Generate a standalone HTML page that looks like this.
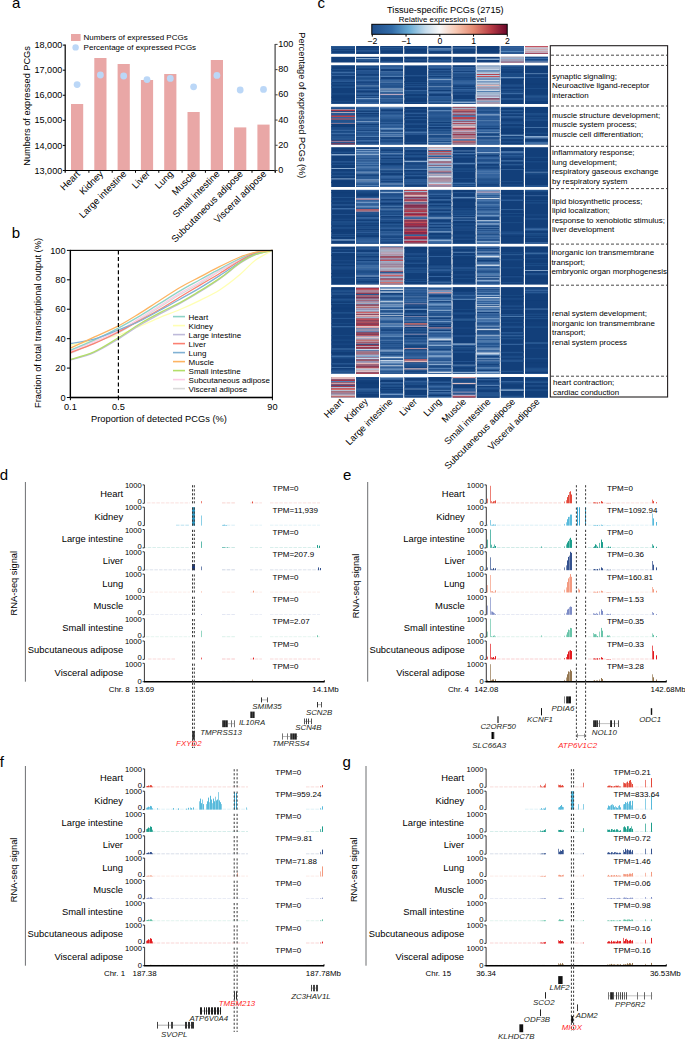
<!DOCTYPE html>
<html><head><meta charset="utf-8"><style>
html,body{margin:0;padding:0;background:#fff}
body{width:685px;height:1041px;overflow:hidden}
svg{display:block}
text{font-family:"Liberation Sans", sans-serif}
</style></head><body>
<svg width="685" height="1041" viewBox="0 0 685 1041">
<text x="12.0" y="7.7" font-size="15">a</text>
<rect x="71.00" y="104.00" width="12.20" height="66.50" fill="#E9A7A6"/>
<rect x="94.30" y="58.00" width="12.20" height="112.50" fill="#E9A7A6"/>
<rect x="117.60" y="64.00" width="12.20" height="106.50" fill="#E9A7A6"/>
<rect x="140.90" y="80.00" width="12.20" height="90.50" fill="#E9A7A6"/>
<rect x="164.20" y="74.00" width="12.20" height="96.50" fill="#E9A7A6"/>
<rect x="187.50" y="112.00" width="12.20" height="58.50" fill="#E9A7A6"/>
<rect x="210.80" y="60.00" width="12.20" height="110.50" fill="#E9A7A6"/>
<rect x="234.10" y="127.40" width="12.20" height="43.10" fill="#E9A7A6"/>
<rect x="257.40" y="124.60" width="12.20" height="45.90" fill="#E9A7A6"/>
<circle cx="77.10" cy="84.6" r="3.4" fill="#BBD7F7"/>
<circle cx="100.40" cy="75" r="3.4" fill="#BBD7F7"/>
<circle cx="123.70" cy="76" r="3.4" fill="#BBD7F7"/>
<circle cx="147.00" cy="79.6" r="3.4" fill="#BBD7F7"/>
<circle cx="170.30" cy="78.4" r="3.4" fill="#BBD7F7"/>
<circle cx="193.60" cy="86.8" r="3.4" fill="#BBD7F7"/>
<circle cx="216.90" cy="75.4" r="3.4" fill="#BBD7F7"/>
<circle cx="240.20" cy="90" r="3.4" fill="#BBD7F7"/>
<circle cx="263.50" cy="89.4" r="3.4" fill="#BBD7F7"/>
<line x1="65.20" y1="44.60" x2="65.20" y2="172.70" stroke="#000" stroke-width="1.2"/>
<line x1="64.60" y1="170.50" x2="275.90" y2="170.50" stroke="#000" stroke-width="1.2"/>
<line x1="275.10" y1="44.00" x2="275.10" y2="172.50" stroke="#444" stroke-width="1.2"/>
<line x1="62.80" y1="45.10" x2="65.20" y2="45.10" stroke="#000" stroke-width="1"/>
<text x="62.3" y="48.2" font-size="9.1" text-anchor="end">18,000</text>
<line x1="62.80" y1="70.18" x2="65.20" y2="70.18" stroke="#000" stroke-width="1"/>
<text x="62.3" y="73.3" font-size="9.1" text-anchor="end">17,000</text>
<line x1="62.80" y1="95.26" x2="65.20" y2="95.26" stroke="#000" stroke-width="1"/>
<text x="62.3" y="98.4" font-size="9.1" text-anchor="end">16,000</text>
<line x1="62.80" y1="120.34" x2="65.20" y2="120.34" stroke="#000" stroke-width="1"/>
<text x="62.3" y="123.4" font-size="9.1" text-anchor="end">15,000</text>
<line x1="62.80" y1="145.42" x2="65.20" y2="145.42" stroke="#000" stroke-width="1"/>
<text x="62.3" y="148.5" font-size="9.1" text-anchor="end">14,000</text>
<line x1="62.80" y1="170.50" x2="65.20" y2="170.50" stroke="#000" stroke-width="1"/>
<text x="62.3" y="173.6" font-size="9.1" text-anchor="end">13,000</text>
<line x1="275.10" y1="44.40" x2="277.60" y2="44.40" stroke="#444" stroke-width="1"/>
<text x="278.2" y="47.0" font-size="9.1">100</text>
<line x1="275.10" y1="69.62" x2="277.60" y2="69.62" stroke="#444" stroke-width="1"/>
<text x="278.2" y="72.2" font-size="9.1">80</text>
<line x1="275.10" y1="94.84" x2="277.60" y2="94.84" stroke="#444" stroke-width="1"/>
<text x="278.2" y="97.4" font-size="9.1">60</text>
<line x1="275.10" y1="120.06" x2="277.60" y2="120.06" stroke="#444" stroke-width="1"/>
<text x="278.2" y="122.7" font-size="9.1">40</text>
<line x1="275.10" y1="145.28" x2="277.60" y2="145.28" stroke="#444" stroke-width="1"/>
<text x="278.2" y="147.9" font-size="9.1">20</text>
<line x1="275.10" y1="170.50" x2="277.60" y2="170.50" stroke="#444" stroke-width="1"/>
<text x="278.2" y="173.1" font-size="9.1">0</text>
<line x1="88.90" y1="170.50" x2="88.90" y2="172.80" stroke="#000" stroke-width="1"/>
<line x1="112.20" y1="170.50" x2="112.20" y2="172.80" stroke="#000" stroke-width="1"/>
<line x1="135.50" y1="170.50" x2="135.50" y2="172.80" stroke="#000" stroke-width="1"/>
<line x1="158.80" y1="170.50" x2="158.80" y2="172.80" stroke="#000" stroke-width="1"/>
<line x1="182.10" y1="170.50" x2="182.10" y2="172.80" stroke="#000" stroke-width="1"/>
<line x1="205.40" y1="170.50" x2="205.40" y2="172.80" stroke="#000" stroke-width="1"/>
<line x1="228.70" y1="170.50" x2="228.70" y2="172.80" stroke="#000" stroke-width="1"/>
<line x1="252.00" y1="170.50" x2="252.00" y2="172.80" stroke="#000" stroke-width="1"/>
<line x1="275.30" y1="170.50" x2="275.30" y2="172.80" stroke="#000" stroke-width="1"/>
<text x="0" y="0" font-size="9.5" text-anchor="end" transform="translate(80.5,174.6) rotate(-45)">Heart</text>
<text x="0" y="0" font-size="9.5" text-anchor="end" transform="translate(103.8,174.6) rotate(-45)">Kidney</text>
<text x="0" y="0" font-size="9.5" text-anchor="end" transform="translate(127.1,174.6) rotate(-45)">Large intestine</text>
<text x="0" y="0" font-size="9.5" text-anchor="end" transform="translate(150.4,174.6) rotate(-45)">Liver</text>
<text x="0" y="0" font-size="9.5" text-anchor="end" transform="translate(173.7,174.6) rotate(-45)">Lung</text>
<text x="0" y="0" font-size="9.5" text-anchor="end" transform="translate(197.0,174.6) rotate(-45)">Muscle</text>
<text x="0" y="0" font-size="9.5" text-anchor="end" transform="translate(220.3,174.6) rotate(-45)">Small intestine</text>
<text x="0" y="0" font-size="9.5" text-anchor="end" transform="translate(243.6,174.6) rotate(-45)">Subcutaneous adipose</text>
<text x="0" y="0" font-size="9.5" text-anchor="end" transform="translate(266.9,174.6) rotate(-45)">Visceral adipose</text>
<rect x="71.00" y="34.00" width="9.60" height="7.00" fill="#E9A7A6"/>
<text x="83.6" y="40.3" font-size="8">Numbers of expressed PCGs</text>
<circle cx="75.6" cy="47.4" r="3.2" fill="#BBD7F7"/>
<text x="83.6" y="50.3" font-size="8">Percentage of expressed PCGs</text>
<text x="0" y="0" font-size="9.2" text-anchor="middle" transform="translate(29.8,105.9) rotate(-90)">Numbers of expressed PCGs</text>
<text x="0" y="0" font-size="9.2" text-anchor="middle" transform="translate(299.4,105.3) rotate(90)">Percentage of expressed PCGs (%)</text>
<text x="11.8" y="237.6" font-size="15">b</text>
<path d="M70.4,345.3 C74.3,344.5 86.0,342.4 94.0,340.7 C102.0,339.0 110.7,337.4 118.4,335.0 C126.1,332.6 133.1,329.1 140.0,326.2 C146.9,323.2 153.3,320.1 160.0,317.3 C166.7,314.6 173.3,312.4 180.0,309.5 C186.7,306.7 193.3,303.6 200.0,300.3 C206.7,297.0 213.3,294.0 220.0,289.7 C226.7,285.4 234.2,279.4 240.0,274.5 C245.8,269.7 249.6,264.6 255.0,260.5 C260.4,256.5 269.5,252.1 272.4,250.4" fill="none" stroke="#FFFFB3" stroke-width="1.3"/>
<path d="M70.4,353.4 C74.3,351.7 86.0,346.5 94.0,343.1 C102.0,339.6 110.7,336.7 118.4,332.8 C126.1,328.9 133.1,323.8 140.0,319.5 C146.9,315.2 153.3,311.2 160.0,307.0 C166.7,302.9 173.3,298.5 180.0,294.5 C186.7,290.6 193.3,287.4 200.0,283.5 C206.7,279.6 213.3,274.9 220.0,271.0 C226.7,267.1 234.2,263.0 240.0,260.0 C245.8,257.0 249.6,254.6 255.0,253.0 C260.4,251.5 269.5,250.8 272.4,250.4" fill="none" stroke="#D9D9D9" stroke-width="1.3"/>
<path d="M70.4,351.2 C74.3,349.6 86.0,345.0 94.0,341.6 C102.0,338.2 110.7,334.9 118.4,331.0 C126.1,327.1 133.1,322.3 140.0,318.1 C146.9,313.8 153.3,309.7 160.0,305.6 C166.7,301.4 173.3,297.0 180.0,293.1 C186.7,289.1 193.3,285.8 200.0,282.0 C206.7,278.2 213.3,274.1 220.0,270.3 C226.7,266.5 234.2,262.1 240.0,259.2 C245.8,256.3 249.6,254.4 255.0,252.9 C260.4,251.4 269.5,250.8 272.4,250.4" fill="none" stroke="#FCCDE5" stroke-width="1.3"/>
<path d="M70.4,360.0 C74.3,358.8 86.0,356.1 94.0,352.6 C102.0,349.1 110.7,343.6 118.4,339.0 C126.1,334.3 133.1,329.1 140.0,325.0 C146.9,320.8 153.3,317.6 160.0,313.9 C166.7,310.3 173.3,307.1 180.0,303.4 C186.7,299.6 193.3,295.7 200.0,291.6 C206.7,287.5 213.3,283.4 220.0,278.6 C226.7,273.9 234.2,267.3 240.0,263.3 C245.8,259.4 249.6,257.0 255.0,254.8 C260.4,252.7 269.5,251.1 272.4,250.4" fill="none" stroke="#BEBADA" stroke-width="1.3"/>
<path d="M70.4,350.1 C74.3,348.5 86.0,343.8 94.0,340.1 C102.0,336.5 110.7,332.1 118.4,328.1 C126.1,324.0 133.1,320.0 140.0,315.9 C146.9,311.7 153.3,307.5 160.0,303.4 C166.7,299.2 173.3,294.8 180.0,290.9 C186.7,286.9 193.3,283.5 200.0,279.8 C206.7,276.1 213.3,272.3 220.0,268.8 C226.7,265.2 234.2,261.2 240.0,258.5 C245.8,255.8 249.6,254.0 255.0,252.6 C260.4,251.3 269.5,250.8 272.4,250.4" fill="none" stroke="#8DD3C7" stroke-width="1.3"/>
<path d="M70.4,352.6 C74.3,351.1 86.0,347.1 94.0,343.7 C102.0,340.2 110.7,335.9 118.4,332.0 C126.1,328.1 133.1,324.1 140.0,320.3 C146.9,316.5 153.3,313.1 160.0,309.2 C166.7,305.4 173.3,301.1 180.0,297.0 C186.7,293.0 193.3,289.1 200.0,285.1 C206.7,281.1 213.3,277.3 220.0,273.2 C226.7,269.1 234.2,264.0 240.0,260.7 C245.8,257.4 249.6,255.1 255.0,253.3 C260.4,251.6 269.5,250.9 272.4,250.4" fill="none" stroke="#FB8072" stroke-width="1.3"/>
<path d="M70.4,343.5 C74.3,342.8 86.0,341.5 94.0,339.2 C102.0,337.0 110.7,333.0 118.4,330.0 C126.1,326.9 133.1,324.3 140.0,321.0 C146.9,317.7 153.3,313.9 160.0,310.3 C166.7,306.6 173.3,303.0 180.0,299.2 C186.7,295.5 193.3,291.9 200.0,287.9 C206.7,283.9 213.3,279.7 220.0,275.4 C226.7,271.1 234.2,265.7 240.0,262.2 C245.8,258.6 249.6,256.0 255.0,254.1 C260.4,252.1 269.5,251.0 272.4,250.4" fill="none" stroke="#80B1D3" stroke-width="1.3"/>
<path d="M70.4,359.4 C74.3,358.2 86.0,355.5 94.0,351.9 C102.0,348.3 110.7,342.5 118.4,337.8 C126.1,333.1 133.1,327.8 140.0,323.7 C146.9,319.5 153.3,316.1 160.0,312.6 C166.7,309.1 173.3,306.2 180.0,302.6 C186.7,299.0 193.3,294.9 200.0,290.9 C206.7,286.8 213.3,282.7 220.0,278.1 C226.7,273.4 234.2,266.7 240.0,262.8 C245.8,258.9 249.6,256.7 255.0,254.7 C260.4,252.6 269.5,251.1 272.4,250.4" fill="none" stroke="#B3DE69" stroke-width="1.3"/>
<path d="M70.4,348.2 C74.3,346.4 86.0,340.9 94.0,337.2 C102.0,333.5 110.7,329.9 118.4,325.9 C126.1,321.8 133.1,317.3 140.0,313.1 C146.9,308.8 153.3,304.5 160.0,300.3 C166.7,296.0 173.3,291.4 180.0,287.5 C186.7,283.6 193.3,280.4 200.0,276.9 C206.7,273.4 213.3,269.7 220.0,266.4 C226.7,263.1 234.2,259.4 240.0,257.0 C245.8,254.7 249.6,253.4 255.0,252.3 C260.4,251.2 269.5,250.7 272.4,250.4" fill="none" stroke="#FDB462" stroke-width="1.3"/>
<line x1="118.40" y1="250.40" x2="118.40" y2="397.50" stroke="#000" stroke-width="1.2" stroke-dasharray="4 2.6"/>
<rect x="70.4" y="250.4" width="201.99999999999997" height="147.1" fill="none" stroke="#000" stroke-width="1.1"/>
<line x1="70.40" y1="249.90" x2="70.40" y2="398.10" stroke="#000" stroke-width="1.3"/>
<line x1="69.80" y1="397.50" x2="272.90" y2="397.50" stroke="#000" stroke-width="1.3"/>
<line x1="66.90" y1="397.50" x2="70.40" y2="397.50" stroke="#000" stroke-width="1"/>
<text x="65.6" y="400.7" font-size="9.2" text-anchor="end">0</text>
<line x1="66.90" y1="368.08" x2="70.40" y2="368.08" stroke="#000" stroke-width="1"/>
<text x="65.6" y="371.3" font-size="9.2" text-anchor="end">20</text>
<line x1="66.90" y1="338.66" x2="70.40" y2="338.66" stroke="#000" stroke-width="1"/>
<text x="65.6" y="341.9" font-size="9.2" text-anchor="end">40</text>
<line x1="66.90" y1="309.24" x2="70.40" y2="309.24" stroke="#000" stroke-width="1"/>
<text x="65.6" y="312.4" font-size="9.2" text-anchor="end">60</text>
<line x1="66.90" y1="279.82" x2="70.40" y2="279.82" stroke="#000" stroke-width="1"/>
<text x="65.6" y="283.0" font-size="9.2" text-anchor="end">80</text>
<line x1="66.90" y1="250.40" x2="70.40" y2="250.40" stroke="#000" stroke-width="1"/>
<text x="65.6" y="253.6" font-size="9.2" text-anchor="end">100</text>
<line x1="70.40" y1="397.50" x2="70.40" y2="400.20" stroke="#000" stroke-width="1"/>
<text x="70.4" y="409.9" font-size="9.2" text-anchor="middle">0.1</text>
<line x1="118.40" y1="397.50" x2="118.40" y2="400.20" stroke="#000" stroke-width="1"/>
<text x="118.4" y="409.9" font-size="9.2" text-anchor="middle">0.5</text>
<line x1="272.40" y1="397.50" x2="272.40" y2="400.20" stroke="#000" stroke-width="1"/>
<text x="272.4" y="409.9" font-size="9.2" text-anchor="middle">90</text>
<text x="159.0" y="422.0" font-size="9.3" text-anchor="middle">Proportion of detected PCGs (%)</text>
<text x="0" y="0" font-size="9.3" text-anchor="middle" transform="translate(41.0,323) rotate(-90)">Fraction of total transcriptional output (%)</text>
<line x1="173.00" y1="316.60" x2="185.00" y2="316.60" stroke="#8DD3C7" stroke-width="1.6"/>
<text x="188.6" y="319.5" font-size="8">Heart</text>
<line x1="173.00" y1="325.60" x2="185.00" y2="325.60" stroke="#FFFFB3" stroke-width="1.6"/>
<text x="188.6" y="328.5" font-size="8">Kidney</text>
<line x1="173.00" y1="334.60" x2="185.00" y2="334.60" stroke="#BEBADA" stroke-width="1.6"/>
<text x="188.6" y="337.5" font-size="8">Large intestine</text>
<line x1="173.00" y1="343.60" x2="185.00" y2="343.60" stroke="#FB8072" stroke-width="1.6"/>
<text x="188.6" y="346.5" font-size="8">Liver</text>
<line x1="173.00" y1="352.60" x2="185.00" y2="352.60" stroke="#80B1D3" stroke-width="1.6"/>
<text x="188.6" y="355.5" font-size="8">Lung</text>
<line x1="173.00" y1="361.60" x2="185.00" y2="361.60" stroke="#FDB462" stroke-width="1.6"/>
<text x="188.6" y="364.5" font-size="8">Muscle</text>
<line x1="173.00" y1="370.60" x2="185.00" y2="370.60" stroke="#B3DE69" stroke-width="1.6"/>
<text x="188.6" y="373.5" font-size="8">Small intestine</text>
<line x1="173.00" y1="379.60" x2="185.00" y2="379.60" stroke="#FCCDE5" stroke-width="1.6"/>
<text x="188.6" y="382.5" font-size="8">Subcutaneous adipose</text>
<line x1="173.00" y1="388.60" x2="185.00" y2="388.60" stroke="#D9D9D9" stroke-width="1.6"/>
<text x="188.6" y="391.5" font-size="8">Visceral adipose</text>
<text x="317.6" y="7.7" font-size="15">c</text>
<text x="445.4" y="12.8" font-size="9.2" text-anchor="middle">Tissue-specific PCGs (2715)</text>
<text x="442.5" y="22.0" font-size="7.9" text-anchor="middle">Relative expression level</text>
<defs><linearGradient id="cb" x1="0" x2="1" y1="0" y2="0"><stop offset="0.0" stop-color="#1f4e8a"/><stop offset="0.15" stop-color="#336ca8"/><stop offset="0.28" stop-color="#6baed6"/><stop offset="0.4" stop-color="#c6dcec"/><stop offset="0.5" stop-color="#f7f7f7"/><stop offset="0.62" stop-color="#f8c9b4"/><stop offset="0.75" stop-color="#e48a72"/><stop offset="0.88" stop-color="#b83c45"/><stop offset="1.0" stop-color="#6a062a"/></linearGradient></defs>
<rect x="371.8" y="24.3" width="135.4" height="10" fill="url(#cb)" stroke="#000" stroke-width="1"/>
<line x1="372.30" y1="34.30" x2="372.30" y2="36.60" stroke="#000" stroke-width="1"/>
<text x="372.3" y="43.9" font-size="8.7" text-anchor="middle">−2</text>
<line x1="406.05" y1="34.30" x2="406.05" y2="36.60" stroke="#000" stroke-width="1"/>
<text x="406.1" y="43.9" font-size="8.7" text-anchor="middle">−1</text>
<line x1="439.80" y1="34.30" x2="439.80" y2="36.60" stroke="#000" stroke-width="1"/>
<text x="439.8" y="43.9" font-size="8.7" text-anchor="middle">0</text>
<line x1="473.55" y1="34.30" x2="473.55" y2="36.60" stroke="#000" stroke-width="1"/>
<text x="473.6" y="43.9" font-size="8.7" text-anchor="middle">1</text>
<line x1="507.30" y1="34.30" x2="507.30" y2="36.60" stroke="#000" stroke-width="1"/>
<text x="507.3" y="43.9" font-size="8.7" text-anchor="middle">2</text>
<rect x="331.20" y="46.00" width="23.80" height="7.80" fill="#123f7a"/>
<rect x="331.2" y="46.00" width="23.8" height="1.50" fill="#285891"/>
<rect x="331.2" y="47.50" width="23.8" height="1.50" fill="#21518c"/>
<rect x="331.2" y="49.90" width="23.8" height="0.90" fill="#21518c"/>
<rect x="331.2" y="53.10" width="23.8" height="0.70" fill="#3b6aa3"/>
<rect x="356.10" y="46.00" width="22.90" height="7.80" fill="#123f7a"/>
<rect x="356.1" y="46.90" width="22.9" height="0.70" fill="#113d77"/>
<rect x="356.1" y="47.60" width="22.9" height="1.20" fill="#1c4c87"/>
<rect x="356.1" y="48.80" width="22.9" height="0.70" fill="#1c4c87"/>
<rect x="356.1" y="50.40" width="22.9" height="1.00" fill="#33639e"/>
<rect x="356.1" y="52.90" width="22.9" height="0.90" fill="#113d77"/>
<rect x="380.20" y="46.00" width="22.90" height="7.80" fill="#123f7a"/>
<rect x="380.2" y="46.90" width="22.9" height="1.20" fill="#285891"/>
<rect x="380.2" y="48.10" width="22.9" height="1.20" fill="#1c4c87"/>
<rect x="380.2" y="49.30" width="22.9" height="1.00" fill="#21518c"/>
<rect x="380.2" y="53.30" width="22.9" height="0.50" fill="#21518c"/>
<rect x="404.30" y="46.00" width="22.90" height="7.80" fill="#123f7a"/>
<rect x="404.3" y="47.00" width="22.9" height="1.00" fill="#21518c"/>
<rect x="404.3" y="48.00" width="22.9" height="0.90" fill="#1c4c87"/>
<rect x="404.3" y="53.30" width="22.9" height="0.50" fill="#1c4c87"/>
<rect x="428.40" y="46.00" width="23.00" height="7.80" fill="#123f7a"/>
<rect x="428.4" y="47.50" width="23.0" height="0.90" fill="#1c4c87"/>
<rect x="428.4" y="48.40" width="23.0" height="1.20" fill="#89aacf"/>
<rect x="428.4" y="49.60" width="23.0" height="1.50" fill="#3b6aa3"/>
<rect x="428.4" y="53.50" width="23.0" height="0.30" fill="#113d77"/>
<rect x="452.60" y="46.00" width="23.00" height="7.80" fill="#123f7a"/>
<rect x="452.6" y="47.50" width="23.0" height="0.90" fill="#5a86b8"/>
<rect x="452.6" y="49.40" width="23.0" height="1.00" fill="#1c4c87"/>
<rect x="476.80" y="46.00" width="22.80" height="7.80" fill="#123f7a"/>
<rect x="476.8" y="47.50" width="22.8" height="0.70" fill="#113d77"/>
<rect x="476.8" y="50.40" width="22.8" height="0.90" fill="#113d77"/>
<rect x="500.80" y="46.00" width="23.00" height="7.80" fill="#123f7a"/>
<rect x="500.8" y="46.00" width="23.0" height="1.50" fill="#2a5994"/>
<rect x="500.8" y="47.50" width="23.0" height="1.00" fill="#4a78b0"/>
<rect x="500.8" y="48.50" width="23.0" height="2.50" fill="#2c5c97"/>
<rect x="500.8" y="51.00" width="23.0" height="1.00" fill="#5585b8"/>
<rect x="500.8" y="52.00" width="23.0" height="1.80" fill="#2a5994"/>
<rect x="525.00" y="46.00" width="23.00" height="7.80" fill="#123f7a"/>
<rect x="525.0" y="46.00" width="23.0" height="1.00" fill="#c25362"/>
<rect x="525.0" y="47.00" width="23.0" height="0.90" fill="#e8c6c6"/>
<rect x="525.0" y="47.90" width="23.0" height="1.00" fill="#d3d0e0"/>
<rect x="525.0" y="48.90" width="23.0" height="1.00" fill="#e2b9b9"/>
<rect x="525.0" y="49.90" width="23.0" height="1.00" fill="#dad2dc"/>
<rect x="525.0" y="50.90" width="23.0" height="1.00" fill="#e0b2b4"/>
<rect x="525.0" y="51.90" width="23.0" height="1.00" fill="#d8c4d0"/>
<rect x="525.0" y="52.90" width="23.0" height="0.90" fill="#b94a5a"/>
<rect x="331.20" y="56.80" width="23.80" height="5.70" fill="#123f7a"/>
<rect x="356.10" y="56.80" width="22.90" height="5.70" fill="#123f7a"/>
<rect x="356.1" y="58.00" width="22.9" height="1.00" fill="#89aacf"/>
<rect x="356.1" y="59.00" width="22.9" height="1.20" fill="#285891"/>
<rect x="356.1" y="60.20" width="22.9" height="1.00" fill="#285891"/>
<rect x="380.20" y="56.80" width="22.90" height="5.70" fill="#123f7a"/>
<rect x="380.2" y="61.40" width="22.9" height="1.10" fill="#2a5a95"/>
<rect x="404.30" y="56.80" width="22.90" height="5.70" fill="#123f7a"/>
<rect x="404.3" y="56.80" width="22.9" height="1.20" fill="#113d77"/>
<rect x="404.3" y="59.50" width="22.9" height="1.20" fill="#285891"/>
<rect x="404.3" y="60.70" width="22.9" height="0.70" fill="#113d77"/>
<rect x="428.40" y="56.80" width="23.00" height="5.70" fill="#123f7a"/>
<rect x="428.4" y="56.80" width="23.0" height="0.90" fill="#113d77"/>
<rect x="428.4" y="59.30" width="23.0" height="0.90" fill="#1c4c87"/>
<rect x="428.4" y="60.20" width="23.0" height="0.70" fill="#33639e"/>
<rect x="428.4" y="60.90" width="23.0" height="1.20" fill="#1c4c87"/>
<rect x="452.60" y="56.80" width="23.00" height="5.70" fill="#123f7a"/>
<rect x="452.6" y="59.60" width="23.0" height="1.00" fill="#21518c"/>
<rect x="476.80" y="56.80" width="22.80" height="5.70" fill="#123f7a"/>
<rect x="476.8" y="57.50" width="22.8" height="1.00" fill="#113d77"/>
<rect x="476.8" y="58.50" width="22.8" height="1.50" fill="#89aacf"/>
<rect x="500.80" y="56.80" width="23.00" height="5.70" fill="#123f7a"/>
<rect x="500.8" y="56.80" width="23.0" height="0.80" fill="#e6c0c0"/>
<rect x="500.8" y="57.60" width="23.0" height="1.00" fill="#b8d0e8"/>
<rect x="500.8" y="58.60" width="23.0" height="1.00" fill="#cad8e8"/>
<rect x="500.8" y="59.60" width="23.0" height="1.00" fill="#d8a8b2"/>
<rect x="500.8" y="60.60" width="23.0" height="1.00" fill="#bcd0e6"/>
<rect x="500.8" y="61.60" width="23.0" height="0.90" fill="#c26272"/>
<rect x="525.00" y="56.80" width="23.00" height="5.70" fill="#123f7a"/>
<rect x="525.0" y="56.80" width="23.0" height="1.20" fill="#1c4c88"/>
<rect x="525.0" y="58.00" width="23.0" height="1.20" fill="#3a6aa8"/>
<rect x="525.0" y="59.20" width="23.0" height="1.20" fill="#1a4a86"/>
<rect x="525.0" y="60.40" width="23.0" height="1.00" fill="#3f6ea9"/>
<rect x="525.0" y="61.40" width="23.0" height="1.10" fill="#7d8fb8"/>
<rect x="331.20" y="65.40" width="23.80" height="38.60" fill="#123f7a"/>
<rect x="331.2" y="65.40" width="23.8" height="0.70" fill="#285891"/>
<rect x="331.2" y="68.90" width="23.8" height="1.20" fill="#1c4c87"/>
<rect x="331.2" y="71.70" width="23.8" height="1.50" fill="#3b6aa3"/>
<rect x="331.2" y="73.20" width="23.8" height="0.70" fill="#21518c"/>
<rect x="331.2" y="74.80" width="23.8" height="1.00" fill="#3b6aa3"/>
<rect x="331.2" y="78.80" width="23.8" height="0.70" fill="#1c4c87"/>
<rect x="331.2" y="79.50" width="23.8" height="1.00" fill="#285891"/>
<rect x="331.2" y="80.50" width="23.8" height="1.50" fill="#2a5a95"/>
<rect x="331.2" y="83.20" width="23.8" height="1.50" fill="#1c4c87"/>
<rect x="331.2" y="86.40" width="23.8" height="1.50" fill="#21518c"/>
<rect x="331.2" y="93.60" width="23.8" height="0.70" fill="#2a5a95"/>
<rect x="331.2" y="96.70" width="23.8" height="0.90" fill="#113d77"/>
<rect x="331.2" y="101.30" width="23.8" height="0.70" fill="#1c4c87"/>
<rect x="331.2" y="103.70" width="23.8" height="0.30" fill="#4f7db2"/>
<rect x="356.10" y="65.40" width="22.90" height="38.60" fill="#123f7a"/>
<rect x="356.1" y="66.10" width="22.9" height="1.20" fill="#1c4c87"/>
<rect x="356.1" y="67.30" width="22.9" height="0.90" fill="#2a5a95"/>
<rect x="356.1" y="69.10" width="22.9" height="1.20" fill="#113d77"/>
<rect x="356.1" y="70.30" width="22.9" height="0.90" fill="#33639e"/>
<rect x="356.1" y="71.20" width="22.9" height="0.70" fill="#2a5a95"/>
<rect x="356.1" y="71.90" width="22.9" height="1.50" fill="#21518c"/>
<rect x="356.1" y="73.40" width="22.9" height="0.70" fill="#2a5a95"/>
<rect x="356.1" y="75.30" width="22.9" height="0.90" fill="#1c4c87"/>
<rect x="356.1" y="76.20" width="22.9" height="1.00" fill="#3b6aa3"/>
<rect x="356.1" y="77.20" width="22.9" height="1.20" fill="#285891"/>
<rect x="356.1" y="78.40" width="22.9" height="0.70" fill="#21518c"/>
<rect x="356.1" y="79.10" width="22.9" height="0.90" fill="#285891"/>
<rect x="356.1" y="80.00" width="22.9" height="1.50" fill="#33639e"/>
<rect x="356.1" y="81.50" width="22.9" height="1.00" fill="#1c4c87"/>
<rect x="356.1" y="83.50" width="22.9" height="1.00" fill="#33639e"/>
<rect x="356.1" y="85.40" width="22.9" height="1.20" fill="#7097c4"/>
<rect x="356.1" y="86.60" width="22.9" height="0.90" fill="#285891"/>
<rect x="356.1" y="87.50" width="22.9" height="0.70" fill="#2a5a95"/>
<rect x="356.1" y="88.90" width="22.9" height="1.50" fill="#33639e"/>
<rect x="356.1" y="92.80" width="22.9" height="0.70" fill="#5a86b8"/>
<rect x="356.1" y="93.50" width="22.9" height="1.50" fill="#2a5a95"/>
<rect x="356.1" y="95.90" width="22.9" height="1.20" fill="#33639e"/>
<rect x="356.1" y="97.10" width="22.9" height="0.70" fill="#113d77"/>
<rect x="356.1" y="97.80" width="22.9" height="1.20" fill="#7097c4"/>
<rect x="356.1" y="99.00" width="22.9" height="1.50" fill="#33639e"/>
<rect x="356.1" y="100.50" width="22.9" height="1.00" fill="#285891"/>
<rect x="356.1" y="101.50" width="22.9" height="1.20" fill="#285891"/>
<rect x="356.1" y="102.70" width="22.9" height="1.00" fill="#4f7db2"/>
<rect x="356.1" y="103.70" width="22.9" height="0.30" fill="#33639e"/>
<rect x="380.20" y="65.40" width="22.90" height="38.60" fill="#123f7a"/>
<rect x="380.2" y="65.40" width="22.9" height="0.90" fill="#2a5a95"/>
<rect x="380.2" y="66.30" width="22.9" height="0.70" fill="#33639e"/>
<rect x="380.2" y="67.00" width="22.9" height="0.90" fill="#3b6aa3"/>
<rect x="380.2" y="67.90" width="22.9" height="1.00" fill="#3b6aa3"/>
<rect x="380.2" y="71.40" width="22.9" height="1.00" fill="#5a86b8"/>
<rect x="380.2" y="72.40" width="22.9" height="0.90" fill="#33639e"/>
<rect x="380.2" y="73.30" width="22.9" height="0.70" fill="#3b6aa3"/>
<rect x="380.2" y="74.00" width="22.9" height="1.20" fill="#285891"/>
<rect x="380.2" y="75.20" width="22.9" height="0.70" fill="#33639e"/>
<rect x="380.2" y="75.90" width="22.9" height="1.00" fill="#5a86b8"/>
<rect x="380.2" y="79.10" width="22.9" height="1.00" fill="#2a5a95"/>
<rect x="380.2" y="80.10" width="22.9" height="0.70" fill="#4f7db2"/>
<rect x="380.2" y="80.80" width="22.9" height="0.90" fill="#285891"/>
<rect x="380.2" y="81.70" width="22.9" height="1.00" fill="#7097c4"/>
<rect x="380.2" y="82.70" width="22.9" height="0.90" fill="#2a5a95"/>
<rect x="380.2" y="83.60" width="22.9" height="1.50" fill="#2a5a95"/>
<rect x="380.2" y="85.10" width="22.9" height="1.50" fill="#285891"/>
<rect x="380.2" y="86.60" width="22.9" height="1.00" fill="#285891"/>
<rect x="380.2" y="87.60" width="22.9" height="1.00" fill="#3b6aa3"/>
<rect x="380.2" y="88.60" width="22.9" height="0.90" fill="#c4d4e6"/>
<rect x="380.2" y="90.40" width="22.9" height="1.50" fill="#89aacf"/>
<rect x="380.2" y="91.90" width="22.9" height="0.70" fill="#4f7db2"/>
<rect x="380.2" y="92.60" width="22.9" height="1.20" fill="#2a5a95"/>
<rect x="380.2" y="93.80" width="22.9" height="1.50" fill="#b9a9c2"/>
<rect x="380.2" y="95.30" width="22.9" height="1.50" fill="#2a5a95"/>
<rect x="380.2" y="96.80" width="22.9" height="0.70" fill="#3b6aa3"/>
<rect x="380.2" y="98.20" width="22.9" height="0.70" fill="#5a86b8"/>
<rect x="380.2" y="98.90" width="22.9" height="1.20" fill="#2a5a95"/>
<rect x="380.2" y="100.10" width="22.9" height="0.70" fill="#3b6aa3"/>
<rect x="380.2" y="100.80" width="22.9" height="1.20" fill="#2a5a95"/>
<rect x="380.2" y="102.70" width="22.9" height="0.90" fill="#3b6aa3"/>
<rect x="380.2" y="103.60" width="22.9" height="0.40" fill="#5a86b8"/>
<rect x="404.30" y="65.40" width="22.90" height="38.60" fill="#123f7a"/>
<rect x="404.3" y="75.30" width="22.9" height="0.90" fill="#2a5a95"/>
<rect x="404.3" y="77.20" width="22.9" height="1.00" fill="#113d77"/>
<rect x="404.3" y="81.10" width="22.9" height="1.00" fill="#113d77"/>
<rect x="404.3" y="82.10" width="22.9" height="0.90" fill="#1c4c87"/>
<rect x="404.3" y="84.00" width="22.9" height="0.70" fill="#21518c"/>
<rect x="404.3" y="85.90" width="22.9" height="1.50" fill="#21518c"/>
<rect x="404.3" y="88.30" width="22.9" height="1.20" fill="#113d77"/>
<rect x="404.3" y="90.20" width="22.9" height="1.20" fill="#3b6aa3"/>
<rect x="404.3" y="91.40" width="22.9" height="1.50" fill="#1c4c87"/>
<rect x="404.3" y="92.90" width="22.9" height="1.00" fill="#21518c"/>
<rect x="404.3" y="95.10" width="22.9" height="1.00" fill="#113d77"/>
<rect x="404.3" y="96.10" width="22.9" height="1.50" fill="#1c4c87"/>
<rect x="404.3" y="100.30" width="22.9" height="1.50" fill="#113d77"/>
<rect x="404.3" y="101.80" width="22.9" height="1.20" fill="#1c4c87"/>
<rect x="428.40" y="65.40" width="23.00" height="38.60" fill="#123f7a"/>
<rect x="428.4" y="65.40" width="23.0" height="0.90" fill="#33639e"/>
<rect x="428.4" y="66.30" width="23.0" height="0.70" fill="#33639e"/>
<rect x="428.4" y="67.00" width="23.0" height="0.90" fill="#3b6aa3"/>
<rect x="428.4" y="67.90" width="23.0" height="1.20" fill="#21518c"/>
<rect x="428.4" y="70.30" width="23.0" height="1.20" fill="#33639e"/>
<rect x="428.4" y="71.50" width="23.0" height="1.20" fill="#113d77"/>
<rect x="428.4" y="72.70" width="23.0" height="0.90" fill="#3b6aa3"/>
<rect x="428.4" y="73.60" width="23.0" height="1.50" fill="#1c4c87"/>
<rect x="428.4" y="75.10" width="23.0" height="1.20" fill="#33639e"/>
<rect x="428.4" y="76.30" width="23.0" height="0.70" fill="#113d77"/>
<rect x="428.4" y="77.00" width="23.0" height="0.90" fill="#285891"/>
<rect x="428.4" y="77.90" width="23.0" height="1.20" fill="#33639e"/>
<rect x="428.4" y="79.10" width="23.0" height="1.00" fill="#89aacf"/>
<rect x="428.4" y="80.10" width="23.0" height="1.50" fill="#33639e"/>
<rect x="428.4" y="81.60" width="23.0" height="1.00" fill="#33639e"/>
<rect x="428.4" y="82.60" width="23.0" height="0.70" fill="#3b6aa3"/>
<rect x="428.4" y="83.30" width="23.0" height="1.00" fill="#1c4c87"/>
<rect x="428.4" y="84.30" width="23.0" height="1.20" fill="#2a5a95"/>
<rect x="428.4" y="85.50" width="23.0" height="0.90" fill="#285891"/>
<rect x="428.4" y="86.40" width="23.0" height="0.90" fill="#89aacf"/>
<rect x="428.4" y="87.30" width="23.0" height="1.20" fill="#2a5a95"/>
<rect x="428.4" y="88.50" width="23.0" height="0.90" fill="#2a5a95"/>
<rect x="428.4" y="89.40" width="23.0" height="0.70" fill="#33639e"/>
<rect x="428.4" y="90.10" width="23.0" height="1.20" fill="#113d77"/>
<rect x="428.4" y="91.30" width="23.0" height="0.70" fill="#3b6aa3"/>
<rect x="428.4" y="92.00" width="23.0" height="1.50" fill="#3b6aa3"/>
<rect x="428.4" y="96.20" width="23.0" height="1.50" fill="#33639e"/>
<rect x="428.4" y="97.70" width="23.0" height="1.20" fill="#2a5a95"/>
<rect x="428.4" y="98.90" width="23.0" height="1.50" fill="#285891"/>
<rect x="428.4" y="100.40" width="23.0" height="0.70" fill="#21518c"/>
<rect x="428.4" y="101.10" width="23.0" height="1.50" fill="#3b6aa3"/>
<rect x="428.4" y="103.60" width="23.0" height="0.40" fill="#33639e"/>
<rect x="452.60" y="65.40" width="23.00" height="38.60" fill="#123f7a"/>
<rect x="452.6" y="65.40" width="23.0" height="0.70" fill="#1c4c87"/>
<rect x="452.6" y="67.10" width="23.0" height="1.50" fill="#33639e"/>
<rect x="452.6" y="68.60" width="23.0" height="1.20" fill="#2a5a95"/>
<rect x="452.6" y="69.80" width="23.0" height="0.90" fill="#3b6aa3"/>
<rect x="452.6" y="71.90" width="23.0" height="1.20" fill="#33639e"/>
<rect x="452.6" y="73.10" width="23.0" height="1.50" fill="#285891"/>
<rect x="452.6" y="75.30" width="23.0" height="1.50" fill="#285891"/>
<rect x="452.6" y="77.70" width="23.0" height="0.90" fill="#285891"/>
<rect x="452.6" y="78.60" width="23.0" height="1.50" fill="#1c4c87"/>
<rect x="452.6" y="80.10" width="23.0" height="0.70" fill="#33639e"/>
<rect x="452.6" y="80.80" width="23.0" height="0.90" fill="#3b6aa3"/>
<rect x="452.6" y="81.70" width="23.0" height="1.20" fill="#3b6aa3"/>
<rect x="452.6" y="82.90" width="23.0" height="1.50" fill="#33639e"/>
<rect x="452.6" y="84.40" width="23.0" height="1.00" fill="#2a5a95"/>
<rect x="452.6" y="86.90" width="23.0" height="1.00" fill="#2a5a95"/>
<rect x="452.6" y="87.90" width="23.0" height="0.90" fill="#113d77"/>
<rect x="452.6" y="88.80" width="23.0" height="1.50" fill="#33639e"/>
<rect x="452.6" y="90.30" width="23.0" height="1.20" fill="#2a5a95"/>
<rect x="452.6" y="91.50" width="23.0" height="1.00" fill="#2a5a95"/>
<rect x="452.6" y="92.50" width="23.0" height="1.20" fill="#113d77"/>
<rect x="452.6" y="93.70" width="23.0" height="0.70" fill="#3b6aa3"/>
<rect x="452.6" y="99.20" width="23.0" height="0.70" fill="#33639e"/>
<rect x="452.6" y="99.90" width="23.0" height="0.70" fill="#1c4c87"/>
<rect x="452.6" y="100.60" width="23.0" height="1.00" fill="#2a5a95"/>
<rect x="452.6" y="101.60" width="23.0" height="1.50" fill="#89aacf"/>
<rect x="452.6" y="103.10" width="23.0" height="0.90" fill="#2a5a95"/>
<rect x="476.80" y="65.40" width="22.80" height="38.60" fill="#123f7a"/>
<rect x="476.8" y="65.40" width="22.8" height="1.00" fill="#c4d4e6"/>
<rect x="476.8" y="66.40" width="22.8" height="0.90" fill="#b3c8df"/>
<rect x="476.8" y="67.30" width="22.8" height="0.90" fill="#d3dde9"/>
<rect x="476.8" y="68.20" width="22.8" height="0.70" fill="#d3dde9"/>
<rect x="476.8" y="68.90" width="22.8" height="1.20" fill="#c4d4e6"/>
<rect x="476.8" y="70.10" width="22.8" height="1.50" fill="#7097c4"/>
<rect x="476.8" y="71.60" width="22.8" height="0.70" fill="#b3c8df"/>
<rect x="476.8" y="72.30" width="22.8" height="0.70" fill="#d3dde9"/>
<rect x="476.8" y="73.00" width="22.8" height="1.00" fill="#b3c8df"/>
<rect x="476.8" y="74.00" width="22.8" height="1.00" fill="#b4424f"/>
<rect x="476.8" y="75.00" width="22.8" height="1.00" fill="#b3c8df"/>
<rect x="476.8" y="76.00" width="22.8" height="1.20" fill="#c0505a"/>
<rect x="476.8" y="77.20" width="22.8" height="1.50" fill="#b3c8df"/>
<rect x="476.8" y="78.70" width="22.8" height="1.00" fill="#5a86b8"/>
<rect x="476.8" y="79.70" width="22.8" height="1.50" fill="#c4d4e6"/>
<rect x="476.8" y="81.20" width="22.8" height="1.20" fill="#89aacf"/>
<rect x="476.8" y="82.40" width="22.8" height="0.70" fill="#c4d4e6"/>
<rect x="476.8" y="83.10" width="22.8" height="1.50" fill="#c4d4e6"/>
<rect x="476.8" y="84.60" width="22.8" height="1.50" fill="#e2b8b8"/>
<rect x="476.8" y="86.10" width="22.8" height="0.70" fill="#c4d4e6"/>
<rect x="476.8" y="86.80" width="22.8" height="0.70" fill="#c4d4e6"/>
<rect x="476.8" y="87.50" width="22.8" height="1.00" fill="#d8a0a6"/>
<rect x="476.8" y="88.50" width="22.8" height="1.00" fill="#b3c8df"/>
<rect x="476.8" y="89.50" width="22.8" height="1.50" fill="#c4d4e6"/>
<rect x="476.8" y="91.00" width="22.8" height="0.90" fill="#4f7db2"/>
<rect x="476.8" y="91.90" width="22.8" height="0.70" fill="#c4d4e6"/>
<rect x="476.8" y="92.60" width="22.8" height="1.00" fill="#d3dde9"/>
<rect x="476.8" y="93.60" width="22.8" height="1.20" fill="#c4d4e6"/>
<rect x="476.8" y="94.80" width="22.8" height="0.90" fill="#d3dde9"/>
<rect x="476.8" y="95.70" width="22.8" height="1.20" fill="#b9a9c2"/>
<rect x="476.8" y="96.90" width="22.8" height="1.50" fill="#c4d4e6"/>
<rect x="476.8" y="98.40" width="22.8" height="1.20" fill="#a5364a"/>
<rect x="476.8" y="99.60" width="22.8" height="1.20" fill="#dcc0c4"/>
<rect x="476.8" y="100.80" width="22.8" height="0.70" fill="#7097c4"/>
<rect x="476.8" y="101.50" width="22.8" height="1.00" fill="#c4d4e6"/>
<rect x="476.8" y="102.50" width="22.8" height="1.20" fill="#d8a0a6"/>
<rect x="476.8" y="103.70" width="22.8" height="0.30" fill="#b3c8df"/>
<rect x="500.80" y="65.40" width="23.00" height="38.60" fill="#123f7a"/>
<rect x="500.8" y="65.40" width="23.0" height="0.90" fill="#3b6aa3"/>
<rect x="500.8" y="66.30" width="23.0" height="1.00" fill="#2a5a95"/>
<rect x="500.8" y="68.20" width="23.0" height="0.70" fill="#21518c"/>
<rect x="500.8" y="69.60" width="23.0" height="0.90" fill="#1c4c87"/>
<rect x="500.8" y="73.20" width="23.0" height="1.20" fill="#21518c"/>
<rect x="500.8" y="74.40" width="23.0" height="1.50" fill="#1c4c87"/>
<rect x="500.8" y="75.90" width="23.0" height="1.20" fill="#1c4c87"/>
<rect x="500.8" y="77.10" width="23.0" height="1.00" fill="#7097c4"/>
<rect x="500.8" y="78.10" width="23.0" height="0.90" fill="#2a5a95"/>
<rect x="500.8" y="79.00" width="23.0" height="1.00" fill="#113d77"/>
<rect x="500.8" y="84.60" width="23.0" height="0.90" fill="#2a5a95"/>
<rect x="500.8" y="85.50" width="23.0" height="1.20" fill="#21518c"/>
<rect x="500.8" y="86.70" width="23.0" height="0.70" fill="#1c4c87"/>
<rect x="500.8" y="87.40" width="23.0" height="1.20" fill="#113d77"/>
<rect x="500.8" y="88.60" width="23.0" height="1.50" fill="#21518c"/>
<rect x="500.8" y="90.80" width="23.0" height="0.90" fill="#21518c"/>
<rect x="500.8" y="92.70" width="23.0" height="1.50" fill="#3b6aa3"/>
<rect x="500.8" y="98.40" width="23.0" height="1.20" fill="#33639e"/>
<rect x="525.00" y="65.40" width="23.00" height="38.60" fill="#123f7a"/>
<rect x="525.0" y="73.40" width="23.0" height="0.70" fill="#7097c4"/>
<rect x="525.0" y="77.30" width="23.0" height="0.70" fill="#2a5a95"/>
<rect x="525.0" y="83.50" width="23.0" height="1.50" fill="#113d77"/>
<rect x="525.0" y="88.20" width="23.0" height="0.70" fill="#21518c"/>
<rect x="525.0" y="94.80" width="23.0" height="1.50" fill="#1c4c87"/>
<rect x="525.0" y="96.30" width="23.0" height="1.20" fill="#2a5a95"/>
<rect x="525.0" y="97.50" width="23.0" height="1.00" fill="#21518c"/>
<rect x="525.0" y="99.50" width="23.0" height="1.00" fill="#21518c"/>
<rect x="331.20" y="106.90" width="23.80" height="37.70" fill="#123f7a"/>
<rect x="331.2" y="106.90" width="23.8" height="1.00" fill="#33639e"/>
<rect x="331.2" y="107.90" width="23.8" height="1.20" fill="#21518c"/>
<rect x="331.2" y="109.10" width="23.8" height="0.70" fill="#dcc0c4"/>
<rect x="331.2" y="109.80" width="23.8" height="1.50" fill="#a5364a"/>
<rect x="331.2" y="111.30" width="23.8" height="0.90" fill="#21518c"/>
<rect x="331.2" y="112.20" width="23.8" height="0.90" fill="#dcc0c4"/>
<rect x="331.2" y="113.10" width="23.8" height="1.50" fill="#2a5a95"/>
<rect x="331.2" y="114.60" width="23.8" height="0.90" fill="#3b6aa3"/>
<rect x="331.2" y="115.50" width="23.8" height="1.50" fill="#b4424f"/>
<rect x="331.2" y="117.00" width="23.8" height="1.50" fill="#33639e"/>
<rect x="331.2" y="118.50" width="23.8" height="1.20" fill="#cc6266"/>
<rect x="331.2" y="119.70" width="23.8" height="1.00" fill="#2a5a95"/>
<rect x="331.2" y="120.70" width="23.8" height="0.90" fill="#285891"/>
<rect x="331.2" y="121.60" width="23.8" height="1.50" fill="#2a5a95"/>
<rect x="331.2" y="123.10" width="23.8" height="0.70" fill="#d8a0a6"/>
<rect x="331.2" y="123.80" width="23.8" height="1.00" fill="#113d77"/>
<rect x="331.2" y="125.80" width="23.8" height="1.50" fill="#113d77"/>
<rect x="331.2" y="127.30" width="23.8" height="1.20" fill="#21518c"/>
<rect x="331.2" y="128.50" width="23.8" height="1.00" fill="#21518c"/>
<rect x="331.2" y="129.50" width="23.8" height="0.70" fill="#285891"/>
<rect x="331.2" y="130.20" width="23.8" height="1.00" fill="#3b6aa3"/>
<rect x="331.2" y="131.20" width="23.8" height="0.70" fill="#1c4c87"/>
<rect x="331.2" y="131.90" width="23.8" height="0.90" fill="#1c4c87"/>
<rect x="331.2" y="132.80" width="23.8" height="1.50" fill="#3b6aa3"/>
<rect x="331.2" y="134.30" width="23.8" height="1.20" fill="#21518c"/>
<rect x="331.2" y="136.20" width="23.8" height="1.50" fill="#2a5a95"/>
<rect x="331.2" y="137.70" width="23.8" height="1.50" fill="#285891"/>
<rect x="331.2" y="139.20" width="23.8" height="0.70" fill="#2a5a95"/>
<rect x="331.2" y="140.80" width="23.8" height="0.70" fill="#c0505a"/>
<rect x="331.2" y="141.50" width="23.8" height="0.70" fill="#b9a9c2"/>
<rect x="331.2" y="142.20" width="23.8" height="1.20" fill="#285891"/>
<rect x="331.2" y="143.40" width="23.8" height="1.00" fill="#a5364a"/>
<rect x="331.2" y="144.40" width="23.8" height="0.20" fill="#33639e"/>
<rect x="356.10" y="106.90" width="22.90" height="37.70" fill="#123f7a"/>
<rect x="356.1" y="106.90" width="22.9" height="1.20" fill="#33639e"/>
<rect x="356.1" y="108.10" width="22.9" height="0.90" fill="#2a5a95"/>
<rect x="356.1" y="109.00" width="22.9" height="0.90" fill="#3b6aa3"/>
<rect x="356.1" y="109.90" width="22.9" height="1.00" fill="#285891"/>
<rect x="356.1" y="110.90" width="22.9" height="1.00" fill="#113d77"/>
<rect x="356.1" y="111.90" width="22.9" height="1.00" fill="#3b6aa3"/>
<rect x="356.1" y="112.90" width="22.9" height="1.50" fill="#113d77"/>
<rect x="356.1" y="114.40" width="22.9" height="0.90" fill="#2a5a95"/>
<rect x="356.1" y="116.50" width="22.9" height="0.90" fill="#2a5a95"/>
<rect x="356.1" y="117.40" width="22.9" height="1.20" fill="#3b6aa3"/>
<rect x="356.1" y="118.60" width="22.9" height="0.90" fill="#4f7db2"/>
<rect x="356.1" y="119.50" width="22.9" height="0.70" fill="#285891"/>
<rect x="356.1" y="120.20" width="22.9" height="1.00" fill="#2a5a95"/>
<rect x="356.1" y="121.20" width="22.9" height="0.90" fill="#89aacf"/>
<rect x="356.1" y="122.10" width="22.9" height="1.50" fill="#3b6aa3"/>
<rect x="356.1" y="125.10" width="22.9" height="1.00" fill="#2a5a95"/>
<rect x="356.1" y="126.10" width="22.9" height="1.00" fill="#21518c"/>
<rect x="356.1" y="127.10" width="22.9" height="1.00" fill="#33639e"/>
<rect x="356.1" y="128.10" width="22.9" height="1.00" fill="#2a5a95"/>
<rect x="356.1" y="129.10" width="22.9" height="0.70" fill="#33639e"/>
<rect x="356.1" y="130.80" width="22.9" height="1.20" fill="#3b6aa3"/>
<rect x="356.1" y="132.00" width="22.9" height="1.50" fill="#285891"/>
<rect x="356.1" y="133.50" width="22.9" height="1.50" fill="#2a5a95"/>
<rect x="356.1" y="135.00" width="22.9" height="0.90" fill="#2a5a95"/>
<rect x="356.1" y="135.90" width="22.9" height="1.50" fill="#4f7db2"/>
<rect x="356.1" y="137.40" width="22.9" height="1.00" fill="#113d77"/>
<rect x="356.1" y="138.40" width="22.9" height="0.70" fill="#2a5a95"/>
<rect x="356.1" y="139.10" width="22.9" height="0.90" fill="#1c4c87"/>
<rect x="356.1" y="140.00" width="22.9" height="1.50" fill="#3b6aa3"/>
<rect x="356.1" y="141.50" width="22.9" height="0.70" fill="#33639e"/>
<rect x="356.1" y="143.20" width="22.9" height="0.90" fill="#2a5a95"/>
<rect x="356.1" y="144.10" width="22.9" height="0.50" fill="#285891"/>
<rect x="380.20" y="106.90" width="22.90" height="37.70" fill="#123f7a"/>
<rect x="380.2" y="106.90" width="22.9" height="0.90" fill="#89aacf"/>
<rect x="380.2" y="107.80" width="22.9" height="1.50" fill="#3b6aa3"/>
<rect x="380.2" y="111.50" width="22.9" height="0.90" fill="#3b6aa3"/>
<rect x="380.2" y="112.40" width="22.9" height="0.70" fill="#33639e"/>
<rect x="380.2" y="113.10" width="22.9" height="0.70" fill="#21518c"/>
<rect x="380.2" y="113.80" width="22.9" height="1.20" fill="#2a5a95"/>
<rect x="380.2" y="115.00" width="22.9" height="0.70" fill="#4f7db2"/>
<rect x="380.2" y="115.70" width="22.9" height="1.50" fill="#33639e"/>
<rect x="380.2" y="117.20" width="22.9" height="0.70" fill="#3b6aa3"/>
<rect x="380.2" y="117.90" width="22.9" height="1.50" fill="#2a5a95"/>
<rect x="380.2" y="119.40" width="22.9" height="1.00" fill="#285891"/>
<rect x="380.2" y="120.40" width="22.9" height="0.70" fill="#21518c"/>
<rect x="380.2" y="121.10" width="22.9" height="0.70" fill="#1c4c87"/>
<rect x="380.2" y="121.80" width="22.9" height="1.00" fill="#3b6aa3"/>
<rect x="380.2" y="122.80" width="22.9" height="1.20" fill="#1c4c87"/>
<rect x="380.2" y="124.00" width="22.9" height="1.20" fill="#33639e"/>
<rect x="380.2" y="125.20" width="22.9" height="0.90" fill="#3b6aa3"/>
<rect x="380.2" y="126.10" width="22.9" height="0.90" fill="#2a5a95"/>
<rect x="380.2" y="127.00" width="22.9" height="1.00" fill="#33639e"/>
<rect x="380.2" y="128.00" width="22.9" height="1.00" fill="#7097c4"/>
<rect x="380.2" y="129.00" width="22.9" height="1.20" fill="#4f7db2"/>
<rect x="380.2" y="131.70" width="22.9" height="1.20" fill="#7097c4"/>
<rect x="380.2" y="132.90" width="22.9" height="1.00" fill="#2a5a95"/>
<rect x="380.2" y="133.90" width="22.9" height="0.90" fill="#7097c4"/>
<rect x="380.2" y="134.80" width="22.9" height="1.00" fill="#3b6aa3"/>
<rect x="380.2" y="135.80" width="22.9" height="1.00" fill="#89aacf"/>
<rect x="380.2" y="136.80" width="22.9" height="0.90" fill="#1c4c87"/>
<rect x="380.2" y="138.90" width="22.9" height="0.70" fill="#3b6aa3"/>
<rect x="380.2" y="139.60" width="22.9" height="1.00" fill="#2a5a95"/>
<rect x="380.2" y="140.60" width="22.9" height="1.20" fill="#1c4c87"/>
<rect x="380.2" y="141.80" width="22.9" height="0.70" fill="#285891"/>
<rect x="380.2" y="142.50" width="22.9" height="1.20" fill="#3b6aa3"/>
<rect x="380.2" y="143.70" width="22.9" height="0.90" fill="#3b6aa3"/>
<rect x="404.30" y="106.90" width="22.90" height="37.70" fill="#123f7a"/>
<rect x="404.3" y="109.30" width="22.9" height="0.70" fill="#21518c"/>
<rect x="404.3" y="111.40" width="22.9" height="1.20" fill="#113d77"/>
<rect x="404.3" y="112.60" width="22.9" height="1.50" fill="#2a5a95"/>
<rect x="404.3" y="116.10" width="22.9" height="0.70" fill="#2a5a95"/>
<rect x="404.3" y="118.30" width="22.9" height="0.70" fill="#113d77"/>
<rect x="404.3" y="119.00" width="22.9" height="1.20" fill="#21518c"/>
<rect x="404.3" y="123.30" width="22.9" height="1.50" fill="#21518c"/>
<rect x="404.3" y="128.10" width="22.9" height="1.20" fill="#21518c"/>
<rect x="404.3" y="131.60" width="22.9" height="1.20" fill="#4f7db2"/>
<rect x="404.3" y="133.50" width="22.9" height="1.00" fill="#3b6aa3"/>
<rect x="404.3" y="142.30" width="22.9" height="0.70" fill="#21518c"/>
<rect x="428.40" y="106.90" width="23.00" height="37.70" fill="#123f7a"/>
<rect x="428.4" y="106.90" width="23.0" height="1.20" fill="#2a5a95"/>
<rect x="428.4" y="108.10" width="23.0" height="0.90" fill="#1c4c87"/>
<rect x="428.4" y="109.00" width="23.0" height="1.00" fill="#1c4c87"/>
<rect x="428.4" y="110.00" width="23.0" height="1.50" fill="#5a86b8"/>
<rect x="428.4" y="112.20" width="23.0" height="1.00" fill="#285891"/>
<rect x="428.4" y="113.20" width="23.0" height="1.20" fill="#2a5a95"/>
<rect x="428.4" y="114.40" width="23.0" height="1.20" fill="#33639e"/>
<rect x="428.4" y="115.60" width="23.0" height="1.00" fill="#3b6aa3"/>
<rect x="428.4" y="116.60" width="23.0" height="1.20" fill="#2a5a95"/>
<rect x="428.4" y="117.80" width="23.0" height="0.90" fill="#285891"/>
<rect x="428.4" y="118.70" width="23.0" height="1.50" fill="#21518c"/>
<rect x="428.4" y="120.20" width="23.0" height="1.00" fill="#285891"/>
<rect x="428.4" y="121.20" width="23.0" height="0.70" fill="#3b6aa3"/>
<rect x="428.4" y="121.90" width="23.0" height="1.00" fill="#113d77"/>
<rect x="428.4" y="122.90" width="23.0" height="1.50" fill="#285891"/>
<rect x="428.4" y="124.40" width="23.0" height="0.90" fill="#21518c"/>
<rect x="428.4" y="126.00" width="23.0" height="1.20" fill="#33639e"/>
<rect x="428.4" y="127.20" width="23.0" height="1.50" fill="#113d77"/>
<rect x="428.4" y="128.70" width="23.0" height="1.50" fill="#285891"/>
<rect x="428.4" y="130.20" width="23.0" height="1.20" fill="#1c4c87"/>
<rect x="428.4" y="131.40" width="23.0" height="1.20" fill="#3b6aa3"/>
<rect x="428.4" y="132.60" width="23.0" height="1.50" fill="#2a5a95"/>
<rect x="428.4" y="134.10" width="23.0" height="0.70" fill="#89aacf"/>
<rect x="428.4" y="134.80" width="23.0" height="0.70" fill="#285891"/>
<rect x="428.4" y="136.40" width="23.0" height="0.70" fill="#21518c"/>
<rect x="428.4" y="137.10" width="23.0" height="0.70" fill="#33639e"/>
<rect x="428.4" y="138.50" width="23.0" height="1.00" fill="#7097c4"/>
<rect x="428.4" y="139.50" width="23.0" height="1.00" fill="#2a5a95"/>
<rect x="428.4" y="140.50" width="23.0" height="0.70" fill="#5a86b8"/>
<rect x="428.4" y="141.20" width="23.0" height="1.00" fill="#1c4c87"/>
<rect x="428.4" y="142.20" width="23.0" height="0.70" fill="#89aacf"/>
<rect x="428.4" y="142.90" width="23.0" height="1.00" fill="#33639e"/>
<rect x="428.4" y="143.90" width="23.0" height="0.70" fill="#3b6aa3"/>
<rect x="452.60" y="106.90" width="23.00" height="37.70" fill="#123f7a"/>
<rect x="452.6" y="106.90" width="23.0" height="0.90" fill="#a5364a"/>
<rect x="452.6" y="107.80" width="23.0" height="0.70" fill="#dcc0c4"/>
<rect x="452.6" y="108.50" width="23.0" height="0.90" fill="#d3dde9"/>
<rect x="452.6" y="109.40" width="23.0" height="1.50" fill="#d2706c"/>
<rect x="452.6" y="110.90" width="23.0" height="0.70" fill="#c0505a"/>
<rect x="452.6" y="111.60" width="23.0" height="1.00" fill="#b4424f"/>
<rect x="452.6" y="112.60" width="23.0" height="0.70" fill="#e2b8b8"/>
<rect x="452.6" y="113.30" width="23.0" height="1.00" fill="#b9a9c2"/>
<rect x="452.6" y="114.30" width="23.0" height="1.20" fill="#c0505a"/>
<rect x="452.6" y="115.50" width="23.0" height="1.50" fill="#4f7db2"/>
<rect x="452.6" y="117.00" width="23.0" height="1.00" fill="#b4424f"/>
<rect x="452.6" y="118.00" width="23.0" height="1.50" fill="#b4424f"/>
<rect x="452.6" y="119.50" width="23.0" height="0.70" fill="#e2b8b8"/>
<rect x="452.6" y="120.20" width="23.0" height="0.90" fill="#89aacf"/>
<rect x="452.6" y="121.10" width="23.0" height="0.70" fill="#b4424f"/>
<rect x="452.6" y="121.80" width="23.0" height="1.20" fill="#b9a9c2"/>
<rect x="452.6" y="123.00" width="23.0" height="0.90" fill="#b4424f"/>
<rect x="452.6" y="123.90" width="23.0" height="0.90" fill="#e2b8b8"/>
<rect x="452.6" y="124.80" width="23.0" height="0.70" fill="#b9a9c2"/>
<rect x="452.6" y="125.50" width="23.0" height="1.50" fill="#dcc0c4"/>
<rect x="452.6" y="127.00" width="23.0" height="1.00" fill="#d8a0a6"/>
<rect x="452.6" y="128.00" width="23.0" height="1.50" fill="#a5364a"/>
<rect x="452.6" y="129.50" width="23.0" height="1.50" fill="#c8909c"/>
<rect x="452.6" y="131.00" width="23.0" height="1.50" fill="#b9a9c2"/>
<rect x="452.6" y="132.50" width="23.0" height="0.70" fill="#d2706c"/>
<rect x="452.6" y="133.20" width="23.0" height="0.90" fill="#c8909c"/>
<rect x="452.6" y="134.10" width="23.0" height="1.20" fill="#a5364a"/>
<rect x="452.6" y="135.30" width="23.0" height="1.50" fill="#c8909c"/>
<rect x="452.6" y="136.80" width="23.0" height="0.90" fill="#d2706c"/>
<rect x="452.6" y="137.70" width="23.0" height="1.50" fill="#d8a0a6"/>
<rect x="452.6" y="139.20" width="23.0" height="1.50" fill="#5a86b8"/>
<rect x="452.6" y="140.70" width="23.0" height="1.20" fill="#d2706c"/>
<rect x="452.6" y="141.90" width="23.0" height="0.70" fill="#b4424f"/>
<rect x="452.6" y="142.60" width="23.0" height="1.00" fill="#c8909c"/>
<rect x="452.6" y="143.60" width="23.0" height="0.70" fill="#c8909c"/>
<rect x="452.6" y="144.30" width="23.0" height="0.30" fill="#d8a0a6"/>
<rect x="476.80" y="106.90" width="22.80" height="37.70" fill="#123f7a"/>
<rect x="476.8" y="106.90" width="22.8" height="1.50" fill="#285891"/>
<rect x="476.8" y="108.40" width="22.8" height="1.20" fill="#285891"/>
<rect x="476.8" y="109.60" width="22.8" height="0.70" fill="#3b6aa3"/>
<rect x="476.8" y="110.30" width="22.8" height="0.90" fill="#3b6aa3"/>
<rect x="476.8" y="111.20" width="22.8" height="1.50" fill="#21518c"/>
<rect x="476.8" y="112.70" width="22.8" height="1.50" fill="#33639e"/>
<rect x="476.8" y="114.20" width="22.8" height="1.50" fill="#89aacf"/>
<rect x="476.8" y="115.70" width="22.8" height="1.00" fill="#33639e"/>
<rect x="476.8" y="116.70" width="22.8" height="1.00" fill="#33639e"/>
<rect x="476.8" y="117.70" width="22.8" height="1.20" fill="#33639e"/>
<rect x="476.8" y="118.90" width="22.8" height="1.50" fill="#2a5a95"/>
<rect x="476.8" y="120.40" width="22.8" height="1.00" fill="#7097c4"/>
<rect x="476.8" y="121.40" width="22.8" height="1.20" fill="#33639e"/>
<rect x="476.8" y="122.60" width="22.8" height="1.20" fill="#3b6aa3"/>
<rect x="476.8" y="123.80" width="22.8" height="1.20" fill="#33639e"/>
<rect x="476.8" y="125.00" width="22.8" height="0.90" fill="#33639e"/>
<rect x="476.8" y="125.90" width="22.8" height="0.90" fill="#21518c"/>
<rect x="476.8" y="126.80" width="22.8" height="1.20" fill="#2a5a95"/>
<rect x="476.8" y="128.00" width="22.8" height="0.90" fill="#113d77"/>
<rect x="476.8" y="128.90" width="22.8" height="1.50" fill="#33639e"/>
<rect x="476.8" y="130.40" width="22.8" height="0.70" fill="#5a86b8"/>
<rect x="476.8" y="131.10" width="22.8" height="1.20" fill="#33639e"/>
<rect x="476.8" y="132.30" width="22.8" height="0.70" fill="#89aacf"/>
<rect x="476.8" y="133.00" width="22.8" height="1.20" fill="#285891"/>
<rect x="476.8" y="135.10" width="22.8" height="1.20" fill="#285891"/>
<rect x="476.8" y="136.30" width="22.8" height="0.70" fill="#89aacf"/>
<rect x="476.8" y="137.00" width="22.8" height="0.70" fill="#2a5a95"/>
<rect x="476.8" y="137.70" width="22.8" height="0.90" fill="#285891"/>
<rect x="476.8" y="139.60" width="22.8" height="0.90" fill="#7097c4"/>
<rect x="476.8" y="140.50" width="22.8" height="1.20" fill="#3b6aa3"/>
<rect x="476.8" y="141.70" width="22.8" height="1.20" fill="#3b6aa3"/>
<rect x="476.8" y="142.90" width="22.8" height="1.00" fill="#3b6aa3"/>
<rect x="476.8" y="143.90" width="22.8" height="0.70" fill="#33639e"/>
<rect x="500.80" y="106.90" width="23.00" height="37.70" fill="#123f7a"/>
<rect x="500.8" y="106.90" width="23.0" height="0.90" fill="#33639e"/>
<rect x="500.8" y="108.80" width="23.0" height="1.00" fill="#113d77"/>
<rect x="500.8" y="109.80" width="23.0" height="1.20" fill="#285891"/>
<rect x="500.8" y="111.00" width="23.0" height="0.70" fill="#1c4c87"/>
<rect x="500.8" y="113.30" width="23.0" height="0.90" fill="#33639e"/>
<rect x="500.8" y="116.10" width="23.0" height="0.70" fill="#3b6aa3"/>
<rect x="500.8" y="117.50" width="23.0" height="0.70" fill="#3b6aa3"/>
<rect x="500.8" y="121.50" width="23.0" height="1.00" fill="#21518c"/>
<rect x="500.8" y="122.50" width="23.0" height="1.50" fill="#21518c"/>
<rect x="500.8" y="125.00" width="23.0" height="1.20" fill="#113d77"/>
<rect x="500.8" y="126.20" width="23.0" height="0.70" fill="#21518c"/>
<rect x="500.8" y="126.90" width="23.0" height="0.70" fill="#1c4c87"/>
<rect x="500.8" y="129.10" width="23.0" height="1.50" fill="#113d77"/>
<rect x="500.8" y="131.80" width="23.0" height="1.00" fill="#113d77"/>
<rect x="500.8" y="132.80" width="23.0" height="0.70" fill="#113d77"/>
<rect x="500.8" y="134.70" width="23.0" height="1.20" fill="#7097c4"/>
<rect x="500.8" y="136.90" width="23.0" height="1.00" fill="#21518c"/>
<rect x="500.8" y="137.90" width="23.0" height="1.20" fill="#285891"/>
<rect x="500.8" y="141.30" width="23.0" height="1.20" fill="#21518c"/>
<rect x="500.8" y="143.20" width="23.0" height="0.70" fill="#113d77"/>
<rect x="500.8" y="143.90" width="23.0" height="0.70" fill="#21518c"/>
<rect x="525.00" y="106.90" width="23.00" height="37.70" fill="#123f7a"/>
<rect x="525.0" y="113.20" width="23.0" height="1.20" fill="#21518c"/>
<rect x="525.0" y="114.40" width="23.0" height="1.00" fill="#21518c"/>
<rect x="525.0" y="117.40" width="23.0" height="0.90" fill="#21518c"/>
<rect x="525.0" y="119.30" width="23.0" height="1.50" fill="#21518c"/>
<rect x="525.0" y="127.00" width="23.0" height="0.70" fill="#5a86b8"/>
<rect x="525.0" y="132.70" width="23.0" height="1.20" fill="#1c4c87"/>
<rect x="525.0" y="136.00" width="23.0" height="1.20" fill="#89aacf"/>
<rect x="525.0" y="137.20" width="23.0" height="1.20" fill="#7097c4"/>
<rect x="525.0" y="139.10" width="23.0" height="1.00" fill="#113d77"/>
<rect x="525.0" y="141.30" width="23.0" height="1.00" fill="#1c4c87"/>
<rect x="525.0" y="142.30" width="23.0" height="1.50" fill="#4f7db2"/>
<rect x="331.20" y="147.20" width="23.80" height="39.80" fill="#123f7a"/>
<rect x="331.2" y="151.60" width="23.8" height="1.50" fill="#21518c"/>
<rect x="331.2" y="154.00" width="23.8" height="1.50" fill="#89aacf"/>
<rect x="331.2" y="161.40" width="23.8" height="1.00" fill="#33639e"/>
<rect x="331.2" y="163.90" width="23.8" height="0.90" fill="#21518c"/>
<rect x="331.2" y="168.00" width="23.8" height="1.00" fill="#89aacf"/>
<rect x="331.2" y="171.70" width="23.8" height="0.90" fill="#2a5a95"/>
<rect x="331.2" y="172.60" width="23.8" height="0.70" fill="#1c4c87"/>
<rect x="331.2" y="174.80" width="23.8" height="1.50" fill="#21518c"/>
<rect x="331.2" y="177.20" width="23.8" height="1.20" fill="#113d77"/>
<rect x="331.2" y="178.40" width="23.8" height="1.00" fill="#89aacf"/>
<rect x="331.2" y="181.60" width="23.8" height="1.50" fill="#113d77"/>
<rect x="356.10" y="147.20" width="22.90" height="39.80" fill="#123f7a"/>
<rect x="356.1" y="147.20" width="22.9" height="0.90" fill="#2a5a95"/>
<rect x="356.1" y="149.00" width="22.9" height="1.20" fill="#89aacf"/>
<rect x="356.1" y="150.20" width="22.9" height="0.70" fill="#33639e"/>
<rect x="356.1" y="150.90" width="22.9" height="1.50" fill="#7097c4"/>
<rect x="356.1" y="152.40" width="22.9" height="1.50" fill="#4f7db2"/>
<rect x="356.1" y="153.90" width="22.9" height="1.50" fill="#89aacf"/>
<rect x="356.1" y="155.40" width="22.9" height="0.70" fill="#3b6aa3"/>
<rect x="356.1" y="156.10" width="22.9" height="1.50" fill="#3b6aa3"/>
<rect x="356.1" y="157.60" width="22.9" height="0.70" fill="#4f7db2"/>
<rect x="356.1" y="158.30" width="22.9" height="1.00" fill="#2a5a95"/>
<rect x="356.1" y="159.30" width="22.9" height="1.20" fill="#4f7db2"/>
<rect x="356.1" y="161.40" width="22.9" height="1.50" fill="#4f7db2"/>
<rect x="356.1" y="162.90" width="22.9" height="1.20" fill="#33639e"/>
<rect x="356.1" y="164.10" width="22.9" height="1.00" fill="#4f7db2"/>
<rect x="356.1" y="165.10" width="22.9" height="1.20" fill="#2a5a95"/>
<rect x="356.1" y="166.30" width="22.9" height="1.50" fill="#5a86b8"/>
<rect x="356.1" y="167.80" width="22.9" height="0.90" fill="#4f7db2"/>
<rect x="356.1" y="168.70" width="22.9" height="0.90" fill="#3b6aa3"/>
<rect x="356.1" y="169.60" width="22.9" height="0.70" fill="#3b6aa3"/>
<rect x="356.1" y="170.30" width="22.9" height="0.70" fill="#2a5a95"/>
<rect x="356.1" y="171.00" width="22.9" height="0.70" fill="#7097c4"/>
<rect x="356.1" y="171.70" width="22.9" height="0.70" fill="#3b6aa3"/>
<rect x="356.1" y="172.40" width="22.9" height="1.20" fill="#89aacf"/>
<rect x="356.1" y="173.60" width="22.9" height="1.20" fill="#285891"/>
<rect x="356.1" y="175.70" width="22.9" height="0.90" fill="#285891"/>
<rect x="356.1" y="176.60" width="22.9" height="1.00" fill="#3b6aa3"/>
<rect x="356.1" y="177.60" width="22.9" height="1.50" fill="#285891"/>
<rect x="356.1" y="179.10" width="22.9" height="0.90" fill="#7097c4"/>
<rect x="356.1" y="180.00" width="22.9" height="0.70" fill="#33639e"/>
<rect x="356.1" y="180.70" width="22.9" height="0.70" fill="#d3dde9"/>
<rect x="356.1" y="181.40" width="22.9" height="1.00" fill="#4f7db2"/>
<rect x="356.1" y="182.40" width="22.9" height="1.20" fill="#4f7db2"/>
<rect x="356.1" y="183.60" width="22.9" height="1.50" fill="#285891"/>
<rect x="356.1" y="185.10" width="22.9" height="0.90" fill="#5a86b8"/>
<rect x="356.1" y="186.00" width="22.9" height="1.00" fill="#2a5a95"/>
<rect x="380.20" y="147.20" width="22.90" height="39.80" fill="#123f7a"/>
<rect x="380.2" y="147.20" width="22.9" height="1.50" fill="#2a5a95"/>
<rect x="380.2" y="148.70" width="22.9" height="0.70" fill="#2a5a95"/>
<rect x="380.2" y="150.90" width="22.9" height="1.50" fill="#2a5a95"/>
<rect x="380.2" y="152.40" width="22.9" height="0.90" fill="#2a5a95"/>
<rect x="380.2" y="153.30" width="22.9" height="0.70" fill="#7097c4"/>
<rect x="380.2" y="154.00" width="22.9" height="1.20" fill="#33639e"/>
<rect x="380.2" y="156.20" width="22.9" height="1.50" fill="#33639e"/>
<rect x="380.2" y="159.50" width="22.9" height="0.70" fill="#3b6aa3"/>
<rect x="380.2" y="160.20" width="22.9" height="1.20" fill="#21518c"/>
<rect x="380.2" y="161.40" width="22.9" height="1.50" fill="#2a5a95"/>
<rect x="380.2" y="162.90" width="22.9" height="0.90" fill="#113d77"/>
<rect x="380.2" y="165.00" width="22.9" height="0.90" fill="#21518c"/>
<rect x="380.2" y="165.90" width="22.9" height="0.90" fill="#2a5a95"/>
<rect x="380.2" y="166.80" width="22.9" height="1.00" fill="#33639e"/>
<rect x="380.2" y="167.80" width="22.9" height="1.00" fill="#285891"/>
<rect x="380.2" y="168.80" width="22.9" height="0.90" fill="#7097c4"/>
<rect x="380.2" y="169.70" width="22.9" height="1.20" fill="#285891"/>
<rect x="380.2" y="170.90" width="22.9" height="0.70" fill="#113d77"/>
<rect x="380.2" y="171.60" width="22.9" height="1.50" fill="#285891"/>
<rect x="380.2" y="175.20" width="22.9" height="0.70" fill="#285891"/>
<rect x="380.2" y="175.90" width="22.9" height="1.00" fill="#3b6aa3"/>
<rect x="380.2" y="176.90" width="22.9" height="0.90" fill="#3b6aa3"/>
<rect x="380.2" y="177.80" width="22.9" height="0.90" fill="#33639e"/>
<rect x="380.2" y="179.70" width="22.9" height="1.00" fill="#33639e"/>
<rect x="380.2" y="181.90" width="22.9" height="0.70" fill="#3b6aa3"/>
<rect x="380.2" y="182.60" width="22.9" height="0.90" fill="#2a5a95"/>
<rect x="380.2" y="183.50" width="22.9" height="1.20" fill="#89aacf"/>
<rect x="380.2" y="184.70" width="22.9" height="1.50" fill="#2a5a95"/>
<rect x="380.2" y="186.20" width="22.9" height="0.80" fill="#4f7db2"/>
<rect x="404.30" y="147.20" width="22.90" height="39.80" fill="#123f7a"/>
<rect x="404.3" y="147.20" width="22.9" height="1.20" fill="#2a5a95"/>
<rect x="404.3" y="148.40" width="22.9" height="1.50" fill="#3b6aa3"/>
<rect x="404.3" y="152.50" width="22.9" height="1.00" fill="#285891"/>
<rect x="404.3" y="155.00" width="22.9" height="0.90" fill="#21518c"/>
<rect x="404.3" y="155.90" width="22.9" height="0.90" fill="#2a5a95"/>
<rect x="404.3" y="156.80" width="22.9" height="0.90" fill="#21518c"/>
<rect x="404.3" y="157.70" width="22.9" height="1.50" fill="#113d77"/>
<rect x="404.3" y="160.70" width="22.9" height="1.50" fill="#89aacf"/>
<rect x="404.3" y="162.20" width="22.9" height="1.20" fill="#21518c"/>
<rect x="404.3" y="164.60" width="22.9" height="1.20" fill="#2a5a95"/>
<rect x="404.3" y="165.80" width="22.9" height="0.90" fill="#285891"/>
<rect x="404.3" y="166.70" width="22.9" height="0.90" fill="#285891"/>
<rect x="404.3" y="167.60" width="22.9" height="1.20" fill="#21518c"/>
<rect x="404.3" y="168.80" width="22.9" height="1.20" fill="#4f7db2"/>
<rect x="404.3" y="170.00" width="22.9" height="1.50" fill="#113d77"/>
<rect x="404.3" y="171.50" width="22.9" height="1.00" fill="#21518c"/>
<rect x="404.3" y="172.50" width="22.9" height="0.90" fill="#2a5a95"/>
<rect x="404.3" y="174.90" width="22.9" height="1.50" fill="#2a5a95"/>
<rect x="404.3" y="177.90" width="22.9" height="1.00" fill="#113d77"/>
<rect x="404.3" y="178.90" width="22.9" height="1.20" fill="#2a5a95"/>
<rect x="404.3" y="180.10" width="22.9" height="1.20" fill="#2a5a95"/>
<rect x="404.3" y="181.30" width="22.9" height="1.00" fill="#33639e"/>
<rect x="404.3" y="182.30" width="22.9" height="1.20" fill="#285891"/>
<rect x="404.3" y="183.50" width="22.9" height="0.90" fill="#3b6aa3"/>
<rect x="404.3" y="186.40" width="22.9" height="0.60" fill="#285891"/>
<rect x="428.40" y="147.20" width="23.00" height="39.80" fill="#123f7a"/>
<rect x="428.4" y="147.20" width="23.0" height="0.90" fill="#e2b8b8"/>
<rect x="428.4" y="148.10" width="23.0" height="0.90" fill="#c4d4e6"/>
<rect x="428.4" y="149.00" width="23.0" height="1.00" fill="#dcc0c4"/>
<rect x="428.4" y="150.00" width="23.0" height="0.90" fill="#3b6aa3"/>
<rect x="428.4" y="150.90" width="23.0" height="1.50" fill="#b4424f"/>
<rect x="428.4" y="152.40" width="23.0" height="0.90" fill="#b3c8df"/>
<rect x="428.4" y="153.30" width="23.0" height="1.50" fill="#cc6266"/>
<rect x="428.4" y="154.80" width="23.0" height="0.90" fill="#b3c8df"/>
<rect x="428.4" y="155.70" width="23.0" height="1.50" fill="#2a5a95"/>
<rect x="428.4" y="157.20" width="23.0" height="0.90" fill="#c8909c"/>
<rect x="428.4" y="158.10" width="23.0" height="0.90" fill="#4f7db2"/>
<rect x="428.4" y="159.00" width="23.0" height="1.00" fill="#c4d4e6"/>
<rect x="428.4" y="160.00" width="23.0" height="1.50" fill="#c4d4e6"/>
<rect x="428.4" y="161.50" width="23.0" height="1.20" fill="#cc6266"/>
<rect x="428.4" y="162.70" width="23.0" height="1.20" fill="#b9a9c2"/>
<rect x="428.4" y="163.90" width="23.0" height="0.90" fill="#b3c8df"/>
<rect x="428.4" y="164.80" width="23.0" height="0.70" fill="#7097c4"/>
<rect x="428.4" y="165.50" width="23.0" height="0.70" fill="#cc6266"/>
<rect x="428.4" y="166.20" width="23.0" height="1.20" fill="#c4d4e6"/>
<rect x="428.4" y="167.40" width="23.0" height="0.90" fill="#4f7db2"/>
<rect x="428.4" y="168.30" width="23.0" height="1.20" fill="#c4d4e6"/>
<rect x="428.4" y="169.50" width="23.0" height="1.20" fill="#b3c8df"/>
<rect x="428.4" y="170.70" width="23.0" height="1.00" fill="#d8a0a6"/>
<rect x="428.4" y="171.70" width="23.0" height="0.90" fill="#cc6266"/>
<rect x="428.4" y="172.60" width="23.0" height="1.00" fill="#5a86b8"/>
<rect x="428.4" y="173.60" width="23.0" height="1.20" fill="#dcc0c4"/>
<rect x="428.4" y="174.80" width="23.0" height="0.90" fill="#b9a9c2"/>
<rect x="428.4" y="175.70" width="23.0" height="1.50" fill="#d3dde9"/>
<rect x="428.4" y="177.20" width="23.0" height="1.20" fill="#dcc0c4"/>
<rect x="428.4" y="178.40" width="23.0" height="1.20" fill="#c8909c"/>
<rect x="428.4" y="179.60" width="23.0" height="1.00" fill="#e2b8b8"/>
<rect x="428.4" y="180.60" width="23.0" height="0.90" fill="#d8a0a6"/>
<rect x="428.4" y="181.50" width="23.0" height="1.00" fill="#dcc0c4"/>
<rect x="428.4" y="182.50" width="23.0" height="1.50" fill="#c4d4e6"/>
<rect x="428.4" y="184.00" width="23.0" height="1.50" fill="#c8909c"/>
<rect x="428.4" y="185.50" width="23.0" height="1.00" fill="#b9a9c2"/>
<rect x="428.4" y="186.50" width="23.0" height="0.50" fill="#d8a0a6"/>
<rect x="452.60" y="147.20" width="23.00" height="39.80" fill="#123f7a"/>
<rect x="452.6" y="147.20" width="23.0" height="1.20" fill="#113d77"/>
<rect x="452.6" y="150.60" width="23.0" height="0.70" fill="#7097c4"/>
<rect x="452.6" y="153.20" width="23.0" height="0.90" fill="#4f7db2"/>
<rect x="452.6" y="154.10" width="23.0" height="0.90" fill="#21518c"/>
<rect x="452.6" y="156.20" width="23.0" height="1.50" fill="#21518c"/>
<rect x="452.6" y="162.80" width="23.0" height="1.50" fill="#4f7db2"/>
<rect x="452.6" y="168.40" width="23.0" height="0.70" fill="#21518c"/>
<rect x="452.6" y="169.10" width="23.0" height="1.20" fill="#1c4c87"/>
<rect x="452.6" y="171.20" width="23.0" height="0.70" fill="#21518c"/>
<rect x="452.6" y="178.30" width="23.0" height="0.70" fill="#21518c"/>
<rect x="452.6" y="182.10" width="23.0" height="0.70" fill="#1c4c87"/>
<rect x="452.6" y="182.80" width="23.0" height="1.50" fill="#3b6aa3"/>
<rect x="452.6" y="184.30" width="23.0" height="1.00" fill="#1c4c87"/>
<rect x="452.6" y="185.30" width="23.0" height="0.90" fill="#33639e"/>
<rect x="452.6" y="186.20" width="23.0" height="0.80" fill="#1c4c87"/>
<rect x="476.80" y="147.20" width="22.80" height="39.80" fill="#123f7a"/>
<rect x="476.8" y="147.20" width="22.8" height="1.20" fill="#33639e"/>
<rect x="476.8" y="148.40" width="22.8" height="1.50" fill="#3b6aa3"/>
<rect x="476.8" y="149.90" width="22.8" height="1.20" fill="#33639e"/>
<rect x="476.8" y="151.10" width="22.8" height="0.90" fill="#33639e"/>
<rect x="476.8" y="152.00" width="22.8" height="1.50" fill="#89aacf"/>
<rect x="476.8" y="153.50" width="22.8" height="1.50" fill="#285891"/>
<rect x="476.8" y="156.50" width="22.8" height="1.50" fill="#33639e"/>
<rect x="476.8" y="158.00" width="22.8" height="1.50" fill="#3b6aa3"/>
<rect x="476.8" y="159.50" width="22.8" height="1.20" fill="#21518c"/>
<rect x="476.8" y="160.70" width="22.8" height="1.50" fill="#285891"/>
<rect x="476.8" y="162.20" width="22.8" height="0.70" fill="#5a86b8"/>
<rect x="476.8" y="162.90" width="22.8" height="0.90" fill="#3b6aa3"/>
<rect x="476.8" y="165.70" width="22.8" height="0.90" fill="#285891"/>
<rect x="476.8" y="166.60" width="22.8" height="0.90" fill="#2a5a95"/>
<rect x="476.8" y="167.50" width="22.8" height="1.00" fill="#113d77"/>
<rect x="476.8" y="168.50" width="22.8" height="0.90" fill="#285891"/>
<rect x="476.8" y="169.40" width="22.8" height="1.50" fill="#3b6aa3"/>
<rect x="476.8" y="170.90" width="22.8" height="0.90" fill="#5a86b8"/>
<rect x="476.8" y="171.80" width="22.8" height="1.20" fill="#3b6aa3"/>
<rect x="476.8" y="173.00" width="22.8" height="0.70" fill="#7097c4"/>
<rect x="476.8" y="173.70" width="22.8" height="1.50" fill="#33639e"/>
<rect x="476.8" y="175.20" width="22.8" height="0.90" fill="#3b6aa3"/>
<rect x="476.8" y="176.10" width="22.8" height="0.90" fill="#3b6aa3"/>
<rect x="476.8" y="177.00" width="22.8" height="0.90" fill="#3b6aa3"/>
<rect x="476.8" y="177.90" width="22.8" height="1.50" fill="#285891"/>
<rect x="476.8" y="179.40" width="22.8" height="1.00" fill="#285891"/>
<rect x="476.8" y="180.40" width="22.8" height="1.50" fill="#2a5a95"/>
<rect x="476.8" y="181.90" width="22.8" height="0.70" fill="#285891"/>
<rect x="476.8" y="182.60" width="22.8" height="1.00" fill="#2a5a95"/>
<rect x="476.8" y="183.60" width="22.8" height="0.70" fill="#21518c"/>
<rect x="476.8" y="185.50" width="22.8" height="0.90" fill="#21518c"/>
<rect x="476.8" y="186.40" width="22.8" height="0.60" fill="#33639e"/>
<rect x="500.80" y="147.20" width="23.00" height="39.80" fill="#123f7a"/>
<rect x="500.8" y="148.20" width="23.0" height="0.70" fill="#113d77"/>
<rect x="500.8" y="150.60" width="23.0" height="0.70" fill="#113d77"/>
<rect x="500.8" y="151.30" width="23.0" height="1.50" fill="#5a86b8"/>
<rect x="500.8" y="152.80" width="23.0" height="0.70" fill="#33639e"/>
<rect x="500.8" y="154.70" width="23.0" height="1.50" fill="#2a5a95"/>
<rect x="500.8" y="156.20" width="23.0" height="1.50" fill="#21518c"/>
<rect x="500.8" y="160.40" width="23.0" height="1.00" fill="#4f7db2"/>
<rect x="500.8" y="163.90" width="23.0" height="1.50" fill="#285891"/>
<rect x="500.8" y="167.90" width="23.0" height="1.20" fill="#113d77"/>
<rect x="500.8" y="169.10" width="23.0" height="0.70" fill="#3b6aa3"/>
<rect x="500.8" y="181.10" width="23.0" height="0.70" fill="#21518c"/>
<rect x="500.8" y="184.50" width="23.0" height="0.90" fill="#1c4c87"/>
<rect x="500.8" y="186.60" width="23.0" height="0.40" fill="#7097c4"/>
<rect x="525.00" y="147.20" width="23.00" height="39.80" fill="#123f7a"/>
<rect x="525.0" y="156.90" width="23.0" height="0.70" fill="#21518c"/>
<rect x="525.0" y="160.30" width="23.0" height="0.90" fill="#113d77"/>
<rect x="525.0" y="161.20" width="23.0" height="1.20" fill="#1c4c87"/>
<rect x="525.0" y="169.50" width="23.0" height="0.70" fill="#1c4c87"/>
<rect x="525.0" y="171.80" width="23.0" height="0.70" fill="#7097c4"/>
<rect x="525.0" y="173.40" width="23.0" height="0.90" fill="#21518c"/>
<rect x="525.0" y="178.20" width="23.0" height="1.50" fill="#113d77"/>
<rect x="525.0" y="185.20" width="23.0" height="1.50" fill="#285891"/>
<rect x="525.0" y="186.70" width="23.0" height="0.30" fill="#3b6aa3"/>
<rect x="331.20" y="189.90" width="23.80" height="53.90" fill="#123f7a"/>
<rect x="331.2" y="189.90" width="23.8" height="0.70" fill="#113d77"/>
<rect x="331.2" y="192.10" width="23.8" height="1.00" fill="#113d77"/>
<rect x="331.2" y="197.20" width="23.8" height="0.70" fill="#285891"/>
<rect x="331.2" y="200.60" width="23.8" height="1.20" fill="#1c4c87"/>
<rect x="331.2" y="204.30" width="23.8" height="1.20" fill="#2a5a95"/>
<rect x="331.2" y="208.00" width="23.8" height="1.50" fill="#3b6aa3"/>
<rect x="331.2" y="214.20" width="23.8" height="0.70" fill="#2a5a95"/>
<rect x="331.2" y="218.80" width="23.8" height="0.70" fill="#21518c"/>
<rect x="331.2" y="221.20" width="23.8" height="1.20" fill="#21518c"/>
<rect x="331.2" y="222.40" width="23.8" height="1.00" fill="#21518c"/>
<rect x="331.2" y="223.40" width="23.8" height="0.70" fill="#1c4c87"/>
<rect x="331.2" y="224.10" width="23.8" height="1.00" fill="#1c4c87"/>
<rect x="331.2" y="226.90" width="23.8" height="1.20" fill="#1c4c87"/>
<rect x="331.2" y="228.10" width="23.8" height="0.70" fill="#21518c"/>
<rect x="331.2" y="230.50" width="23.8" height="1.50" fill="#113d77"/>
<rect x="331.2" y="234.30" width="23.8" height="0.90" fill="#285891"/>
<rect x="331.2" y="236.10" width="23.8" height="0.90" fill="#21518c"/>
<rect x="331.2" y="237.00" width="23.8" height="1.00" fill="#113d77"/>
<rect x="331.2" y="239.20" width="23.8" height="1.50" fill="#7097c4"/>
<rect x="331.2" y="243.40" width="23.8" height="0.40" fill="#21518c"/>
<rect x="356.10" y="189.90" width="22.90" height="53.90" fill="#123f7a"/>
<rect x="356.1" y="189.90" width="22.9" height="0.90" fill="#33639e"/>
<rect x="356.1" y="190.80" width="22.9" height="1.50" fill="#1c4c87"/>
<rect x="356.1" y="192.30" width="22.9" height="1.00" fill="#1c4c87"/>
<rect x="356.1" y="196.70" width="22.9" height="1.50" fill="#2a5a95"/>
<rect x="356.1" y="198.20" width="22.9" height="1.20" fill="#b9a9c2"/>
<rect x="356.1" y="199.40" width="22.9" height="0.70" fill="#c8909c"/>
<rect x="356.1" y="200.10" width="22.9" height="1.50" fill="#33639e"/>
<rect x="356.1" y="201.60" width="22.9" height="1.50" fill="#7097c4"/>
<rect x="356.1" y="203.10" width="22.9" height="1.50" fill="#3b6aa3"/>
<rect x="356.1" y="204.60" width="22.9" height="1.50" fill="#3b6aa3"/>
<rect x="356.1" y="206.10" width="22.9" height="1.00" fill="#7097c4"/>
<rect x="356.1" y="207.10" width="22.9" height="1.20" fill="#4f7db2"/>
<rect x="356.1" y="208.30" width="22.9" height="0.90" fill="#2a5a95"/>
<rect x="356.1" y="209.20" width="22.9" height="0.90" fill="#cc6266"/>
<rect x="356.1" y="210.10" width="22.9" height="0.70" fill="#d2706c"/>
<rect x="356.1" y="210.80" width="22.9" height="1.00" fill="#c8909c"/>
<rect x="356.1" y="211.80" width="22.9" height="0.90" fill="#285891"/>
<rect x="356.1" y="212.70" width="22.9" height="1.00" fill="#2a5a95"/>
<rect x="356.1" y="213.70" width="22.9" height="1.00" fill="#2a5a95"/>
<rect x="356.1" y="214.70" width="22.9" height="1.20" fill="#1c4c87"/>
<rect x="356.1" y="216.90" width="22.9" height="1.20" fill="#33639e"/>
<rect x="356.1" y="218.10" width="22.9" height="1.20" fill="#33639e"/>
<rect x="356.1" y="221.10" width="22.9" height="1.50" fill="#2a5a95"/>
<rect x="356.1" y="222.60" width="22.9" height="1.00" fill="#21518c"/>
<rect x="356.1" y="223.60" width="22.9" height="0.90" fill="#113d77"/>
<rect x="356.1" y="224.50" width="22.9" height="0.90" fill="#285891"/>
<rect x="356.1" y="225.40" width="22.9" height="0.70" fill="#113d77"/>
<rect x="356.1" y="226.10" width="22.9" height="0.70" fill="#285891"/>
<rect x="356.1" y="226.80" width="22.9" height="1.00" fill="#1c4c87"/>
<rect x="356.1" y="227.80" width="22.9" height="0.90" fill="#285891"/>
<rect x="356.1" y="230.30" width="22.9" height="1.20" fill="#285891"/>
<rect x="356.1" y="232.20" width="22.9" height="1.00" fill="#33639e"/>
<rect x="356.1" y="234.40" width="22.9" height="1.00" fill="#21518c"/>
<rect x="356.1" y="235.40" width="22.9" height="0.90" fill="#113d77"/>
<rect x="356.1" y="237.00" width="22.9" height="1.50" fill="#21518c"/>
<rect x="356.1" y="238.50" width="22.9" height="1.20" fill="#3b6aa3"/>
<rect x="356.1" y="239.70" width="22.9" height="1.20" fill="#33639e"/>
<rect x="356.1" y="240.90" width="22.9" height="1.50" fill="#33639e"/>
<rect x="356.1" y="242.40" width="22.9" height="1.20" fill="#3b6aa3"/>
<rect x="356.1" y="243.60" width="22.9" height="0.20" fill="#113d77"/>
<rect x="380.20" y="189.90" width="22.90" height="53.90" fill="#123f7a"/>
<rect x="380.2" y="189.90" width="22.9" height="0.70" fill="#2a5a95"/>
<rect x="380.2" y="190.60" width="22.9" height="1.20" fill="#2a5a95"/>
<rect x="380.2" y="191.80" width="22.9" height="1.50" fill="#89aacf"/>
<rect x="380.2" y="193.30" width="22.9" height="0.70" fill="#2a5a95"/>
<rect x="380.2" y="194.00" width="22.9" height="0.70" fill="#21518c"/>
<rect x="380.2" y="194.70" width="22.9" height="1.00" fill="#21518c"/>
<rect x="380.2" y="195.70" width="22.9" height="0.70" fill="#33639e"/>
<rect x="380.2" y="196.40" width="22.9" height="0.90" fill="#2a5a95"/>
<rect x="380.2" y="197.30" width="22.9" height="1.50" fill="#3b6aa3"/>
<rect x="380.2" y="200.30" width="22.9" height="0.90" fill="#285891"/>
<rect x="380.2" y="201.20" width="22.9" height="1.50" fill="#33639e"/>
<rect x="380.2" y="202.70" width="22.9" height="1.00" fill="#113d77"/>
<rect x="380.2" y="204.70" width="22.9" height="1.50" fill="#285891"/>
<rect x="380.2" y="206.20" width="22.9" height="1.00" fill="#4f7db2"/>
<rect x="380.2" y="208.70" width="22.9" height="0.90" fill="#89aacf"/>
<rect x="380.2" y="209.60" width="22.9" height="1.50" fill="#2a5a95"/>
<rect x="380.2" y="211.10" width="22.9" height="1.20" fill="#1c4c87"/>
<rect x="380.2" y="212.30" width="22.9" height="1.50" fill="#2a5a95"/>
<rect x="380.2" y="213.80" width="22.9" height="1.20" fill="#1c4c87"/>
<rect x="380.2" y="215.00" width="22.9" height="1.00" fill="#33639e"/>
<rect x="380.2" y="217.20" width="22.9" height="0.70" fill="#21518c"/>
<rect x="380.2" y="218.60" width="22.9" height="1.20" fill="#3b6aa3"/>
<rect x="380.2" y="219.80" width="22.9" height="0.70" fill="#285891"/>
<rect x="380.2" y="220.50" width="22.9" height="1.50" fill="#1c4c87"/>
<rect x="380.2" y="222.00" width="22.9" height="1.20" fill="#113d77"/>
<rect x="380.2" y="223.20" width="22.9" height="0.90" fill="#1c4c87"/>
<rect x="380.2" y="224.10" width="22.9" height="1.00" fill="#2a5a95"/>
<rect x="380.2" y="225.10" width="22.9" height="1.50" fill="#1c4c87"/>
<rect x="380.2" y="226.60" width="22.9" height="1.50" fill="#285891"/>
<rect x="380.2" y="228.10" width="22.9" height="0.90" fill="#33639e"/>
<rect x="380.2" y="229.00" width="22.9" height="0.70" fill="#285891"/>
<rect x="380.2" y="229.70" width="22.9" height="0.70" fill="#113d77"/>
<rect x="380.2" y="230.40" width="22.9" height="0.90" fill="#1c4c87"/>
<rect x="380.2" y="231.30" width="22.9" height="1.20" fill="#3b6aa3"/>
<rect x="380.2" y="232.50" width="22.9" height="0.90" fill="#285891"/>
<rect x="380.2" y="233.40" width="22.9" height="1.50" fill="#3b6aa3"/>
<rect x="380.2" y="234.90" width="22.9" height="0.70" fill="#3b6aa3"/>
<rect x="380.2" y="235.60" width="22.9" height="1.20" fill="#1c4c87"/>
<rect x="380.2" y="237.80" width="22.9" height="0.90" fill="#3b6aa3"/>
<rect x="380.2" y="238.70" width="22.9" height="0.70" fill="#33639e"/>
<rect x="380.2" y="240.10" width="22.9" height="1.50" fill="#2a5a95"/>
<rect x="380.2" y="242.50" width="22.9" height="1.00" fill="#1c4c87"/>
<rect x="380.2" y="243.50" width="22.9" height="0.30" fill="#3b6aa3"/>
<rect x="404.30" y="189.90" width="22.90" height="53.90" fill="#123f7a"/>
<rect x="404.3" y="189.90" width="22.9" height="1.20" fill="#b84050"/>
<rect x="404.3" y="191.10" width="22.9" height="1.20" fill="#b3c8df"/>
<rect x="404.3" y="192.30" width="22.9" height="1.50" fill="#c0505a"/>
<rect x="404.3" y="193.80" width="22.9" height="1.00" fill="#c0505a"/>
<rect x="404.3" y="194.80" width="22.9" height="1.50" fill="#e2b8b8"/>
<rect x="404.3" y="196.30" width="22.9" height="1.00" fill="#d8a0a6"/>
<rect x="404.3" y="197.30" width="22.9" height="1.20" fill="#962444"/>
<rect x="404.3" y="198.50" width="22.9" height="0.70" fill="#b9a9c2"/>
<rect x="404.3" y="199.20" width="22.9" height="0.90" fill="#c0505a"/>
<rect x="404.3" y="200.10" width="22.9" height="1.00" fill="#b84050"/>
<rect x="404.3" y="201.10" width="22.9" height="1.50" fill="#d8a0a6"/>
<rect x="404.3" y="202.60" width="22.9" height="0.90" fill="#285891"/>
<rect x="404.3" y="203.50" width="22.9" height="1.20" fill="#c8909c"/>
<rect x="404.3" y="204.70" width="22.9" height="0.70" fill="#962444"/>
<rect x="404.3" y="205.40" width="22.9" height="1.00" fill="#a52a45"/>
<rect x="404.3" y="206.40" width="22.9" height="1.00" fill="#b03548"/>
<rect x="404.3" y="207.40" width="22.9" height="1.00" fill="#b84050"/>
<rect x="404.3" y="208.40" width="22.9" height="0.90" fill="#c8909c"/>
<rect x="404.3" y="209.30" width="22.9" height="1.50" fill="#c0505a"/>
<rect x="404.3" y="210.80" width="22.9" height="1.50" fill="#b03548"/>
<rect x="404.3" y="212.30" width="22.9" height="1.00" fill="#d8a0a6"/>
<rect x="404.3" y="213.30" width="22.9" height="0.70" fill="#b03548"/>
<rect x="404.3" y="214.00" width="22.9" height="1.00" fill="#962444"/>
<rect x="404.3" y="215.00" width="22.9" height="1.50" fill="#c0505a"/>
<rect x="404.3" y="216.50" width="22.9" height="1.00" fill="#b9a9c2"/>
<rect x="404.3" y="217.50" width="22.9" height="1.50" fill="#33639e"/>
<rect x="404.3" y="219.00" width="22.9" height="0.70" fill="#dcc0c4"/>
<rect x="404.3" y="219.70" width="22.9" height="0.90" fill="#b03548"/>
<rect x="404.3" y="220.60" width="22.9" height="1.20" fill="#b03548"/>
<rect x="404.3" y="221.80" width="22.9" height="1.50" fill="#c0505a"/>
<rect x="404.3" y="223.30" width="22.9" height="0.70" fill="#b03548"/>
<rect x="404.3" y="224.00" width="22.9" height="1.20" fill="#a52a45"/>
<rect x="404.3" y="225.20" width="22.9" height="1.20" fill="#b03548"/>
<rect x="404.3" y="226.40" width="22.9" height="1.20" fill="#962444"/>
<rect x="404.3" y="227.60" width="22.9" height="1.00" fill="#b9a9c2"/>
<rect x="404.3" y="228.60" width="22.9" height="0.70" fill="#c0505a"/>
<rect x="404.3" y="229.30" width="22.9" height="1.20" fill="#b03548"/>
<rect x="404.3" y="230.50" width="22.9" height="1.50" fill="#b84050"/>
<rect x="404.3" y="232.00" width="22.9" height="0.90" fill="#962444"/>
<rect x="404.3" y="232.90" width="22.9" height="1.00" fill="#962444"/>
<rect x="404.3" y="233.90" width="22.9" height="0.70" fill="#c0505a"/>
<rect x="404.3" y="234.60" width="22.9" height="1.50" fill="#33639e"/>
<rect x="404.3" y="236.10" width="22.9" height="0.90" fill="#c0505a"/>
<rect x="404.3" y="237.00" width="22.9" height="1.00" fill="#a52a45"/>
<rect x="404.3" y="238.00" width="22.9" height="1.50" fill="#962444"/>
<rect x="404.3" y="239.50" width="22.9" height="0.70" fill="#b9a9c2"/>
<rect x="404.3" y="240.20" width="22.9" height="0.70" fill="#e2b8b8"/>
<rect x="404.3" y="240.90" width="22.9" height="1.50" fill="#a52a45"/>
<rect x="404.3" y="242.40" width="22.9" height="1.00" fill="#c0505a"/>
<rect x="404.3" y="243.40" width="22.9" height="0.40" fill="#e2b8b8"/>
<rect x="428.40" y="189.90" width="23.00" height="53.90" fill="#123f7a"/>
<rect x="428.4" y="189.90" width="23.0" height="0.90" fill="#285891"/>
<rect x="428.4" y="190.80" width="23.0" height="1.50" fill="#1c4c87"/>
<rect x="428.4" y="192.30" width="23.0" height="0.70" fill="#21518c"/>
<rect x="428.4" y="193.00" width="23.0" height="0.70" fill="#285891"/>
<rect x="428.4" y="193.70" width="23.0" height="1.50" fill="#33639e"/>
<rect x="428.4" y="196.20" width="23.0" height="1.00" fill="#285891"/>
<rect x="428.4" y="199.10" width="23.0" height="1.50" fill="#3b6aa3"/>
<rect x="428.4" y="202.10" width="23.0" height="1.20" fill="#113d77"/>
<rect x="428.4" y="203.30" width="23.0" height="0.90" fill="#2a5a95"/>
<rect x="428.4" y="204.20" width="23.0" height="0.70" fill="#33639e"/>
<rect x="428.4" y="206.10" width="23.0" height="1.00" fill="#21518c"/>
<rect x="428.4" y="207.10" width="23.0" height="1.50" fill="#285891"/>
<rect x="428.4" y="208.60" width="23.0" height="0.90" fill="#4f7db2"/>
<rect x="428.4" y="209.50" width="23.0" height="0.70" fill="#113d77"/>
<rect x="428.4" y="210.90" width="23.0" height="1.00" fill="#33639e"/>
<rect x="428.4" y="211.90" width="23.0" height="1.20" fill="#285891"/>
<rect x="428.4" y="214.60" width="23.0" height="1.20" fill="#21518c"/>
<rect x="428.4" y="215.80" width="23.0" height="1.50" fill="#2a5a95"/>
<rect x="428.4" y="217.30" width="23.0" height="1.50" fill="#89aacf"/>
<rect x="428.4" y="218.80" width="23.0" height="0.90" fill="#285891"/>
<rect x="428.4" y="221.90" width="23.0" height="0.70" fill="#285891"/>
<rect x="428.4" y="222.60" width="23.0" height="1.50" fill="#33639e"/>
<rect x="428.4" y="225.30" width="23.0" height="0.90" fill="#3b6aa3"/>
<rect x="428.4" y="226.20" width="23.0" height="0.70" fill="#33639e"/>
<rect x="428.4" y="228.40" width="23.0" height="1.20" fill="#3b6aa3"/>
<rect x="428.4" y="229.60" width="23.0" height="1.50" fill="#21518c"/>
<rect x="428.4" y="231.10" width="23.0" height="1.50" fill="#7097c4"/>
<rect x="428.4" y="233.80" width="23.0" height="1.00" fill="#113d77"/>
<rect x="428.4" y="234.80" width="23.0" height="1.50" fill="#1c4c87"/>
<rect x="428.4" y="236.30" width="23.0" height="1.00" fill="#1c4c87"/>
<rect x="428.4" y="238.80" width="23.0" height="1.20" fill="#4f7db2"/>
<rect x="428.4" y="240.00" width="23.0" height="1.50" fill="#89aacf"/>
<rect x="428.4" y="241.50" width="23.0" height="1.50" fill="#33639e"/>
<rect x="428.4" y="243.00" width="23.0" height="0.80" fill="#3b6aa3"/>
<rect x="452.60" y="189.90" width="23.00" height="53.90" fill="#123f7a"/>
<rect x="452.6" y="189.90" width="23.0" height="1.50" fill="#113d77"/>
<rect x="452.6" y="191.40" width="23.0" height="1.00" fill="#113d77"/>
<rect x="452.6" y="192.40" width="23.0" height="0.70" fill="#33639e"/>
<rect x="452.6" y="196.90" width="23.0" height="1.50" fill="#5a86b8"/>
<rect x="452.6" y="199.40" width="23.0" height="1.20" fill="#113d77"/>
<rect x="452.6" y="200.60" width="23.0" height="1.20" fill="#113d77"/>
<rect x="452.6" y="206.00" width="23.0" height="1.50" fill="#113d77"/>
<rect x="452.6" y="208.50" width="23.0" height="0.70" fill="#21518c"/>
<rect x="452.6" y="210.10" width="23.0" height="0.90" fill="#1c4c87"/>
<rect x="452.6" y="211.00" width="23.0" height="1.50" fill="#1c4c87"/>
<rect x="452.6" y="212.50" width="23.0" height="1.50" fill="#1c4c87"/>
<rect x="452.6" y="214.70" width="23.0" height="1.20" fill="#2a5a95"/>
<rect x="452.6" y="217.50" width="23.0" height="0.70" fill="#7097c4"/>
<rect x="452.6" y="219.70" width="23.0" height="1.20" fill="#3b6aa3"/>
<rect x="452.6" y="221.80" width="23.0" height="1.50" fill="#113d77"/>
<rect x="452.6" y="223.30" width="23.0" height="0.90" fill="#1c4c87"/>
<rect x="452.6" y="224.20" width="23.0" height="0.90" fill="#1c4c87"/>
<rect x="452.6" y="226.30" width="23.0" height="1.20" fill="#1c4c87"/>
<rect x="452.6" y="227.50" width="23.0" height="1.00" fill="#21518c"/>
<rect x="452.6" y="229.70" width="23.0" height="0.70" fill="#285891"/>
<rect x="452.6" y="234.60" width="23.0" height="1.00" fill="#1c4c87"/>
<rect x="452.6" y="235.60" width="23.0" height="0.90" fill="#1c4c87"/>
<rect x="452.6" y="238.70" width="23.0" height="1.00" fill="#21518c"/>
<rect x="452.6" y="242.90" width="23.0" height="0.90" fill="#285891"/>
<rect x="476.80" y="189.90" width="22.80" height="53.90" fill="#123f7a"/>
<rect x="476.8" y="189.90" width="22.8" height="1.50" fill="#7097c4"/>
<rect x="476.8" y="191.40" width="22.8" height="1.50" fill="#b9a9c2"/>
<rect x="476.8" y="192.90" width="22.8" height="0.90" fill="#5a86b8"/>
<rect x="476.8" y="193.80" width="22.8" height="1.00" fill="#7097c4"/>
<rect x="476.8" y="194.80" width="22.8" height="1.50" fill="#2a5a95"/>
<rect x="476.8" y="196.30" width="22.8" height="0.90" fill="#5a86b8"/>
<rect x="476.8" y="197.20" width="22.8" height="0.70" fill="#2a5a95"/>
<rect x="476.8" y="197.90" width="22.8" height="1.50" fill="#d3dde9"/>
<rect x="476.8" y="199.40" width="22.8" height="0.70" fill="#33639e"/>
<rect x="476.8" y="200.10" width="22.8" height="1.00" fill="#4f7db2"/>
<rect x="476.8" y="201.10" width="22.8" height="1.50" fill="#3b6aa3"/>
<rect x="476.8" y="202.60" width="22.8" height="0.90" fill="#2a5a95"/>
<rect x="476.8" y="203.50" width="22.8" height="0.70" fill="#3b6aa3"/>
<rect x="476.8" y="204.20" width="22.8" height="1.50" fill="#5a86b8"/>
<rect x="476.8" y="205.70" width="22.8" height="1.50" fill="#33639e"/>
<rect x="476.8" y="207.20" width="22.8" height="0.90" fill="#285891"/>
<rect x="476.8" y="208.10" width="22.8" height="1.20" fill="#3b6aa3"/>
<rect x="476.8" y="209.30" width="22.8" height="1.20" fill="#285891"/>
<rect x="476.8" y="210.50" width="22.8" height="0.90" fill="#4f7db2"/>
<rect x="476.8" y="211.40" width="22.8" height="0.90" fill="#5a86b8"/>
<rect x="476.8" y="212.30" width="22.8" height="1.20" fill="#5a86b8"/>
<rect x="476.8" y="213.50" width="22.8" height="1.20" fill="#2a5a95"/>
<rect x="476.8" y="214.70" width="22.8" height="1.50" fill="#7097c4"/>
<rect x="476.8" y="216.20" width="22.8" height="1.00" fill="#4f7db2"/>
<rect x="476.8" y="218.70" width="22.8" height="0.70" fill="#33639e"/>
<rect x="476.8" y="220.10" width="22.8" height="1.20" fill="#b3c8df"/>
<rect x="476.8" y="221.30" width="22.8" height="1.00" fill="#5a86b8"/>
<rect x="476.8" y="222.30" width="22.8" height="0.90" fill="#33639e"/>
<rect x="476.8" y="223.20" width="22.8" height="0.90" fill="#89aacf"/>
<rect x="476.8" y="224.10" width="22.8" height="1.20" fill="#7097c4"/>
<rect x="476.8" y="226.50" width="22.8" height="0.70" fill="#285891"/>
<rect x="476.8" y="227.20" width="22.8" height="0.70" fill="#5a86b8"/>
<rect x="476.8" y="228.90" width="22.8" height="0.70" fill="#5a86b8"/>
<rect x="476.8" y="230.50" width="22.8" height="1.50" fill="#3b6aa3"/>
<rect x="476.8" y="232.00" width="22.8" height="0.70" fill="#2a5a95"/>
<rect x="476.8" y="232.70" width="22.8" height="0.70" fill="#7097c4"/>
<rect x="476.8" y="234.30" width="22.8" height="0.70" fill="#285891"/>
<rect x="476.8" y="235.00" width="22.8" height="1.00" fill="#3b6aa3"/>
<rect x="476.8" y="236.00" width="22.8" height="0.70" fill="#7097c4"/>
<rect x="476.8" y="236.70" width="22.8" height="0.90" fill="#2a5a95"/>
<rect x="476.8" y="237.60" width="22.8" height="0.70" fill="#4f7db2"/>
<rect x="476.8" y="238.30" width="22.8" height="0.90" fill="#4f7db2"/>
<rect x="476.8" y="239.20" width="22.8" height="0.70" fill="#2a5a95"/>
<rect x="476.8" y="239.90" width="22.8" height="1.20" fill="#285891"/>
<rect x="476.8" y="241.10" width="22.8" height="1.50" fill="#89aacf"/>
<rect x="476.8" y="242.60" width="22.8" height="0.90" fill="#4f7db2"/>
<rect x="476.8" y="243.50" width="22.8" height="0.30" fill="#4f7db2"/>
<rect x="500.80" y="189.90" width="23.00" height="53.90" fill="#123f7a"/>
<rect x="500.8" y="193.10" width="23.0" height="0.90" fill="#113d77"/>
<rect x="500.8" y="195.50" width="23.0" height="0.70" fill="#285891"/>
<rect x="500.8" y="199.50" width="23.0" height="1.50" fill="#2a5a95"/>
<rect x="500.8" y="209.30" width="23.0" height="0.70" fill="#3b6aa3"/>
<rect x="500.8" y="211.50" width="23.0" height="1.00" fill="#113d77"/>
<rect x="500.8" y="213.40" width="23.0" height="0.70" fill="#21518c"/>
<rect x="500.8" y="214.10" width="23.0" height="0.70" fill="#113d77"/>
<rect x="500.8" y="214.80" width="23.0" height="0.90" fill="#113d77"/>
<rect x="500.8" y="215.70" width="23.0" height="0.90" fill="#1c4c87"/>
<rect x="500.8" y="222.40" width="23.0" height="0.70" fill="#21518c"/>
<rect x="500.8" y="231.50" width="23.0" height="0.90" fill="#21518c"/>
<rect x="500.8" y="232.40" width="23.0" height="0.70" fill="#21518c"/>
<rect x="500.8" y="233.10" width="23.0" height="0.70" fill="#2a5a95"/>
<rect x="500.8" y="234.50" width="23.0" height="1.00" fill="#1c4c87"/>
<rect x="500.8" y="235.50" width="23.0" height="1.20" fill="#113d77"/>
<rect x="525.00" y="189.90" width="23.00" height="53.90" fill="#123f7a"/>
<rect x="525.0" y="189.90" width="23.0" height="0.70" fill="#3b6aa3"/>
<rect x="525.0" y="190.60" width="23.0" height="1.20" fill="#1c4c87"/>
<rect x="525.0" y="194.70" width="23.0" height="0.90" fill="#113d77"/>
<rect x="525.0" y="195.60" width="23.0" height="0.70" fill="#5a86b8"/>
<rect x="525.0" y="196.30" width="23.0" height="1.50" fill="#113d77"/>
<rect x="525.0" y="198.50" width="23.0" height="1.50" fill="#113d77"/>
<rect x="525.0" y="200.00" width="23.0" height="0.70" fill="#1c4c87"/>
<rect x="525.0" y="202.20" width="23.0" height="1.50" fill="#1c4c87"/>
<rect x="525.0" y="214.60" width="23.0" height="0.70" fill="#21518c"/>
<rect x="525.0" y="218.50" width="23.0" height="0.90" fill="#2a5a95"/>
<rect x="525.0" y="227.80" width="23.0" height="0.70" fill="#2a5a95"/>
<rect x="525.0" y="228.50" width="23.0" height="1.50" fill="#3b6aa3"/>
<rect x="525.0" y="230.00" width="23.0" height="1.00" fill="#21518c"/>
<rect x="525.0" y="233.10" width="23.0" height="1.20" fill="#21518c"/>
<rect x="525.0" y="234.30" width="23.0" height="0.90" fill="#1c4c87"/>
<rect x="525.0" y="235.20" width="23.0" height="0.70" fill="#1c4c87"/>
<rect x="525.0" y="237.10" width="23.0" height="0.90" fill="#1c4c87"/>
<rect x="525.0" y="242.50" width="23.0" height="0.90" fill="#4f7db2"/>
<rect x="525.0" y="243.40" width="23.0" height="0.40" fill="#21518c"/>
<rect x="331.20" y="246.60" width="23.80" height="38.00" fill="#123f7a"/>
<rect x="331.2" y="249.30" width="23.8" height="0.70" fill="#21518c"/>
<rect x="331.2" y="252.00" width="23.8" height="1.00" fill="#33639e"/>
<rect x="331.2" y="254.70" width="23.8" height="1.20" fill="#113d77"/>
<rect x="331.2" y="260.50" width="23.8" height="0.70" fill="#21518c"/>
<rect x="331.2" y="263.60" width="23.8" height="1.20" fill="#21518c"/>
<rect x="331.2" y="264.80" width="23.8" height="1.00" fill="#113d77"/>
<rect x="331.2" y="266.50" width="23.8" height="1.20" fill="#21518c"/>
<rect x="331.2" y="267.70" width="23.8" height="0.90" fill="#21518c"/>
<rect x="331.2" y="268.60" width="23.8" height="0.90" fill="#1c4c87"/>
<rect x="331.2" y="273.00" width="23.8" height="1.00" fill="#113d77"/>
<rect x="331.2" y="276.00" width="23.8" height="0.70" fill="#113d77"/>
<rect x="331.2" y="276.70" width="23.8" height="1.50" fill="#1c4c87"/>
<rect x="331.2" y="284.00" width="23.8" height="0.60" fill="#21518c"/>
<rect x="356.10" y="246.60" width="22.90" height="38.00" fill="#123f7a"/>
<rect x="356.1" y="246.60" width="22.9" height="1.00" fill="#285891"/>
<rect x="356.1" y="247.60" width="22.9" height="0.90" fill="#2a5a95"/>
<rect x="356.1" y="248.50" width="22.9" height="1.00" fill="#33639e"/>
<rect x="356.1" y="252.20" width="22.9" height="1.50" fill="#3b6aa3"/>
<rect x="356.1" y="253.70" width="22.9" height="0.70" fill="#2a5a95"/>
<rect x="356.1" y="254.40" width="22.9" height="0.70" fill="#21518c"/>
<rect x="356.1" y="255.10" width="22.9" height="0.90" fill="#285891"/>
<rect x="356.1" y="257.50" width="22.9" height="1.20" fill="#285891"/>
<rect x="356.1" y="258.70" width="22.9" height="1.00" fill="#33639e"/>
<rect x="356.1" y="261.20" width="22.9" height="1.50" fill="#3b6aa3"/>
<rect x="356.1" y="262.70" width="22.9" height="0.90" fill="#2a5a95"/>
<rect x="356.1" y="263.60" width="22.9" height="0.90" fill="#2a5a95"/>
<rect x="356.1" y="264.50" width="22.9" height="0.70" fill="#33639e"/>
<rect x="356.1" y="265.20" width="22.9" height="0.70" fill="#4f7db2"/>
<rect x="356.1" y="265.90" width="22.9" height="1.50" fill="#3b6aa3"/>
<rect x="356.1" y="267.40" width="22.9" height="1.20" fill="#5a86b8"/>
<rect x="356.1" y="268.60" width="22.9" height="1.50" fill="#33639e"/>
<rect x="356.1" y="270.10" width="22.9" height="1.50" fill="#285891"/>
<rect x="356.1" y="271.60" width="22.9" height="1.00" fill="#21518c"/>
<rect x="356.1" y="272.60" width="22.9" height="1.00" fill="#2a5a95"/>
<rect x="356.1" y="273.60" width="22.9" height="1.20" fill="#33639e"/>
<rect x="356.1" y="274.80" width="22.9" height="0.70" fill="#2a5a95"/>
<rect x="356.1" y="275.50" width="22.9" height="1.20" fill="#89aacf"/>
<rect x="356.1" y="276.70" width="22.9" height="0.70" fill="#33639e"/>
<rect x="356.1" y="277.40" width="22.9" height="0.90" fill="#113d77"/>
<rect x="356.1" y="278.30" width="22.9" height="1.00" fill="#3b6aa3"/>
<rect x="356.1" y="279.30" width="22.9" height="1.50" fill="#21518c"/>
<rect x="356.1" y="282.70" width="22.9" height="1.20" fill="#285891"/>
<rect x="380.20" y="246.60" width="22.90" height="38.00" fill="#123f7a"/>
<rect x="380.2" y="246.60" width="22.9" height="0.70" fill="#33639e"/>
<rect x="380.2" y="247.30" width="22.9" height="0.70" fill="#c8909c"/>
<rect x="380.2" y="248.00" width="22.9" height="0.70" fill="#d8a0a6"/>
<rect x="380.2" y="248.70" width="22.9" height="0.70" fill="#d3dde9"/>
<rect x="380.2" y="249.40" width="22.9" height="1.00" fill="#dcc0c4"/>
<rect x="380.2" y="250.40" width="22.9" height="1.20" fill="#d3dde9"/>
<rect x="380.2" y="251.60" width="22.9" height="1.20" fill="#dcc0c4"/>
<rect x="380.2" y="252.80" width="22.9" height="1.20" fill="#b9a9c2"/>
<rect x="380.2" y="254.00" width="22.9" height="0.70" fill="#e2b8b8"/>
<rect x="380.2" y="254.70" width="22.9" height="0.90" fill="#d8a0a6"/>
<rect x="380.2" y="255.60" width="22.9" height="0.70" fill="#d3dde9"/>
<rect x="380.2" y="256.30" width="22.9" height="1.50" fill="#b4424f"/>
<rect x="380.2" y="257.80" width="22.9" height="0.70" fill="#e2b8b8"/>
<rect x="380.2" y="258.50" width="22.9" height="1.20" fill="#b9a9c2"/>
<rect x="380.2" y="259.70" width="22.9" height="1.50" fill="#c0505a"/>
<rect x="380.2" y="261.20" width="22.9" height="1.20" fill="#b3c8df"/>
<rect x="380.2" y="262.40" width="22.9" height="1.20" fill="#dcc0c4"/>
<rect x="380.2" y="263.60" width="22.9" height="0.90" fill="#b9a9c2"/>
<rect x="380.2" y="264.50" width="22.9" height="0.90" fill="#c8909c"/>
<rect x="380.2" y="265.40" width="22.9" height="1.00" fill="#dcc0c4"/>
<rect x="380.2" y="266.40" width="22.9" height="0.90" fill="#c8909c"/>
<rect x="380.2" y="267.30" width="22.9" height="1.00" fill="#dcc0c4"/>
<rect x="380.2" y="268.30" width="22.9" height="1.20" fill="#d3dde9"/>
<rect x="380.2" y="269.50" width="22.9" height="1.00" fill="#dcc0c4"/>
<rect x="380.2" y="270.50" width="22.9" height="0.70" fill="#dcc0c4"/>
<rect x="380.2" y="271.20" width="22.9" height="0.70" fill="#c0505a"/>
<rect x="380.2" y="271.90" width="22.9" height="1.50" fill="#2a5a95"/>
<rect x="380.2" y="273.40" width="22.9" height="1.50" fill="#b9a9c2"/>
<rect x="380.2" y="274.90" width="22.9" height="1.50" fill="#cc6266"/>
<rect x="380.2" y="276.40" width="22.9" height="0.90" fill="#b9a9c2"/>
<rect x="380.2" y="277.30" width="22.9" height="1.20" fill="#d3dde9"/>
<rect x="380.2" y="278.50" width="22.9" height="0.70" fill="#a5364a"/>
<rect x="380.2" y="279.20" width="22.9" height="1.20" fill="#cc6266"/>
<rect x="380.2" y="280.40" width="22.9" height="0.70" fill="#dcc0c4"/>
<rect x="380.2" y="281.10" width="22.9" height="0.70" fill="#b3c8df"/>
<rect x="380.2" y="281.80" width="22.9" height="1.50" fill="#d2706c"/>
<rect x="380.2" y="283.30" width="22.9" height="1.30" fill="#c8909c"/>
<rect x="404.30" y="246.60" width="22.90" height="38.00" fill="#123f7a"/>
<rect x="404.3" y="247.60" width="22.9" height="1.20" fill="#113d77"/>
<rect x="404.3" y="253.50" width="22.9" height="1.00" fill="#2a5a95"/>
<rect x="404.3" y="254.50" width="22.9" height="0.90" fill="#1c4c87"/>
<rect x="404.3" y="257.10" width="22.9" height="1.20" fill="#21518c"/>
<rect x="404.3" y="258.30" width="22.9" height="1.50" fill="#1c4c87"/>
<rect x="404.3" y="262.50" width="22.9" height="1.50" fill="#21518c"/>
<rect x="404.3" y="264.00" width="22.9" height="1.20" fill="#113d77"/>
<rect x="404.3" y="266.40" width="22.9" height="1.20" fill="#113d77"/>
<rect x="404.3" y="267.60" width="22.9" height="1.00" fill="#2a5a95"/>
<rect x="404.3" y="269.50" width="22.9" height="0.70" fill="#1c4c87"/>
<rect x="404.3" y="270.20" width="22.9" height="1.20" fill="#21518c"/>
<rect x="404.3" y="271.40" width="22.9" height="1.50" fill="#21518c"/>
<rect x="404.3" y="278.90" width="22.9" height="1.00" fill="#1c4c87"/>
<rect x="404.3" y="281.10" width="22.9" height="1.00" fill="#21518c"/>
<rect x="404.3" y="282.10" width="22.9" height="0.70" fill="#113d77"/>
<rect x="428.40" y="246.60" width="23.00" height="38.00" fill="#123f7a"/>
<rect x="428.4" y="249.50" width="23.0" height="0.70" fill="#1c4c87"/>
<rect x="428.4" y="252.70" width="23.0" height="0.70" fill="#113d77"/>
<rect x="428.4" y="256.00" width="23.0" height="0.90" fill="#33639e"/>
<rect x="428.4" y="264.60" width="23.0" height="0.70" fill="#113d77"/>
<rect x="428.4" y="265.30" width="23.0" height="1.20" fill="#1c4c87"/>
<rect x="428.4" y="266.50" width="23.0" height="1.20" fill="#285891"/>
<rect x="428.4" y="268.70" width="23.0" height="1.50" fill="#285891"/>
<rect x="428.4" y="270.20" width="23.0" height="1.00" fill="#33639e"/>
<rect x="428.4" y="271.20" width="23.0" height="1.50" fill="#1c4c87"/>
<rect x="428.4" y="274.10" width="23.0" height="1.20" fill="#113d77"/>
<rect x="428.4" y="276.00" width="23.0" height="1.00" fill="#33639e"/>
<rect x="428.4" y="278.50" width="23.0" height="0.90" fill="#113d77"/>
<rect x="428.4" y="280.90" width="23.0" height="1.00" fill="#1c4c87"/>
<rect x="428.4" y="281.90" width="23.0" height="0.70" fill="#7097c4"/>
<rect x="428.4" y="282.60" width="23.0" height="1.20" fill="#1c4c87"/>
<rect x="452.60" y="246.60" width="23.00" height="38.00" fill="#123f7a"/>
<rect x="452.6" y="246.60" width="23.0" height="1.00" fill="#1c4c87"/>
<rect x="452.6" y="248.50" width="23.0" height="0.90" fill="#285891"/>
<rect x="452.6" y="249.40" width="23.0" height="0.90" fill="#113d77"/>
<rect x="452.6" y="251.80" width="23.0" height="0.90" fill="#5a86b8"/>
<rect x="452.6" y="255.00" width="23.0" height="1.00" fill="#21518c"/>
<rect x="452.6" y="257.70" width="23.0" height="1.50" fill="#113d77"/>
<rect x="452.6" y="263.80" width="23.0" height="0.70" fill="#113d77"/>
<rect x="452.6" y="267.50" width="23.0" height="1.00" fill="#33639e"/>
<rect x="452.6" y="269.40" width="23.0" height="1.50" fill="#1c4c87"/>
<rect x="452.6" y="274.50" width="23.0" height="0.90" fill="#21518c"/>
<rect x="452.6" y="278.10" width="23.0" height="1.00" fill="#1c4c87"/>
<rect x="452.6" y="282.70" width="23.0" height="1.00" fill="#21518c"/>
<rect x="476.80" y="246.60" width="22.80" height="38.00" fill="#123f7a"/>
<rect x="476.8" y="246.60" width="22.8" height="1.50" fill="#33639e"/>
<rect x="476.8" y="249.30" width="22.8" height="1.00" fill="#3b6aa3"/>
<rect x="476.8" y="250.30" width="22.8" height="1.20" fill="#2a5a95"/>
<rect x="476.8" y="251.50" width="22.8" height="1.00" fill="#89aacf"/>
<rect x="476.8" y="253.50" width="22.8" height="1.00" fill="#33639e"/>
<rect x="476.8" y="254.50" width="22.8" height="1.50" fill="#7097c4"/>
<rect x="476.8" y="256.00" width="22.8" height="1.50" fill="#d3dde9"/>
<rect x="476.8" y="257.50" width="22.8" height="0.70" fill="#7097c4"/>
<rect x="476.8" y="259.10" width="22.8" height="0.90" fill="#285891"/>
<rect x="476.8" y="261.20" width="22.8" height="1.00" fill="#285891"/>
<rect x="476.8" y="262.20" width="22.8" height="0.70" fill="#5a86b8"/>
<rect x="476.8" y="262.90" width="22.8" height="0.70" fill="#285891"/>
<rect x="476.8" y="263.60" width="22.8" height="1.00" fill="#7097c4"/>
<rect x="476.8" y="264.60" width="22.8" height="1.50" fill="#c4d4e6"/>
<rect x="476.8" y="266.10" width="22.8" height="1.20" fill="#3b6aa3"/>
<rect x="476.8" y="267.30" width="22.8" height="0.90" fill="#2a5a95"/>
<rect x="476.8" y="268.20" width="22.8" height="1.20" fill="#5a86b8"/>
<rect x="476.8" y="269.40" width="22.8" height="1.20" fill="#4f7db2"/>
<rect x="476.8" y="270.60" width="22.8" height="1.20" fill="#285891"/>
<rect x="476.8" y="271.80" width="22.8" height="1.20" fill="#285891"/>
<rect x="476.8" y="273.00" width="22.8" height="0.90" fill="#4f7db2"/>
<rect x="476.8" y="273.90" width="22.8" height="0.90" fill="#4f7db2"/>
<rect x="476.8" y="274.80" width="22.8" height="0.90" fill="#89aacf"/>
<rect x="476.8" y="275.70" width="22.8" height="1.50" fill="#285891"/>
<rect x="476.8" y="277.20" width="22.8" height="1.00" fill="#89aacf"/>
<rect x="476.8" y="279.70" width="22.8" height="1.50" fill="#89aacf"/>
<rect x="476.8" y="281.20" width="22.8" height="0.70" fill="#7097c4"/>
<rect x="476.8" y="281.90" width="22.8" height="0.90" fill="#285891"/>
<rect x="476.8" y="282.80" width="22.8" height="1.20" fill="#285891"/>
<rect x="476.8" y="284.00" width="22.8" height="0.60" fill="#4f7db2"/>
<rect x="500.80" y="246.60" width="23.00" height="38.00" fill="#123f7a"/>
<rect x="500.8" y="252.30" width="23.0" height="1.00" fill="#1c4c87"/>
<rect x="500.8" y="254.00" width="23.0" height="1.20" fill="#285891"/>
<rect x="500.8" y="258.90" width="23.0" height="1.50" fill="#1c4c87"/>
<rect x="500.8" y="267.20" width="23.0" height="1.20" fill="#1c4c87"/>
<rect x="500.8" y="275.30" width="23.0" height="1.00" fill="#113d77"/>
<rect x="500.8" y="276.30" width="23.0" height="1.00" fill="#21518c"/>
<rect x="500.8" y="282.10" width="23.0" height="0.70" fill="#21518c"/>
<rect x="525.00" y="246.60" width="23.00" height="38.00" fill="#123f7a"/>
<rect x="525.0" y="246.60" width="23.0" height="1.50" fill="#113d77"/>
<rect x="525.0" y="252.20" width="23.0" height="1.00" fill="#285891"/>
<rect x="525.0" y="253.20" width="23.0" height="0.70" fill="#4f7db2"/>
<rect x="525.0" y="253.90" width="23.0" height="1.00" fill="#1c4c87"/>
<rect x="525.0" y="257.40" width="23.0" height="0.90" fill="#113d77"/>
<rect x="525.0" y="258.30" width="23.0" height="0.90" fill="#1c4c87"/>
<rect x="525.0" y="260.70" width="23.0" height="1.50" fill="#113d77"/>
<rect x="525.0" y="263.10" width="23.0" height="0.70" fill="#1c4c87"/>
<rect x="525.0" y="264.80" width="23.0" height="1.20" fill="#1c4c87"/>
<rect x="525.0" y="270.00" width="23.0" height="0.90" fill="#89aacf"/>
<rect x="525.0" y="273.30" width="23.0" height="0.70" fill="#2a5a95"/>
<rect x="525.0" y="274.00" width="23.0" height="1.20" fill="#21518c"/>
<rect x="525.0" y="277.70" width="23.0" height="0.90" fill="#113d77"/>
<rect x="331.20" y="287.10" width="23.80" height="86.90" fill="#123f7a"/>
<rect x="331.2" y="288.80" width="23.8" height="0.90" fill="#113d77"/>
<rect x="331.2" y="289.70" width="23.8" height="1.20" fill="#21518c"/>
<rect x="331.2" y="290.90" width="23.8" height="1.50" fill="#21518c"/>
<rect x="331.2" y="293.30" width="23.8" height="1.50" fill="#285891"/>
<rect x="331.2" y="297.00" width="23.8" height="0.90" fill="#113d77"/>
<rect x="331.2" y="298.60" width="23.8" height="1.50" fill="#21518c"/>
<rect x="331.2" y="300.10" width="23.8" height="1.50" fill="#1c4c87"/>
<rect x="331.2" y="301.60" width="23.8" height="1.50" fill="#113d77"/>
<rect x="331.2" y="303.10" width="23.8" height="1.00" fill="#21518c"/>
<rect x="331.2" y="304.10" width="23.8" height="1.00" fill="#113d77"/>
<rect x="331.2" y="307.60" width="23.8" height="1.20" fill="#113d77"/>
<rect x="331.2" y="308.80" width="23.8" height="1.00" fill="#113d77"/>
<rect x="331.2" y="312.10" width="23.8" height="1.50" fill="#21518c"/>
<rect x="331.2" y="317.90" width="23.8" height="0.90" fill="#2a5a95"/>
<rect x="331.2" y="323.20" width="23.8" height="0.90" fill="#1c4c87"/>
<rect x="331.2" y="326.00" width="23.8" height="0.90" fill="#3b6aa3"/>
<rect x="331.2" y="326.90" width="23.8" height="0.70" fill="#21518c"/>
<rect x="331.2" y="335.30" width="23.8" height="0.70" fill="#1c4c87"/>
<rect x="331.2" y="339.60" width="23.8" height="1.00" fill="#1c4c87"/>
<rect x="331.2" y="343.60" width="23.8" height="0.90" fill="#1c4c87"/>
<rect x="331.2" y="348.40" width="23.8" height="1.20" fill="#3b6aa3"/>
<rect x="331.2" y="350.50" width="23.8" height="0.90" fill="#1c4c87"/>
<rect x="331.2" y="351.40" width="23.8" height="0.90" fill="#1c4c87"/>
<rect x="331.2" y="352.30" width="23.8" height="1.20" fill="#113d77"/>
<rect x="331.2" y="355.00" width="23.8" height="0.70" fill="#21518c"/>
<rect x="331.2" y="355.70" width="23.8" height="1.50" fill="#3b6aa3"/>
<rect x="331.2" y="357.20" width="23.8" height="1.20" fill="#21518c"/>
<rect x="331.2" y="363.00" width="23.8" height="0.70" fill="#33639e"/>
<rect x="331.2" y="363.70" width="23.8" height="1.00" fill="#21518c"/>
<rect x="331.2" y="367.20" width="23.8" height="0.70" fill="#4f7db2"/>
<rect x="331.2" y="368.80" width="23.8" height="0.70" fill="#113d77"/>
<rect x="331.2" y="369.50" width="23.8" height="1.20" fill="#21518c"/>
<rect x="331.2" y="370.70" width="23.8" height="1.20" fill="#2a5a95"/>
<rect x="331.2" y="372.80" width="23.8" height="1.00" fill="#7097c4"/>
<rect x="331.2" y="373.80" width="23.8" height="0.20" fill="#113d77"/>
<rect x="356.10" y="287.10" width="22.90" height="86.90" fill="#123f7a"/>
<rect x="356.1" y="287.10" width="22.9" height="0.90" fill="#b9a9c2"/>
<rect x="356.1" y="288.00" width="22.9" height="1.00" fill="#a5364a"/>
<rect x="356.1" y="289.00" width="22.9" height="1.20" fill="#c0505a"/>
<rect x="356.1" y="290.20" width="22.9" height="1.20" fill="#c8909c"/>
<rect x="356.1" y="291.40" width="22.9" height="1.20" fill="#d8a0a6"/>
<rect x="356.1" y="292.60" width="22.9" height="0.70" fill="#cc6266"/>
<rect x="356.1" y="293.30" width="22.9" height="0.70" fill="#a5364a"/>
<rect x="356.1" y="294.00" width="22.9" height="1.00" fill="#285891"/>
<rect x="356.1" y="295.00" width="22.9" height="0.70" fill="#b4424f"/>
<rect x="356.1" y="295.70" width="22.9" height="0.90" fill="#e2b8b8"/>
<rect x="356.1" y="296.60" width="22.9" height="1.00" fill="#a5364a"/>
<rect x="356.1" y="297.60" width="22.9" height="1.00" fill="#a5364a"/>
<rect x="356.1" y="298.60" width="22.9" height="1.00" fill="#b9a9c2"/>
<rect x="356.1" y="299.60" width="22.9" height="1.00" fill="#d8a0a6"/>
<rect x="356.1" y="300.60" width="22.9" height="0.70" fill="#c0505a"/>
<rect x="356.1" y="301.30" width="22.9" height="1.00" fill="#b9a9c2"/>
<rect x="356.1" y="302.30" width="22.9" height="1.00" fill="#e2b8b8"/>
<rect x="356.1" y="303.30" width="22.9" height="1.20" fill="#b3c8df"/>
<rect x="356.1" y="304.50" width="22.9" height="1.00" fill="#a5364a"/>
<rect x="356.1" y="305.50" width="22.9" height="0.70" fill="#d2706c"/>
<rect x="356.1" y="306.20" width="22.9" height="1.00" fill="#e2b8b8"/>
<rect x="356.1" y="307.20" width="22.9" height="0.90" fill="#d2706c"/>
<rect x="356.1" y="308.10" width="22.9" height="1.20" fill="#b9a9c2"/>
<rect x="356.1" y="309.30" width="22.9" height="0.90" fill="#b9a9c2"/>
<rect x="356.1" y="310.20" width="22.9" height="1.50" fill="#c4d4e6"/>
<rect x="356.1" y="311.70" width="22.9" height="1.50" fill="#cc6266"/>
<rect x="356.1" y="313.20" width="22.9" height="1.00" fill="#e2b8b8"/>
<rect x="356.1" y="314.20" width="22.9" height="0.70" fill="#a5364a"/>
<rect x="356.1" y="314.90" width="22.9" height="1.20" fill="#e2b8b8"/>
<rect x="356.1" y="316.10" width="22.9" height="1.20" fill="#d8a0a6"/>
<rect x="356.1" y="317.30" width="22.9" height="1.00" fill="#c4d4e6"/>
<rect x="356.1" y="318.30" width="22.9" height="0.70" fill="#cc6266"/>
<rect x="356.1" y="319.00" width="22.9" height="1.50" fill="#c0505a"/>
<rect x="356.1" y="320.50" width="22.9" height="0.90" fill="#b4424f"/>
<rect x="356.1" y="321.40" width="22.9" height="0.70" fill="#cc6266"/>
<rect x="356.1" y="322.10" width="22.9" height="1.50" fill="#c0505a"/>
<rect x="356.1" y="323.60" width="22.9" height="1.20" fill="#a5364a"/>
<rect x="356.1" y="324.80" width="22.9" height="1.20" fill="#b4424f"/>
<rect x="356.1" y="326.00" width="22.9" height="1.00" fill="#dcc0c4"/>
<rect x="356.1" y="327.00" width="22.9" height="1.50" fill="#d8a0a6"/>
<rect x="356.1" y="328.50" width="22.9" height="1.00" fill="#7097c4"/>
<rect x="356.1" y="329.50" width="22.9" height="0.90" fill="#e2b8b8"/>
<rect x="356.1" y="330.40" width="22.9" height="1.00" fill="#b9a9c2"/>
<rect x="356.1" y="331.40" width="22.9" height="1.00" fill="#7097c4"/>
<rect x="356.1" y="332.40" width="22.9" height="1.00" fill="#b4424f"/>
<rect x="356.1" y="333.40" width="22.9" height="1.00" fill="#c0505a"/>
<rect x="356.1" y="334.40" width="22.9" height="0.70" fill="#a5364a"/>
<rect x="356.1" y="335.10" width="22.9" height="1.00" fill="#cc6266"/>
<rect x="356.1" y="336.10" width="22.9" height="0.90" fill="#b9a9c2"/>
<rect x="356.1" y="337.00" width="22.9" height="1.50" fill="#dcc0c4"/>
<rect x="356.1" y="338.50" width="22.9" height="0.70" fill="#d3dde9"/>
<rect x="356.1" y="339.20" width="22.9" height="0.70" fill="#d8a0a6"/>
<rect x="356.1" y="339.90" width="22.9" height="1.00" fill="#d2706c"/>
<rect x="356.1" y="340.90" width="22.9" height="0.90" fill="#e2b8b8"/>
<rect x="356.1" y="341.80" width="22.9" height="1.00" fill="#c0505a"/>
<rect x="356.1" y="342.80" width="22.9" height="1.00" fill="#c8909c"/>
<rect x="356.1" y="343.80" width="22.9" height="0.90" fill="#2a5a95"/>
<rect x="356.1" y="344.70" width="22.9" height="1.50" fill="#a5364a"/>
<rect x="356.1" y="346.20" width="22.9" height="0.90" fill="#dcc0c4"/>
<rect x="356.1" y="347.10" width="22.9" height="1.20" fill="#a5364a"/>
<rect x="356.1" y="348.30" width="22.9" height="0.70" fill="#c0505a"/>
<rect x="356.1" y="349.00" width="22.9" height="1.00" fill="#c4d4e6"/>
<rect x="356.1" y="350.00" width="22.9" height="0.90" fill="#5a86b8"/>
<rect x="356.1" y="350.90" width="22.9" height="0.70" fill="#d2706c"/>
<rect x="356.1" y="351.60" width="22.9" height="0.90" fill="#b9a9c2"/>
<rect x="356.1" y="352.50" width="22.9" height="1.20" fill="#d2706c"/>
<rect x="356.1" y="353.70" width="22.9" height="1.00" fill="#c8909c"/>
<rect x="356.1" y="354.70" width="22.9" height="0.70" fill="#b9a9c2"/>
<rect x="356.1" y="355.40" width="22.9" height="0.70" fill="#d3dde9"/>
<rect x="356.1" y="356.10" width="22.9" height="1.20" fill="#89aacf"/>
<rect x="356.1" y="357.30" width="22.9" height="0.70" fill="#c8909c"/>
<rect x="356.1" y="358.00" width="22.9" height="1.50" fill="#c4d4e6"/>
<rect x="356.1" y="359.50" width="22.9" height="0.90" fill="#a5364a"/>
<rect x="356.1" y="360.40" width="22.9" height="0.70" fill="#d2706c"/>
<rect x="356.1" y="361.10" width="22.9" height="0.70" fill="#b9a9c2"/>
<rect x="356.1" y="361.80" width="22.9" height="1.00" fill="#b9a9c2"/>
<rect x="356.1" y="362.80" width="22.9" height="1.20" fill="#e2b8b8"/>
<rect x="356.1" y="364.00" width="22.9" height="0.70" fill="#cc6266"/>
<rect x="356.1" y="364.70" width="22.9" height="1.00" fill="#c8909c"/>
<rect x="356.1" y="365.70" width="22.9" height="0.70" fill="#a5364a"/>
<rect x="356.1" y="366.40" width="22.9" height="1.50" fill="#b4424f"/>
<rect x="356.1" y="367.90" width="22.9" height="1.00" fill="#e2b8b8"/>
<rect x="356.1" y="368.90" width="22.9" height="1.00" fill="#c4d4e6"/>
<rect x="356.1" y="369.90" width="22.9" height="1.00" fill="#e2b8b8"/>
<rect x="356.1" y="370.90" width="22.9" height="1.50" fill="#dcc0c4"/>
<rect x="356.1" y="372.40" width="22.9" height="1.50" fill="#b4424f"/>
<rect x="356.1" y="373.90" width="22.9" height="0.10" fill="#d8a0a6"/>
<rect x="380.20" y="287.10" width="22.90" height="86.90" fill="#123f7a"/>
<rect x="380.2" y="287.10" width="22.9" height="1.50" fill="#7097c4"/>
<rect x="380.2" y="288.60" width="22.9" height="1.50" fill="#d3dde9"/>
<rect x="380.2" y="290.10" width="22.9" height="1.20" fill="#2a5a95"/>
<rect x="380.2" y="291.30" width="22.9" height="1.50" fill="#b3c8df"/>
<rect x="380.2" y="294.70" width="22.9" height="1.50" fill="#3b6aa3"/>
<rect x="380.2" y="296.20" width="22.9" height="1.00" fill="#5a86b8"/>
<rect x="380.2" y="297.20" width="22.9" height="1.50" fill="#2a5a95"/>
<rect x="380.2" y="299.60" width="22.9" height="1.50" fill="#4f7db2"/>
<rect x="380.2" y="301.10" width="22.9" height="1.50" fill="#c4d4e6"/>
<rect x="380.2" y="302.60" width="22.9" height="1.20" fill="#2a5a95"/>
<rect x="380.2" y="303.80" width="22.9" height="0.90" fill="#b3c8df"/>
<rect x="380.2" y="304.70" width="22.9" height="0.70" fill="#4f7db2"/>
<rect x="380.2" y="305.40" width="22.9" height="1.50" fill="#89aacf"/>
<rect x="380.2" y="306.90" width="22.9" height="1.20" fill="#3b6aa3"/>
<rect x="380.2" y="308.10" width="22.9" height="1.00" fill="#2a5a95"/>
<rect x="380.2" y="309.10" width="22.9" height="1.20" fill="#89aacf"/>
<rect x="380.2" y="310.30" width="22.9" height="1.00" fill="#285891"/>
<rect x="380.2" y="311.30" width="22.9" height="1.00" fill="#285891"/>
<rect x="380.2" y="312.30" width="22.9" height="0.90" fill="#4f7db2"/>
<rect x="380.2" y="313.20" width="22.9" height="0.90" fill="#89aacf"/>
<rect x="380.2" y="314.10" width="22.9" height="1.20" fill="#285891"/>
<rect x="380.2" y="315.30" width="22.9" height="0.70" fill="#d3dde9"/>
<rect x="380.2" y="316.00" width="22.9" height="0.70" fill="#33639e"/>
<rect x="380.2" y="317.40" width="22.9" height="1.00" fill="#89aacf"/>
<rect x="380.2" y="318.40" width="22.9" height="0.70" fill="#7097c4"/>
<rect x="380.2" y="319.10" width="22.9" height="1.50" fill="#5a86b8"/>
<rect x="380.2" y="320.60" width="22.9" height="0.70" fill="#33639e"/>
<rect x="380.2" y="321.30" width="22.9" height="1.50" fill="#2a5a95"/>
<rect x="380.2" y="322.80" width="22.9" height="0.90" fill="#3b6aa3"/>
<rect x="380.2" y="323.70" width="22.9" height="0.70" fill="#d3dde9"/>
<rect x="380.2" y="324.40" width="22.9" height="1.50" fill="#4f7db2"/>
<rect x="380.2" y="325.90" width="22.9" height="1.50" fill="#7097c4"/>
<rect x="380.2" y="327.40" width="22.9" height="1.00" fill="#2a5a95"/>
<rect x="380.2" y="328.40" width="22.9" height="0.90" fill="#33639e"/>
<rect x="380.2" y="330.80" width="22.9" height="0.90" fill="#33639e"/>
<rect x="380.2" y="331.70" width="22.9" height="0.70" fill="#4f7db2"/>
<rect x="380.2" y="332.40" width="22.9" height="0.70" fill="#2a5a95"/>
<rect x="380.2" y="333.10" width="22.9" height="1.20" fill="#33639e"/>
<rect x="380.2" y="334.30" width="22.9" height="1.20" fill="#5a86b8"/>
<rect x="380.2" y="335.50" width="22.9" height="1.50" fill="#5a86b8"/>
<rect x="380.2" y="337.00" width="22.9" height="0.70" fill="#33639e"/>
<rect x="380.2" y="337.70" width="22.9" height="1.00" fill="#285891"/>
<rect x="380.2" y="338.70" width="22.9" height="1.20" fill="#2a5a95"/>
<rect x="380.2" y="339.90" width="22.9" height="0.90" fill="#5a86b8"/>
<rect x="380.2" y="340.80" width="22.9" height="1.00" fill="#285891"/>
<rect x="380.2" y="341.80" width="22.9" height="1.20" fill="#2a5a95"/>
<rect x="380.2" y="343.70" width="22.9" height="1.00" fill="#3b6aa3"/>
<rect x="380.2" y="344.70" width="22.9" height="1.00" fill="#2a5a95"/>
<rect x="380.2" y="345.70" width="22.9" height="1.00" fill="#33639e"/>
<rect x="380.2" y="346.70" width="22.9" height="0.70" fill="#3b6aa3"/>
<rect x="380.2" y="348.40" width="22.9" height="1.20" fill="#33639e"/>
<rect x="380.2" y="349.60" width="22.9" height="1.20" fill="#89aacf"/>
<rect x="380.2" y="350.80" width="22.9" height="1.00" fill="#89aacf"/>
<rect x="380.2" y="351.80" width="22.9" height="1.50" fill="#285891"/>
<rect x="380.2" y="353.30" width="22.9" height="1.00" fill="#3b6aa3"/>
<rect x="380.2" y="355.50" width="22.9" height="1.50" fill="#5a86b8"/>
<rect x="380.2" y="357.00" width="22.9" height="1.50" fill="#c4d4e6"/>
<rect x="380.2" y="358.50" width="22.9" height="1.50" fill="#2a5a95"/>
<rect x="380.2" y="360.00" width="22.9" height="1.00" fill="#c4d4e6"/>
<rect x="380.2" y="361.00" width="22.9" height="0.90" fill="#89aacf"/>
<rect x="380.2" y="361.90" width="22.9" height="1.50" fill="#89aacf"/>
<rect x="380.2" y="363.40" width="22.9" height="0.90" fill="#7097c4"/>
<rect x="380.2" y="364.30" width="22.9" height="1.00" fill="#3b6aa3"/>
<rect x="380.2" y="365.30" width="22.9" height="1.20" fill="#d3dde9"/>
<rect x="380.2" y="366.50" width="22.9" height="0.90" fill="#3b6aa3"/>
<rect x="380.2" y="367.40" width="22.9" height="1.00" fill="#3b6aa3"/>
<rect x="380.2" y="368.40" width="22.9" height="1.50" fill="#7097c4"/>
<rect x="380.2" y="369.90" width="22.9" height="0.90" fill="#4f7db2"/>
<rect x="380.2" y="370.80" width="22.9" height="1.20" fill="#285891"/>
<rect x="380.2" y="372.00" width="22.9" height="0.70" fill="#285891"/>
<rect x="380.2" y="372.70" width="22.9" height="0.70" fill="#5a86b8"/>
<rect x="380.2" y="373.40" width="22.9" height="0.60" fill="#285891"/>
<rect x="404.30" y="287.10" width="22.90" height="86.90" fill="#123f7a"/>
<rect x="404.3" y="287.10" width="22.9" height="1.20" fill="#3b6aa3"/>
<rect x="404.3" y="288.30" width="22.9" height="0.70" fill="#2a5a95"/>
<rect x="404.3" y="289.00" width="22.9" height="0.70" fill="#5a86b8"/>
<rect x="404.3" y="289.70" width="22.9" height="0.90" fill="#285891"/>
<rect x="404.3" y="290.60" width="22.9" height="1.20" fill="#3b6aa3"/>
<rect x="404.3" y="291.80" width="22.9" height="1.50" fill="#2a5a95"/>
<rect x="404.3" y="293.30" width="22.9" height="0.70" fill="#285891"/>
<rect x="404.3" y="294.00" width="22.9" height="1.20" fill="#2a5a95"/>
<rect x="404.3" y="295.20" width="22.9" height="1.50" fill="#285891"/>
<rect x="404.3" y="296.70" width="22.9" height="0.70" fill="#89aacf"/>
<rect x="404.3" y="297.40" width="22.9" height="1.50" fill="#285891"/>
<rect x="404.3" y="298.90" width="22.9" height="1.50" fill="#33639e"/>
<rect x="404.3" y="300.40" width="22.9" height="1.20" fill="#3b6aa3"/>
<rect x="404.3" y="301.60" width="22.9" height="0.70" fill="#5a86b8"/>
<rect x="404.3" y="302.30" width="22.9" height="1.20" fill="#285891"/>
<rect x="404.3" y="303.50" width="22.9" height="0.70" fill="#b9a9c2"/>
<rect x="404.3" y="305.20" width="22.9" height="0.70" fill="#2a5a95"/>
<rect x="404.3" y="305.90" width="22.9" height="1.00" fill="#21518c"/>
<rect x="404.3" y="306.90" width="22.9" height="0.90" fill="#113d77"/>
<rect x="404.3" y="307.80" width="22.9" height="1.20" fill="#2a5a95"/>
<rect x="404.3" y="309.00" width="22.9" height="0.90" fill="#7097c4"/>
<rect x="404.3" y="312.40" width="22.9" height="1.00" fill="#1c4c87"/>
<rect x="404.3" y="313.40" width="22.9" height="1.50" fill="#3b6aa3"/>
<rect x="404.3" y="314.90" width="22.9" height="1.20" fill="#113d77"/>
<rect x="404.3" y="316.10" width="22.9" height="0.70" fill="#b9a9c2"/>
<rect x="404.3" y="316.80" width="22.9" height="1.20" fill="#2a5a95"/>
<rect x="404.3" y="318.00" width="22.9" height="0.90" fill="#3b6aa3"/>
<rect x="404.3" y="318.90" width="22.9" height="0.90" fill="#285891"/>
<rect x="404.3" y="319.80" width="22.9" height="1.00" fill="#33639e"/>
<rect x="404.3" y="320.80" width="22.9" height="0.90" fill="#7097c4"/>
<rect x="404.3" y="321.70" width="22.9" height="1.50" fill="#21518c"/>
<rect x="404.3" y="323.20" width="22.9" height="1.50" fill="#d2706c"/>
<rect x="404.3" y="325.60" width="22.9" height="1.20" fill="#b9a9c2"/>
<rect x="404.3" y="328.00" width="22.9" height="0.90" fill="#285891"/>
<rect x="404.3" y="328.90" width="22.9" height="0.70" fill="#2a5a95"/>
<rect x="404.3" y="329.60" width="22.9" height="0.70" fill="#21518c"/>
<rect x="404.3" y="330.30" width="22.9" height="0.70" fill="#1c4c87"/>
<rect x="404.3" y="331.00" width="22.9" height="1.20" fill="#285891"/>
<rect x="404.3" y="332.20" width="22.9" height="0.70" fill="#1c4c87"/>
<rect x="404.3" y="332.90" width="22.9" height="0.90" fill="#21518c"/>
<rect x="404.3" y="333.80" width="22.9" height="0.90" fill="#b9a9c2"/>
<rect x="404.3" y="334.70" width="22.9" height="1.20" fill="#1c4c87"/>
<rect x="404.3" y="335.90" width="22.9" height="1.00" fill="#113d77"/>
<rect x="404.3" y="336.90" width="22.9" height="1.50" fill="#2a5a95"/>
<rect x="404.3" y="338.40" width="22.9" height="0.70" fill="#21518c"/>
<rect x="404.3" y="339.10" width="22.9" height="1.00" fill="#2a5a95"/>
<rect x="404.3" y="340.10" width="22.9" height="1.50" fill="#33639e"/>
<rect x="404.3" y="341.60" width="22.9" height="1.00" fill="#21518c"/>
<rect x="404.3" y="342.60" width="22.9" height="1.20" fill="#5a86b8"/>
<rect x="404.3" y="343.80" width="22.9" height="1.50" fill="#285891"/>
<rect x="404.3" y="345.30" width="22.9" height="1.00" fill="#1c4c87"/>
<rect x="404.3" y="347.00" width="22.9" height="1.20" fill="#1c4c87"/>
<rect x="404.3" y="348.20" width="22.9" height="0.90" fill="#d8a0a6"/>
<rect x="404.3" y="350.00" width="22.9" height="1.00" fill="#285891"/>
<rect x="404.3" y="351.00" width="22.9" height="0.90" fill="#3b6aa3"/>
<rect x="404.3" y="351.90" width="22.9" height="1.50" fill="#2a5a95"/>
<rect x="404.3" y="353.40" width="22.9" height="1.20" fill="#285891"/>
<rect x="404.3" y="354.60" width="22.9" height="1.00" fill="#33639e"/>
<rect x="404.3" y="355.60" width="22.9" height="1.20" fill="#33639e"/>
<rect x="404.3" y="356.80" width="22.9" height="0.90" fill="#5a86b8"/>
<rect x="404.3" y="357.70" width="22.9" height="1.50" fill="#285891"/>
<rect x="404.3" y="359.20" width="22.9" height="1.50" fill="#cc6266"/>
<rect x="404.3" y="360.70" width="22.9" height="1.50" fill="#e2b8b8"/>
<rect x="404.3" y="363.20" width="22.9" height="0.70" fill="#3b6aa3"/>
<rect x="404.3" y="363.90" width="22.9" height="0.70" fill="#33639e"/>
<rect x="404.3" y="364.60" width="22.9" height="0.90" fill="#285891"/>
<rect x="404.3" y="365.50" width="22.9" height="1.20" fill="#285891"/>
<rect x="404.3" y="366.70" width="22.9" height="0.70" fill="#1c4c87"/>
<rect x="404.3" y="368.30" width="22.9" height="1.20" fill="#dcc0c4"/>
<rect x="404.3" y="370.20" width="22.9" height="1.00" fill="#285891"/>
<rect x="404.3" y="372.40" width="22.9" height="1.20" fill="#2a5a95"/>
<rect x="404.3" y="373.60" width="22.9" height="0.40" fill="#33639e"/>
<rect x="428.40" y="287.10" width="23.00" height="86.90" fill="#123f7a"/>
<rect x="428.4" y="287.10" width="23.0" height="0.90" fill="#89aacf"/>
<rect x="428.4" y="288.00" width="23.0" height="0.90" fill="#2a5a95"/>
<rect x="428.4" y="288.90" width="23.0" height="1.00" fill="#33639e"/>
<rect x="428.4" y="289.90" width="23.0" height="0.70" fill="#e2b8b8"/>
<rect x="428.4" y="290.60" width="23.0" height="1.50" fill="#7097c4"/>
<rect x="428.4" y="292.10" width="23.0" height="1.50" fill="#d8a0a6"/>
<rect x="428.4" y="293.60" width="23.0" height="0.90" fill="#4f7db2"/>
<rect x="428.4" y="294.50" width="23.0" height="0.70" fill="#2a5a95"/>
<rect x="428.4" y="296.70" width="23.0" height="0.70" fill="#2a5a95"/>
<rect x="428.4" y="297.40" width="23.0" height="1.50" fill="#4f7db2"/>
<rect x="428.4" y="298.90" width="23.0" height="1.20" fill="#33639e"/>
<rect x="428.4" y="300.10" width="23.0" height="1.00" fill="#7097c4"/>
<rect x="428.4" y="302.30" width="23.0" height="0.70" fill="#3b6aa3"/>
<rect x="428.4" y="303.00" width="23.0" height="0.90" fill="#5a86b8"/>
<rect x="428.4" y="303.90" width="23.0" height="1.50" fill="#7097c4"/>
<rect x="428.4" y="305.40" width="23.0" height="0.90" fill="#7097c4"/>
<rect x="428.4" y="306.30" width="23.0" height="1.00" fill="#285891"/>
<rect x="428.4" y="307.30" width="23.0" height="0.90" fill="#4f7db2"/>
<rect x="428.4" y="308.20" width="23.0" height="1.20" fill="#3b6aa3"/>
<rect x="428.4" y="309.40" width="23.0" height="0.70" fill="#5a86b8"/>
<rect x="428.4" y="310.10" width="23.0" height="1.00" fill="#89aacf"/>
<rect x="428.4" y="311.10" width="23.0" height="1.00" fill="#2a5a95"/>
<rect x="428.4" y="312.10" width="23.0" height="0.70" fill="#4f7db2"/>
<rect x="428.4" y="312.80" width="23.0" height="0.90" fill="#2a5a95"/>
<rect x="428.4" y="313.70" width="23.0" height="0.90" fill="#285891"/>
<rect x="428.4" y="314.60" width="23.0" height="0.70" fill="#2a5a95"/>
<rect x="428.4" y="315.30" width="23.0" height="1.00" fill="#2a5a95"/>
<rect x="428.4" y="316.30" width="23.0" height="0.90" fill="#89aacf"/>
<rect x="428.4" y="317.20" width="23.0" height="0.90" fill="#285891"/>
<rect x="428.4" y="319.30" width="23.0" height="1.00" fill="#4f7db2"/>
<rect x="428.4" y="320.30" width="23.0" height="0.70" fill="#33639e"/>
<rect x="428.4" y="321.00" width="23.0" height="1.50" fill="#7097c4"/>
<rect x="428.4" y="322.50" width="23.0" height="1.50" fill="#285891"/>
<rect x="428.4" y="325.20" width="23.0" height="0.70" fill="#33639e"/>
<rect x="428.4" y="327.40" width="23.0" height="1.20" fill="#c8909c"/>
<rect x="428.4" y="328.60" width="23.0" height="1.20" fill="#3b6aa3"/>
<rect x="428.4" y="331.00" width="23.0" height="1.50" fill="#5a86b8"/>
<rect x="428.4" y="332.50" width="23.0" height="0.70" fill="#4f7db2"/>
<rect x="428.4" y="333.20" width="23.0" height="0.90" fill="#285891"/>
<rect x="428.4" y="334.10" width="23.0" height="1.20" fill="#33639e"/>
<rect x="428.4" y="335.30" width="23.0" height="1.50" fill="#33639e"/>
<rect x="428.4" y="336.80" width="23.0" height="1.00" fill="#5a86b8"/>
<rect x="428.4" y="337.80" width="23.0" height="1.20" fill="#89aacf"/>
<rect x="428.4" y="339.00" width="23.0" height="1.50" fill="#c4d4e6"/>
<rect x="428.4" y="341.70" width="23.0" height="0.90" fill="#33639e"/>
<rect x="428.4" y="342.60" width="23.0" height="0.90" fill="#89aacf"/>
<rect x="428.4" y="343.50" width="23.0" height="1.00" fill="#33639e"/>
<rect x="428.4" y="344.50" width="23.0" height="1.50" fill="#89aacf"/>
<rect x="428.4" y="346.00" width="23.0" height="1.50" fill="#285891"/>
<rect x="428.4" y="347.50" width="23.0" height="0.70" fill="#3b6aa3"/>
<rect x="428.4" y="348.20" width="23.0" height="1.00" fill="#2a5a95"/>
<rect x="428.4" y="350.20" width="23.0" height="0.70" fill="#3b6aa3"/>
<rect x="428.4" y="350.90" width="23.0" height="1.00" fill="#7097c4"/>
<rect x="428.4" y="351.90" width="23.0" height="0.90" fill="#7097c4"/>
<rect x="428.4" y="352.80" width="23.0" height="1.20" fill="#3b6aa3"/>
<rect x="428.4" y="354.00" width="23.0" height="0.90" fill="#33639e"/>
<rect x="428.4" y="354.90" width="23.0" height="1.20" fill="#7097c4"/>
<rect x="428.4" y="356.10" width="23.0" height="1.50" fill="#89aacf"/>
<rect x="428.4" y="357.60" width="23.0" height="1.20" fill="#33639e"/>
<rect x="428.4" y="358.80" width="23.0" height="0.70" fill="#3b6aa3"/>
<rect x="428.4" y="359.50" width="23.0" height="0.70" fill="#33639e"/>
<rect x="428.4" y="360.20" width="23.0" height="1.00" fill="#2a5a95"/>
<rect x="428.4" y="361.20" width="23.0" height="1.50" fill="#7097c4"/>
<rect x="428.4" y="362.70" width="23.0" height="1.00" fill="#285891"/>
<rect x="428.4" y="363.70" width="23.0" height="1.50" fill="#89aacf"/>
<rect x="428.4" y="365.20" width="23.0" height="1.20" fill="#285891"/>
<rect x="428.4" y="367.10" width="23.0" height="1.00" fill="#285891"/>
<rect x="428.4" y="368.10" width="23.0" height="1.20" fill="#5a86b8"/>
<rect x="428.4" y="369.30" width="23.0" height="0.70" fill="#2a5a95"/>
<rect x="428.4" y="370.00" width="23.0" height="0.70" fill="#2a5a95"/>
<rect x="428.4" y="370.70" width="23.0" height="1.00" fill="#4f7db2"/>
<rect x="428.4" y="371.70" width="23.0" height="1.50" fill="#d3dde9"/>
<rect x="428.4" y="373.20" width="23.0" height="0.80" fill="#3b6aa3"/>
<rect x="452.60" y="287.10" width="23.00" height="86.90" fill="#123f7a"/>
<rect x="452.6" y="289.60" width="23.0" height="1.20" fill="#113d77"/>
<rect x="452.6" y="292.30" width="23.0" height="1.20" fill="#21518c"/>
<rect x="452.6" y="294.70" width="23.0" height="1.20" fill="#3b6aa3"/>
<rect x="452.6" y="295.90" width="23.0" height="0.90" fill="#21518c"/>
<rect x="452.6" y="296.80" width="23.0" height="0.90" fill="#21518c"/>
<rect x="452.6" y="298.60" width="23.0" height="1.50" fill="#4f7db2"/>
<rect x="452.6" y="300.10" width="23.0" height="1.20" fill="#113d77"/>
<rect x="452.6" y="309.10" width="23.0" height="0.70" fill="#1c4c87"/>
<rect x="452.6" y="310.50" width="23.0" height="0.90" fill="#113d77"/>
<rect x="452.6" y="312.30" width="23.0" height="0.90" fill="#1c4c87"/>
<rect x="452.6" y="313.20" width="23.0" height="1.50" fill="#21518c"/>
<rect x="452.6" y="314.70" width="23.0" height="0.70" fill="#113d77"/>
<rect x="452.6" y="318.50" width="23.0" height="1.50" fill="#285891"/>
<rect x="452.6" y="320.00" width="23.0" height="0.90" fill="#285891"/>
<rect x="452.6" y="320.90" width="23.0" height="1.00" fill="#113d77"/>
<rect x="452.6" y="327.60" width="23.0" height="0.90" fill="#1c4c87"/>
<rect x="452.6" y="333.00" width="23.0" height="1.50" fill="#113d77"/>
<rect x="452.6" y="335.50" width="23.0" height="1.00" fill="#2a5a95"/>
<rect x="452.6" y="343.40" width="23.0" height="1.50" fill="#89aacf"/>
<rect x="452.6" y="344.90" width="23.0" height="1.20" fill="#2a5a95"/>
<rect x="452.6" y="347.00" width="23.0" height="1.20" fill="#21518c"/>
<rect x="452.6" y="348.20" width="23.0" height="1.50" fill="#1c4c87"/>
<rect x="452.6" y="351.30" width="23.0" height="1.50" fill="#21518c"/>
<rect x="452.6" y="361.00" width="23.0" height="0.70" fill="#2a5a95"/>
<rect x="452.6" y="364.70" width="23.0" height="1.00" fill="#7097c4"/>
<rect x="452.6" y="365.70" width="23.0" height="1.50" fill="#21518c"/>
<rect x="452.6" y="369.40" width="23.0" height="0.90" fill="#1c4c87"/>
<rect x="452.6" y="371.80" width="23.0" height="1.50" fill="#89aacf"/>
<rect x="476.80" y="287.10" width="22.80" height="86.90" fill="#123f7a"/>
<rect x="476.8" y="287.10" width="22.8" height="0.70" fill="#2a5a95"/>
<rect x="476.8" y="287.80" width="22.8" height="0.90" fill="#7097c4"/>
<rect x="476.8" y="288.70" width="22.8" height="1.00" fill="#285891"/>
<rect x="476.8" y="289.70" width="22.8" height="0.90" fill="#285891"/>
<rect x="476.8" y="290.60" width="22.8" height="0.90" fill="#5a86b8"/>
<rect x="476.8" y="291.50" width="22.8" height="0.70" fill="#285891"/>
<rect x="476.8" y="292.20" width="22.8" height="0.90" fill="#5a86b8"/>
<rect x="476.8" y="293.10" width="22.8" height="0.90" fill="#285891"/>
<rect x="476.8" y="294.00" width="22.8" height="1.00" fill="#33639e"/>
<rect x="476.8" y="295.00" width="22.8" height="1.00" fill="#89aacf"/>
<rect x="476.8" y="296.00" width="22.8" height="1.00" fill="#2a5a95"/>
<rect x="476.8" y="297.00" width="22.8" height="1.00" fill="#c4d4e6"/>
<rect x="476.8" y="298.00" width="22.8" height="0.70" fill="#7097c4"/>
<rect x="476.8" y="298.70" width="22.8" height="0.90" fill="#4f7db2"/>
<rect x="476.8" y="299.60" width="22.8" height="1.20" fill="#89aacf"/>
<rect x="476.8" y="300.80" width="22.8" height="0.90" fill="#33639e"/>
<rect x="476.8" y="301.70" width="22.8" height="1.50" fill="#4f7db2"/>
<rect x="476.8" y="303.20" width="22.8" height="0.90" fill="#33639e"/>
<rect x="476.8" y="304.10" width="22.8" height="1.20" fill="#89aacf"/>
<rect x="476.8" y="306.20" width="22.8" height="1.00" fill="#d3dde9"/>
<rect x="476.8" y="307.20" width="22.8" height="0.90" fill="#5a86b8"/>
<rect x="476.8" y="308.10" width="22.8" height="0.70" fill="#89aacf"/>
<rect x="476.8" y="308.80" width="22.8" height="1.50" fill="#33639e"/>
<rect x="476.8" y="310.30" width="22.8" height="1.50" fill="#7097c4"/>
<rect x="476.8" y="313.30" width="22.8" height="1.20" fill="#4f7db2"/>
<rect x="476.8" y="314.50" width="22.8" height="1.20" fill="#33639e"/>
<rect x="476.8" y="315.70" width="22.8" height="1.50" fill="#3b6aa3"/>
<rect x="476.8" y="317.20" width="22.8" height="0.70" fill="#3b6aa3"/>
<rect x="476.8" y="317.90" width="22.8" height="1.50" fill="#7097c4"/>
<rect x="476.8" y="319.40" width="22.8" height="0.90" fill="#5a86b8"/>
<rect x="476.8" y="320.30" width="22.8" height="0.70" fill="#4f7db2"/>
<rect x="476.8" y="321.00" width="22.8" height="1.20" fill="#4f7db2"/>
<rect x="476.8" y="322.20" width="22.8" height="1.20" fill="#33639e"/>
<rect x="476.8" y="323.40" width="22.8" height="1.50" fill="#285891"/>
<rect x="476.8" y="324.90" width="22.8" height="0.70" fill="#7097c4"/>
<rect x="476.8" y="325.60" width="22.8" height="0.70" fill="#3b6aa3"/>
<rect x="476.8" y="326.30" width="22.8" height="0.90" fill="#89aacf"/>
<rect x="476.8" y="327.20" width="22.8" height="1.50" fill="#2a5a95"/>
<rect x="476.8" y="328.70" width="22.8" height="1.50" fill="#c4d4e6"/>
<rect x="476.8" y="331.40" width="22.8" height="1.20" fill="#2a5a95"/>
<rect x="476.8" y="332.60" width="22.8" height="0.70" fill="#2a5a95"/>
<rect x="476.8" y="333.30" width="22.8" height="1.50" fill="#2a5a95"/>
<rect x="476.8" y="334.80" width="22.8" height="1.00" fill="#b3c8df"/>
<rect x="476.8" y="335.80" width="22.8" height="0.90" fill="#7097c4"/>
<rect x="476.8" y="336.70" width="22.8" height="0.70" fill="#33639e"/>
<rect x="476.8" y="337.40" width="22.8" height="1.50" fill="#5a86b8"/>
<rect x="476.8" y="338.90" width="22.8" height="1.50" fill="#2a5a95"/>
<rect x="476.8" y="340.40" width="22.8" height="0.90" fill="#7097c4"/>
<rect x="476.8" y="341.30" width="22.8" height="1.50" fill="#5a86b8"/>
<rect x="476.8" y="342.80" width="22.8" height="1.00" fill="#2a5a95"/>
<rect x="476.8" y="343.80" width="22.8" height="1.00" fill="#2a5a95"/>
<rect x="476.8" y="344.80" width="22.8" height="1.50" fill="#3b6aa3"/>
<rect x="476.8" y="346.30" width="22.8" height="1.20" fill="#285891"/>
<rect x="476.8" y="347.50" width="22.8" height="1.20" fill="#7097c4"/>
<rect x="476.8" y="348.70" width="22.8" height="0.90" fill="#89aacf"/>
<rect x="476.8" y="349.60" width="22.8" height="0.70" fill="#89aacf"/>
<rect x="476.8" y="350.30" width="22.8" height="1.50" fill="#3b6aa3"/>
<rect x="476.8" y="351.80" width="22.8" height="0.70" fill="#89aacf"/>
<rect x="476.8" y="352.50" width="22.8" height="1.50" fill="#c4d4e6"/>
<rect x="476.8" y="354.00" width="22.8" height="1.00" fill="#89aacf"/>
<rect x="476.8" y="355.00" width="22.8" height="0.90" fill="#3b6aa3"/>
<rect x="476.8" y="356.80" width="22.8" height="1.50" fill="#2a5a95"/>
<rect x="476.8" y="358.30" width="22.8" height="1.00" fill="#89aacf"/>
<rect x="476.8" y="359.30" width="22.8" height="1.20" fill="#285891"/>
<rect x="476.8" y="360.50" width="22.8" height="0.90" fill="#89aacf"/>
<rect x="476.8" y="361.40" width="22.8" height="0.90" fill="#3b6aa3"/>
<rect x="476.8" y="362.30" width="22.8" height="0.70" fill="#33639e"/>
<rect x="476.8" y="363.00" width="22.8" height="1.20" fill="#285891"/>
<rect x="476.8" y="365.20" width="22.8" height="1.00" fill="#285891"/>
<rect x="476.8" y="366.20" width="22.8" height="1.00" fill="#2a5a95"/>
<rect x="476.8" y="367.20" width="22.8" height="0.70" fill="#7097c4"/>
<rect x="476.8" y="367.90" width="22.8" height="1.00" fill="#4f7db2"/>
<rect x="476.8" y="368.90" width="22.8" height="1.20" fill="#285891"/>
<rect x="476.8" y="371.00" width="22.8" height="1.00" fill="#4f7db2"/>
<rect x="476.8" y="372.00" width="22.8" height="1.20" fill="#89aacf"/>
<rect x="476.8" y="373.20" width="22.8" height="0.80" fill="#5a86b8"/>
<rect x="500.80" y="287.10" width="23.00" height="86.90" fill="#123f7a"/>
<rect x="500.8" y="295.40" width="23.0" height="0.70" fill="#1c4c87"/>
<rect x="500.8" y="296.10" width="23.0" height="1.00" fill="#113d77"/>
<rect x="500.8" y="298.30" width="23.0" height="1.20" fill="#1c4c87"/>
<rect x="500.8" y="300.70" width="23.0" height="0.70" fill="#113d77"/>
<rect x="500.8" y="305.50" width="23.0" height="0.90" fill="#21518c"/>
<rect x="500.8" y="306.40" width="23.0" height="1.00" fill="#21518c"/>
<rect x="500.8" y="307.40" width="23.0" height="0.70" fill="#113d77"/>
<rect x="500.8" y="308.80" width="23.0" height="0.70" fill="#285891"/>
<rect x="500.8" y="313.70" width="23.0" height="0.70" fill="#113d77"/>
<rect x="500.8" y="314.40" width="23.0" height="0.90" fill="#33639e"/>
<rect x="500.8" y="316.00" width="23.0" height="0.90" fill="#5a86b8"/>
<rect x="500.8" y="316.90" width="23.0" height="1.50" fill="#113d77"/>
<rect x="500.8" y="318.40" width="23.0" height="1.00" fill="#1c4c87"/>
<rect x="500.8" y="321.90" width="23.0" height="0.90" fill="#1c4c87"/>
<rect x="500.8" y="325.80" width="23.0" height="0.90" fill="#21518c"/>
<rect x="500.8" y="326.70" width="23.0" height="1.20" fill="#21518c"/>
<rect x="500.8" y="332.10" width="23.0" height="1.50" fill="#2a5a95"/>
<rect x="500.8" y="333.60" width="23.0" height="0.70" fill="#1c4c87"/>
<rect x="500.8" y="335.30" width="23.0" height="0.90" fill="#3b6aa3"/>
<rect x="500.8" y="336.20" width="23.0" height="1.00" fill="#1c4c87"/>
<rect x="500.8" y="338.10" width="23.0" height="1.20" fill="#21518c"/>
<rect x="500.8" y="343.80" width="23.0" height="1.00" fill="#3b6aa3"/>
<rect x="500.8" y="351.00" width="23.0" height="0.70" fill="#113d77"/>
<rect x="500.8" y="351.70" width="23.0" height="1.50" fill="#21518c"/>
<rect x="500.8" y="355.80" width="23.0" height="0.90" fill="#21518c"/>
<rect x="500.8" y="356.70" width="23.0" height="1.20" fill="#1c4c87"/>
<rect x="500.8" y="359.80" width="23.0" height="0.70" fill="#3b6aa3"/>
<rect x="500.8" y="360.50" width="23.0" height="1.50" fill="#21518c"/>
<rect x="500.8" y="370.80" width="23.0" height="1.20" fill="#21518c"/>
<rect x="500.8" y="373.50" width="23.0" height="0.50" fill="#1c4c87"/>
<rect x="525.00" y="287.10" width="23.00" height="86.90" fill="#123f7a"/>
<rect x="525.0" y="288.30" width="23.0" height="1.50" fill="#1c4c87"/>
<rect x="525.0" y="289.80" width="23.0" height="1.00" fill="#3b6aa3"/>
<rect x="525.0" y="291.50" width="23.0" height="1.50" fill="#2a5a95"/>
<rect x="525.0" y="293.00" width="23.0" height="0.70" fill="#1c4c87"/>
<rect x="525.0" y="300.20" width="23.0" height="0.70" fill="#113d77"/>
<rect x="525.0" y="308.60" width="23.0" height="0.90" fill="#4f7db2"/>
<rect x="525.0" y="313.60" width="23.0" height="1.20" fill="#1c4c87"/>
<rect x="525.0" y="316.00" width="23.0" height="0.70" fill="#21518c"/>
<rect x="525.0" y="317.90" width="23.0" height="1.00" fill="#21518c"/>
<rect x="525.0" y="320.10" width="23.0" height="1.50" fill="#113d77"/>
<rect x="525.0" y="326.40" width="23.0" height="1.50" fill="#1c4c87"/>
<rect x="525.0" y="340.70" width="23.0" height="1.20" fill="#113d77"/>
<rect x="525.0" y="341.90" width="23.0" height="1.00" fill="#285891"/>
<rect x="525.0" y="342.90" width="23.0" height="1.00" fill="#2a5a95"/>
<rect x="525.0" y="347.80" width="23.0" height="0.70" fill="#1c4c87"/>
<rect x="525.0" y="357.90" width="23.0" height="1.50" fill="#1c4c87"/>
<rect x="525.0" y="362.10" width="23.0" height="1.20" fill="#113d77"/>
<rect x="525.0" y="367.60" width="23.0" height="1.50" fill="#1c4c87"/>
<rect x="525.0" y="369.10" width="23.0" height="1.20" fill="#21518c"/>
<rect x="525.0" y="370.30" width="23.0" height="1.20" fill="#21518c"/>
<rect x="525.0" y="372.40" width="23.0" height="1.00" fill="#113d77"/>
<rect x="525.0" y="373.40" width="23.0" height="0.60" fill="#33639e"/>
<rect x="331.20" y="377.00" width="23.80" height="20.70" fill="#123f7a"/>
<rect x="331.2" y="377.00" width="23.8" height="1.00" fill="#e2b8b8"/>
<rect x="331.2" y="378.00" width="23.8" height="1.50" fill="#e2b8b8"/>
<rect x="331.2" y="379.50" width="23.8" height="1.50" fill="#a5364a"/>
<rect x="331.2" y="381.00" width="23.8" height="1.00" fill="#4f7db2"/>
<rect x="331.2" y="382.00" width="23.8" height="0.70" fill="#a5364a"/>
<rect x="331.2" y="382.70" width="23.8" height="1.20" fill="#e2b8b8"/>
<rect x="331.2" y="383.90" width="23.8" height="0.90" fill="#c0505a"/>
<rect x="331.2" y="384.80" width="23.8" height="0.90" fill="#33639e"/>
<rect x="331.2" y="385.70" width="23.8" height="1.50" fill="#a5364a"/>
<rect x="331.2" y="387.20" width="23.8" height="0.90" fill="#d3dde9"/>
<rect x="331.2" y="388.10" width="23.8" height="0.90" fill="#cc6266"/>
<rect x="331.2" y="389.00" width="23.8" height="1.20" fill="#d2706c"/>
<rect x="331.2" y="390.20" width="23.8" height="0.90" fill="#d3dde9"/>
<rect x="331.2" y="391.10" width="23.8" height="0.70" fill="#d2706c"/>
<rect x="331.2" y="391.80" width="23.8" height="1.00" fill="#c8909c"/>
<rect x="331.2" y="392.80" width="23.8" height="0.70" fill="#d2706c"/>
<rect x="331.2" y="393.50" width="23.8" height="0.90" fill="#b9a9c2"/>
<rect x="331.2" y="394.40" width="23.8" height="0.70" fill="#dcc0c4"/>
<rect x="331.2" y="395.10" width="23.8" height="1.00" fill="#dcc0c4"/>
<rect x="331.2" y="396.10" width="23.8" height="1.00" fill="#d2706c"/>
<rect x="331.2" y="397.10" width="23.8" height="0.60" fill="#e2b8b8"/>
<rect x="356.10" y="377.00" width="22.90" height="20.70" fill="#123f7a"/>
<rect x="356.1" y="377.00" width="22.9" height="1.50" fill="#21518c"/>
<rect x="356.1" y="379.40" width="22.9" height="0.70" fill="#285891"/>
<rect x="356.1" y="382.20" width="22.9" height="1.50" fill="#113d77"/>
<rect x="356.1" y="388.50" width="22.9" height="1.00" fill="#3b6aa3"/>
<rect x="356.1" y="389.50" width="22.9" height="0.70" fill="#3b6aa3"/>
<rect x="356.1" y="390.20" width="22.9" height="1.50" fill="#2a5a95"/>
<rect x="356.1" y="392.70" width="22.9" height="1.00" fill="#21518c"/>
<rect x="356.1" y="397.60" width="22.9" height="0.10" fill="#21518c"/>
<rect x="380.20" y="377.00" width="22.90" height="20.70" fill="#123f7a"/>
<rect x="380.2" y="377.00" width="22.9" height="1.20" fill="#89aacf"/>
<rect x="380.2" y="378.20" width="22.9" height="1.50" fill="#3b6aa3"/>
<rect x="380.2" y="380.60" width="22.9" height="1.50" fill="#113d77"/>
<rect x="380.2" y="382.10" width="22.9" height="1.50" fill="#33639e"/>
<rect x="380.2" y="384.80" width="22.9" height="1.00" fill="#2a5a95"/>
<rect x="380.2" y="385.80" width="22.9" height="1.20" fill="#21518c"/>
<rect x="380.2" y="387.90" width="22.9" height="1.50" fill="#1c4c87"/>
<rect x="380.2" y="389.40" width="22.9" height="0.70" fill="#113d77"/>
<rect x="380.2" y="390.10" width="22.9" height="1.50" fill="#1c4c87"/>
<rect x="380.2" y="392.80" width="22.9" height="1.20" fill="#3b6aa3"/>
<rect x="380.2" y="394.00" width="22.9" height="1.20" fill="#7097c4"/>
<rect x="380.2" y="395.20" width="22.9" height="1.50" fill="#21518c"/>
<rect x="380.2" y="396.70" width="22.9" height="1.00" fill="#285891"/>
<rect x="404.30" y="377.00" width="22.90" height="20.70" fill="#123f7a"/>
<rect x="404.3" y="377.00" width="22.9" height="0.90" fill="#7097c4"/>
<rect x="404.3" y="380.80" width="22.9" height="0.90" fill="#3b6aa3"/>
<rect x="404.3" y="381.70" width="22.9" height="0.90" fill="#33639e"/>
<rect x="404.3" y="382.60" width="22.9" height="1.50" fill="#1c4c87"/>
<rect x="404.3" y="384.10" width="22.9" height="1.00" fill="#21518c"/>
<rect x="404.3" y="387.50" width="22.9" height="1.20" fill="#1c4c87"/>
<rect x="404.3" y="388.70" width="22.9" height="0.90" fill="#89aacf"/>
<rect x="404.3" y="389.60" width="22.9" height="0.70" fill="#113d77"/>
<rect x="404.3" y="395.30" width="22.9" height="0.90" fill="#3b6aa3"/>
<rect x="428.40" y="377.00" width="23.00" height="20.70" fill="#123f7a"/>
<rect x="428.4" y="377.00" width="23.0" height="0.70" fill="#1c4c87"/>
<rect x="428.4" y="377.70" width="23.0" height="1.50" fill="#113d77"/>
<rect x="428.4" y="381.40" width="23.0" height="0.90" fill="#2a5a95"/>
<rect x="428.4" y="382.30" width="23.0" height="1.00" fill="#33639e"/>
<rect x="428.4" y="383.30" width="23.0" height="0.90" fill="#113d77"/>
<rect x="428.4" y="384.20" width="23.0" height="0.70" fill="#1c4c87"/>
<rect x="428.4" y="384.90" width="23.0" height="0.90" fill="#285891"/>
<rect x="428.4" y="385.80" width="23.0" height="1.50" fill="#3b6aa3"/>
<rect x="428.4" y="387.30" width="23.0" height="1.00" fill="#33639e"/>
<rect x="428.4" y="389.80" width="23.0" height="1.00" fill="#5a86b8"/>
<rect x="428.4" y="392.30" width="23.0" height="1.20" fill="#4f7db2"/>
<rect x="428.4" y="393.50" width="23.0" height="0.90" fill="#33639e"/>
<rect x="428.4" y="395.10" width="23.0" height="0.90" fill="#113d77"/>
<rect x="428.4" y="396.00" width="23.0" height="1.20" fill="#2a5a95"/>
<rect x="428.4" y="397.20" width="23.0" height="0.50" fill="#89aacf"/>
<rect x="452.60" y="377.00" width="23.00" height="20.70" fill="#123f7a"/>
<rect x="452.6" y="377.00" width="23.0" height="1.20" fill="#d8a0a6"/>
<rect x="452.6" y="379.40" width="23.0" height="1.00" fill="#2a5a95"/>
<rect x="452.6" y="380.40" width="23.0" height="1.00" fill="#1c4c87"/>
<rect x="452.6" y="381.40" width="23.0" height="1.50" fill="#21518c"/>
<rect x="452.6" y="382.90" width="23.0" height="1.50" fill="#dcc0c4"/>
<rect x="452.6" y="384.40" width="23.0" height="0.70" fill="#113d77"/>
<rect x="452.6" y="388.50" width="23.0" height="1.20" fill="#3b6aa3"/>
<rect x="452.6" y="389.70" width="23.0" height="1.00" fill="#33639e"/>
<rect x="452.6" y="390.70" width="23.0" height="1.00" fill="#33639e"/>
<rect x="452.6" y="391.70" width="23.0" height="1.00" fill="#b9a9c2"/>
<rect x="452.6" y="392.70" width="23.0" height="0.90" fill="#3b6aa3"/>
<rect x="452.6" y="394.60" width="23.0" height="1.50" fill="#b9a9c2"/>
<rect x="452.6" y="396.10" width="23.0" height="1.50" fill="#c0505a"/>
<rect x="452.6" y="397.60" width="23.0" height="0.10" fill="#3b6aa3"/>
<rect x="476.80" y="377.00" width="22.80" height="20.70" fill="#123f7a"/>
<rect x="476.8" y="377.00" width="22.8" height="0.70" fill="#89aacf"/>
<rect x="476.8" y="379.20" width="22.8" height="1.00" fill="#3b6aa3"/>
<rect x="476.8" y="382.60" width="22.8" height="0.70" fill="#2a5a95"/>
<rect x="476.8" y="383.30" width="22.8" height="1.20" fill="#21518c"/>
<rect x="476.8" y="384.50" width="22.8" height="0.70" fill="#33639e"/>
<rect x="476.8" y="385.20" width="22.8" height="0.70" fill="#7097c4"/>
<rect x="476.8" y="387.40" width="22.8" height="1.00" fill="#2a5a95"/>
<rect x="476.8" y="388.40" width="22.8" height="0.90" fill="#2a5a95"/>
<rect x="476.8" y="392.30" width="22.8" height="1.50" fill="#2a5a95"/>
<rect x="476.8" y="393.80" width="22.8" height="1.00" fill="#285891"/>
<rect x="476.8" y="394.80" width="22.8" height="1.00" fill="#2a5a95"/>
<rect x="476.8" y="395.80" width="22.8" height="0.90" fill="#2a5a95"/>
<rect x="476.8" y="396.70" width="22.8" height="1.00" fill="#113d77"/>
<rect x="500.80" y="377.00" width="23.00" height="20.70" fill="#123f7a"/>
<rect x="500.8" y="381.20" width="23.0" height="1.20" fill="#3b6aa3"/>
<rect x="500.8" y="383.30" width="23.0" height="0.90" fill="#1c4c87"/>
<rect x="500.8" y="388.40" width="23.0" height="1.00" fill="#21518c"/>
<rect x="500.8" y="389.40" width="23.0" height="1.50" fill="#89aacf"/>
<rect x="500.8" y="390.90" width="23.0" height="0.90" fill="#113d77"/>
<rect x="500.8" y="395.70" width="23.0" height="1.50" fill="#21518c"/>
<rect x="525.00" y="377.00" width="23.00" height="20.70" fill="#123f7a"/>
<rect x="525.0" y="377.00" width="23.0" height="1.20" fill="#21518c"/>
<rect x="525.0" y="378.20" width="23.0" height="0.90" fill="#113d77"/>
<rect x="525.0" y="379.10" width="23.0" height="1.50" fill="#113d77"/>
<rect x="525.0" y="380.60" width="23.0" height="1.00" fill="#1c4c87"/>
<rect x="525.0" y="381.60" width="23.0" height="1.20" fill="#2a5a95"/>
<rect x="525.0" y="385.50" width="23.0" height="0.90" fill="#285891"/>
<rect x="525.0" y="387.60" width="23.0" height="1.50" fill="#113d77"/>
<rect x="525.0" y="389.10" width="23.0" height="0.90" fill="#1c4c87"/>
<rect x="525.0" y="390.00" width="23.0" height="0.70" fill="#21518c"/>
<rect x="525.0" y="397.10" width="23.0" height="0.60" fill="#2a5a95"/>
<rect x="550.3" y="45.7" width="117.3" height="351.3" fill="none" stroke="#231f20" stroke-width="1.1"/>
<line x1="551.00" y1="55.20" x2="667.00" y2="55.20" stroke="#333" stroke-width="0.9" stroke-dasharray="3 2"/>
<line x1="551.00" y1="65.40" x2="667.00" y2="65.40" stroke="#333" stroke-width="0.9" stroke-dasharray="3 2"/>
<line x1="551.00" y1="106.00" x2="667.00" y2="106.00" stroke="#333" stroke-width="0.9" stroke-dasharray="3 2"/>
<line x1="551.00" y1="146.30" x2="667.00" y2="146.30" stroke="#333" stroke-width="0.9" stroke-dasharray="3 2"/>
<line x1="551.00" y1="188.60" x2="667.00" y2="188.60" stroke="#333" stroke-width="0.9" stroke-dasharray="3 2"/>
<line x1="551.00" y1="244.10" x2="667.00" y2="244.10" stroke="#333" stroke-width="0.9" stroke-dasharray="3 2"/>
<line x1="551.00" y1="285.20" x2="667.00" y2="285.20" stroke="#333" stroke-width="0.9" stroke-dasharray="3 2"/>
<line x1="551.00" y1="376.20" x2="667.00" y2="376.20" stroke="#333" stroke-width="0.9" stroke-dasharray="3 2"/>
<text x="552.0" y="78.5" font-size="7.95">synaptic signaling;</text>
<text x="552.0" y="88.0" font-size="7.95">Neuroactive ligand-receptor</text>
<text x="552.0" y="97.5" font-size="7.95">interaction</text>
<text x="552.0" y="117.7" font-size="7.95">muscle structure development;</text>
<text x="552.0" y="127.2" font-size="7.95">muscle system process;</text>
<text x="552.0" y="136.7" font-size="7.95">muscle cell differentiation;</text>
<text x="552.0" y="155.4" font-size="7.95">inflammatory response;</text>
<text x="552.0" y="164.9" font-size="7.95">lung development;</text>
<text x="552.0" y="174.4" font-size="7.95">respiratory gaseous exchange</text>
<text x="552.0" y="183.9" font-size="7.95">by respiratory system</text>
<text x="552.0" y="203.7" font-size="7.95">lipid biosynthetic process;</text>
<text x="552.0" y="213.2" font-size="7.95">lipid localization;</text>
<text x="552.0" y="222.7" font-size="7.95">response to xenobiotic stimulus;</text>
<text x="552.0" y="232.2" font-size="7.95">liver development</text>
<text x="551.4" y="255.1" font-size="7.95">inorganic ion transmembrane</text>
<text x="551.4" y="264.6" font-size="7.95">transport;</text>
<text x="551.4" y="274.1" font-size="7.95">embryonic organ morphogenesis</text>
<text x="552.0" y="316.1" font-size="7.95">renal system development;</text>
<text x="552.0" y="325.6" font-size="7.95">inorganic ion transmembrane</text>
<text x="552.0" y="335.1" font-size="7.95">transport;</text>
<text x="552.0" y="344.6" font-size="7.95">renal system process</text>
<text x="553.0" y="385.3" font-size="7.95">heart contraction;</text>
<text x="553.0" y="394.8" font-size="7.95">cardiac conduction</text>
<text x="0" y="0" font-size="9.4" text-anchor="end" transform="translate(344.0,402.2) rotate(-45)">Heart</text>
<text x="0" y="0" font-size="9.4" text-anchor="end" transform="translate(368.5,402.2) rotate(-45)">Kidney</text>
<text x="0" y="0" font-size="9.4" text-anchor="end" transform="translate(393.1,402.2) rotate(-45)">Large intestine</text>
<text x="0" y="0" font-size="9.4" text-anchor="end" transform="translate(417.6,402.2) rotate(-45)">Liver</text>
<text x="0" y="0" font-size="9.4" text-anchor="end" transform="translate(442.1,402.2) rotate(-45)">Lung</text>
<text x="0" y="0" font-size="9.4" text-anchor="end" transform="translate(466.6,402.2) rotate(-45)">Muscle</text>
<text x="0" y="0" font-size="9.4" text-anchor="end" transform="translate(491.2,402.2) rotate(-45)">Small intestine</text>
<text x="0" y="0" font-size="9.4" text-anchor="end" transform="translate(515.7,402.2) rotate(-45)">Subcutaneous adipose</text>
<text x="0" y="0" font-size="9.4" text-anchor="end" transform="translate(540.2,402.2) rotate(-45)">Visceral adipose</text>
<text x="-0.2" y="479.5" font-size="15">d</text>
<line x1="25.40" y1="482.00" x2="25.40" y2="681.70" stroke="#6d6e71" stroke-width="1"/>
<text x="0" y="0" font-size="9.3" text-anchor="middle" transform="translate(16.9,583.2) rotate(-90)">RNA-seq signal</text>
<line x1="147.0" y1="502.9" x2="190.0" y2="502.9" stroke="#E4483A" stroke-width="0.7" stroke-dasharray="3.5 1.2" opacity="0.23"/>
<line x1="222.0" y1="502.9" x2="236.0" y2="502.9" stroke="#E4483A" stroke-width="0.7" stroke-dasharray="3.5 1.2" opacity="0.33"/>
<line x1="250.0" y1="502.9" x2="262.0" y2="502.9" stroke="#E4483A" stroke-width="0.7" stroke-dasharray="3.5 1.2" opacity="0.23"/>
<line x1="270.0" y1="502.9" x2="320.0" y2="502.9" stroke="#E4483A" stroke-width="0.7" stroke-dasharray="3.5 1.2" opacity="0.23"/>
<rect x="201" y="501.1" width="1" height="2.2" fill="#E4483A" opacity="0.7"/>
<rect x="252" y="501.5" width="1" height="1.8" fill="#E4483A"/>
<path d="M142.6,484.9H144.4V503.3H142.6" fill="none" stroke="#231F20" stroke-width="0.9"/>
<text x="141.8" y="488.1" font-size="7.6" text-anchor="end">1000</text>
<text x="141.8" y="503.9" font-size="7.6" text-anchor="end">0</text>
<text x="123.2" y="497.3" font-size="9.4" text-anchor="end">Heart</text>
<text x="272.5" y="490.5" font-size="8">TPM=0</text>
<line x1="176.0" y1="525.2" x2="189.0" y2="525.2" stroke="#58BADB" stroke-width="0.7" stroke-dasharray="3.5 1.2" opacity="0.59"/>
<line x1="222.0" y1="525.2" x2="236.0" y2="525.2" stroke="#58BADB" stroke-width="0.7" stroke-dasharray="3.5 1.2" opacity="0.33"/>
<line x1="250.0" y1="525.2" x2="262.0" y2="525.2" stroke="#58BADB" stroke-width="0.7" stroke-dasharray="3.5 1.2" opacity="0.23"/>
<line x1="270.0" y1="525.2" x2="320.0" y2="525.2" stroke="#58BADB" stroke-width="0.7" stroke-dasharray="3.5 1.2" opacity="0.23"/>
<rect x="192" y="507.2" width="3" height="18.4" fill="#2F9AC4"/>
<rect x="201" y="515.5" width="1" height="10.1" fill="#58BADB" opacity="0.7"/>
<rect x="222" y="525.0" width="1" height="0.6" fill="#58BADB" opacity="0.7"/>
<rect x="223" y="524.9" width="1" height="0.7" fill="#58BADB"/>
<rect x="224" y="524.7" width="1" height="0.9" fill="#58BADB"/>
<rect x="225" y="525.0" width="1" height="0.6" fill="#58BADB" opacity="0.7"/>
<rect x="226" y="525.0" width="1" height="0.6" fill="#58BADB"/>
<path d="M142.6,507.2H144.4V525.6H142.6" fill="none" stroke="#231F20" stroke-width="0.9"/>
<text x="141.8" y="510.4" font-size="7.6" text-anchor="end">1000</text>
<text x="141.8" y="526.2" font-size="7.6" text-anchor="end">0</text>
<text x="123.2" y="519.6" font-size="9.4" text-anchor="end">Kidney</text>
<text x="272.5" y="512.8" font-size="8">TPM=11,939</text>
<line x1="143.0" y1="547.5" x2="191.0" y2="547.5" stroke="#1C9E8C" stroke-width="0.7" stroke-dasharray="3.5 1.2" opacity="0.23"/>
<line x1="222.0" y1="547.5" x2="236.0" y2="547.5" stroke="#1C9E8C" stroke-width="0.7" stroke-dasharray="3.5 1.2" opacity="0.33"/>
<line x1="250.0" y1="547.5" x2="262.0" y2="547.5" stroke="#1C9E8C" stroke-width="0.7" stroke-dasharray="3.5 1.2" opacity="0.23"/>
<line x1="270.0" y1="547.5" x2="320.0" y2="547.5" stroke="#1C9E8C" stroke-width="0.7" stroke-dasharray="3.5 1.2" opacity="0.23"/>
<rect x="201" y="541.5" width="1" height="6.4" fill="#1C9E8C" opacity="0.7"/>
<rect x="317" y="545.1" width="1" height="2.8" fill="#1C9E8C"/>
<rect x="319" y="545.7" width="1" height="2.2" fill="#1C9E8C"/>
<line x1="222.0" y1="547.5" x2="228.0" y2="547.5" stroke="#1C9E8C" stroke-width="0.7" stroke-dasharray="3.5 1.2" opacity="0.65"/>
<path d="M142.6,529.5H144.4V547.9H142.6" fill="none" stroke="#231F20" stroke-width="0.9"/>
<text x="141.8" y="532.7" font-size="7.6" text-anchor="end">1000</text>
<text x="141.8" y="548.5" font-size="7.6" text-anchor="end">0</text>
<text x="123.2" y="541.9" font-size="9.4" text-anchor="end">Large intestine</text>
<text x="272.5" y="535.1" font-size="8">TPM=0</text>
<line x1="145.0" y1="569.8" x2="190.0" y2="569.8" stroke="#34528F" stroke-width="0.7" stroke-dasharray="3.5 1.2" opacity="0.23"/>
<line x1="222.0" y1="569.8" x2="236.0" y2="569.8" stroke="#34528F" stroke-width="0.7" stroke-dasharray="3.5 1.2" opacity="0.33"/>
<line x1="250.0" y1="569.8" x2="262.0" y2="569.8" stroke="#34528F" stroke-width="0.7" stroke-dasharray="3.5 1.2" opacity="0.23"/>
<line x1="270.0" y1="569.8" x2="320.0" y2="569.8" stroke="#34528F" stroke-width="0.7" stroke-dasharray="3.5 1.2" opacity="0.23"/>
<rect x="192" y="564.1" width="3" height="6.1" fill="#1E3A7A"/>
<rect x="201" y="566.5" width="1" height="3.7" fill="#34528F" opacity="0.7"/>
<rect x="318" y="567.4" width="1" height="2.8" fill="#34528F"/>
<rect x="320" y="568.0" width="1" height="2.2" fill="#34528F"/>
<path d="M142.6,551.8H144.4V570.2H142.6" fill="none" stroke="#231F20" stroke-width="0.9"/>
<text x="141.8" y="555.0" font-size="7.6" text-anchor="end">1000</text>
<text x="141.8" y="570.8" font-size="7.6" text-anchor="end">0</text>
<text x="123.2" y="564.2" font-size="9.4" text-anchor="end">Liver</text>
<text x="272.5" y="557.4" font-size="8">TPM=207.9</text>
<line x1="150.0" y1="592.1" x2="190.0" y2="592.1" stroke="#F39A80" stroke-width="0.7" stroke-dasharray="3.5 1.2" opacity="0.23"/>
<line x1="222.0" y1="592.1" x2="236.0" y2="592.1" stroke="#F39A80" stroke-width="0.7" stroke-dasharray="3.5 1.2" opacity="0.33"/>
<line x1="250.0" y1="592.1" x2="262.0" y2="592.1" stroke="#F39A80" stroke-width="0.7" stroke-dasharray="3.5 1.2" opacity="0.23"/>
<line x1="270.0" y1="592.1" x2="320.0" y2="592.1" stroke="#F39A80" stroke-width="0.7" stroke-dasharray="3.5 1.2" opacity="0.23"/>
<rect x="201" y="591.4" width="1" height="1.1" fill="#F39A80" opacity="0.7"/>
<rect x="253" y="590.7" width="1" height="1.8" fill="#F39A80"/>
<path d="M142.6,574.1H144.4V592.5H142.6" fill="none" stroke="#231F20" stroke-width="0.9"/>
<text x="141.8" y="577.3" font-size="7.6" text-anchor="end">1000</text>
<text x="141.8" y="593.1" font-size="7.6" text-anchor="end">0</text>
<text x="123.2" y="586.5" font-size="9.4" text-anchor="end">Lung</text>
<text x="272.5" y="579.7" font-size="8">TPM=0</text>
<line x1="146.0" y1="614.4" x2="190.0" y2="614.4" stroke="#7D8CC6" stroke-width="0.7" stroke-dasharray="3.5 1.2" opacity="0.23"/>
<line x1="222.0" y1="614.4" x2="236.0" y2="614.4" stroke="#7D8CC6" stroke-width="0.7" stroke-dasharray="3.5 1.2" opacity="0.33"/>
<line x1="250.0" y1="614.4" x2="262.0" y2="614.4" stroke="#7D8CC6" stroke-width="0.7" stroke-dasharray="3.5 1.2" opacity="0.23"/>
<line x1="270.0" y1="614.4" x2="320.0" y2="614.4" stroke="#7D8CC6" stroke-width="0.7" stroke-dasharray="3.5 1.2" opacity="0.23"/>
<rect x="201" y="614.1" width="1" height="0.7" fill="#7D8CC6" opacity="0.7"/>
<path d="M142.6,596.4H144.4V614.8H142.6" fill="none" stroke="#231F20" stroke-width="0.9"/>
<text x="141.8" y="599.6" font-size="7.6" text-anchor="end">1000</text>
<text x="141.8" y="615.4" font-size="7.6" text-anchor="end">0</text>
<text x="123.2" y="608.8" font-size="9.4" text-anchor="end">Muscle</text>
<text x="272.5" y="602.0" font-size="8">TPM=0</text>
<line x1="146.0" y1="636.7" x2="190.0" y2="636.7" stroke="#68C4A9" stroke-width="0.7" stroke-dasharray="3.5 1.2" opacity="0.23"/>
<line x1="222.0" y1="636.7" x2="236.0" y2="636.7" stroke="#68C4A9" stroke-width="0.7" stroke-dasharray="3.5 1.2" opacity="0.33"/>
<line x1="250.0" y1="636.7" x2="262.0" y2="636.7" stroke="#68C4A9" stroke-width="0.7" stroke-dasharray="3.5 1.2" opacity="0.23"/>
<line x1="270.0" y1="636.7" x2="320.0" y2="636.7" stroke="#68C4A9" stroke-width="0.7" stroke-dasharray="3.5 1.2" opacity="0.23"/>
<rect x="201" y="630.7" width="1" height="6.4" fill="#68C4A9" opacity="0.7"/>
<rect x="317" y="635.3" width="1" height="1.8" fill="#68C4A9"/>
<path d="M142.6,618.7H144.4V637.1H142.6" fill="none" stroke="#231F20" stroke-width="0.9"/>
<text x="141.8" y="621.9" font-size="7.6" text-anchor="end">1000</text>
<text x="141.8" y="637.7" font-size="7.6" text-anchor="end">0</text>
<text x="123.2" y="631.1" font-size="9.4" text-anchor="end">Small intestine</text>
<text x="272.5" y="624.3" font-size="8">TPM=2.07</text>
<line x1="148.0" y1="659.0" x2="175.0" y2="659.0" stroke="#E31B1F" stroke-width="0.7" stroke-dasharray="3.5 1.2" opacity="0.23"/>
<line x1="222.0" y1="659.0" x2="236.0" y2="659.0" stroke="#E31B1F" stroke-width="0.7" stroke-dasharray="3.5 1.2" opacity="0.33"/>
<line x1="250.0" y1="659.0" x2="262.0" y2="659.0" stroke="#E31B1F" stroke-width="0.7" stroke-dasharray="3.5 1.2" opacity="0.23"/>
<line x1="270.0" y1="659.0" x2="320.0" y2="659.0" stroke="#E31B1F" stroke-width="0.7" stroke-dasharray="3.5 1.2" opacity="0.23"/>
<rect x="201" y="657.6" width="1" height="1.8" fill="#E31B1F" opacity="0.7"/>
<rect x="253" y="657.6" width="1" height="1.8" fill="#E31B1F"/>
<path d="M142.6,641.0H144.4V659.4H142.6" fill="none" stroke="#231F20" stroke-width="0.9"/>
<text x="141.8" y="644.2" font-size="7.6" text-anchor="end">1000</text>
<text x="141.8" y="660.0" font-size="7.6" text-anchor="end">0</text>
<text x="123.2" y="653.4" font-size="9.4" text-anchor="end">Subcutaneous adipose</text>
<text x="272.5" y="646.6" font-size="8">TPM=0</text>
<line x1="146.0" y1="681.3" x2="190.0" y2="681.3" stroke="#93754F" stroke-width="0.7" stroke-dasharray="3.5 1.2" opacity="0.23"/>
<line x1="222.0" y1="681.3" x2="236.0" y2="681.3" stroke="#93754F" stroke-width="0.7" stroke-dasharray="3.5 1.2" opacity="0.33"/>
<line x1="250.0" y1="681.3" x2="262.0" y2="681.3" stroke="#93754F" stroke-width="0.7" stroke-dasharray="3.5 1.2" opacity="0.23"/>
<line x1="270.0" y1="681.3" x2="320.0" y2="681.3" stroke="#93754F" stroke-width="0.7" stroke-dasharray="3.5 1.2" opacity="0.23"/>
<rect x="252" y="679.5" width="1" height="2.2" fill="#93754F" opacity="0.7"/>
<path d="M142.6,663.3H144.4V681.7H142.6" fill="none" stroke="#231F20" stroke-width="0.9"/>
<text x="141.8" y="666.5" font-size="7.6" text-anchor="end">1000</text>
<text x="141.8" y="684.3" font-size="7.6" text-anchor="end">0</text>
<text x="123.2" y="675.7" font-size="9.4" text-anchor="end">Visceral adipose</text>
<text x="272.5" y="668.9" font-size="8">TPM=0</text>
<line x1="143.90" y1="681.70" x2="324.30" y2="681.70" stroke="#000" stroke-width="1.4"/>
<line x1="324.30" y1="680.20" x2="324.30" y2="682.30" stroke="#000" stroke-width="0.9"/>
<line x1="192.50" y1="485.20" x2="192.50" y2="503.60" stroke="#3a3a3a" stroke-width="1.0" stroke-dasharray="2.2 1.8"/>
<line x1="192.50" y1="507.50" x2="192.50" y2="525.90" stroke="#3a3a3a" stroke-width="1.0" stroke-dasharray="2.2 1.8"/>
<line x1="192.50" y1="529.80" x2="192.50" y2="548.20" stroke="#3a3a3a" stroke-width="1.0" stroke-dasharray="2.2 1.8"/>
<line x1="192.50" y1="552.10" x2="192.50" y2="570.50" stroke="#3a3a3a" stroke-width="1.0" stroke-dasharray="2.2 1.8"/>
<line x1="192.50" y1="574.40" x2="192.50" y2="592.80" stroke="#3a3a3a" stroke-width="1.0" stroke-dasharray="2.2 1.8"/>
<line x1="192.50" y1="596.70" x2="192.50" y2="615.10" stroke="#3a3a3a" stroke-width="1.0" stroke-dasharray="2.2 1.8"/>
<line x1="192.50" y1="619.00" x2="192.50" y2="637.40" stroke="#3a3a3a" stroke-width="1.0" stroke-dasharray="2.2 1.8"/>
<line x1="192.50" y1="641.30" x2="192.50" y2="659.70" stroke="#3a3a3a" stroke-width="1.0" stroke-dasharray="2.2 1.8"/>
<line x1="192.50" y1="663.60" x2="192.50" y2="682.00" stroke="#3a3a3a" stroke-width="1.0" stroke-dasharray="2.2 1.8"/>
<line x1="192.50" y1="682.70" x2="192.50" y2="748.00" stroke="#3a3a3a" stroke-width="1.0" stroke-dasharray="2.2 1.8"/>
<line x1="194.30" y1="485.20" x2="194.30" y2="503.60" stroke="#3a3a3a" stroke-width="1.0" stroke-dasharray="2.2 1.8"/>
<line x1="194.30" y1="507.50" x2="194.30" y2="525.90" stroke="#3a3a3a" stroke-width="1.0" stroke-dasharray="2.2 1.8"/>
<line x1="194.30" y1="529.80" x2="194.30" y2="548.20" stroke="#3a3a3a" stroke-width="1.0" stroke-dasharray="2.2 1.8"/>
<line x1="194.30" y1="552.10" x2="194.30" y2="570.50" stroke="#3a3a3a" stroke-width="1.0" stroke-dasharray="2.2 1.8"/>
<line x1="194.30" y1="574.40" x2="194.30" y2="592.80" stroke="#3a3a3a" stroke-width="1.0" stroke-dasharray="2.2 1.8"/>
<line x1="194.30" y1="596.70" x2="194.30" y2="615.10" stroke="#3a3a3a" stroke-width="1.0" stroke-dasharray="2.2 1.8"/>
<line x1="194.30" y1="619.00" x2="194.30" y2="637.40" stroke="#3a3a3a" stroke-width="1.0" stroke-dasharray="2.2 1.8"/>
<line x1="194.30" y1="641.30" x2="194.30" y2="659.70" stroke="#3a3a3a" stroke-width="1.0" stroke-dasharray="2.2 1.8"/>
<line x1="194.30" y1="663.60" x2="194.30" y2="682.00" stroke="#3a3a3a" stroke-width="1.0" stroke-dasharray="2.2 1.8"/>
<line x1="194.30" y1="682.70" x2="194.30" y2="748.00" stroke="#3a3a3a" stroke-width="1.0" stroke-dasharray="2.2 1.8"/>
<text x="108.7" y="691.8" font-size="7.9">Chr. 8</text>
<text x="144.4" y="691.8" font-size="7.9" text-anchor="middle">13.69</text>
<text x="312.3" y="691.9" font-size="7.9">14.1Mb</text>
<text x="252.3" y="709.4" font-size="7.9" font-style="italic" fill="#231F20">SMIM35</text>
<line x1="261.7" y1="699.9" x2="267.2" y2="699.9" stroke="#777" stroke-width="0.6"/>
<line x1="261.5" y1="697.4" x2="261.5" y2="702.4" stroke="#333" stroke-width="1.0"/>
<line x1="267.5" y1="697.4" x2="267.5" y2="702.4" stroke="#555" stroke-width="1.0"/>
<text x="238.9" y="725.2" font-size="7.9" font-style="italic" fill="#231F20">IL10RA</text>
<line x1="250.5" y1="711.6" x2="250.5" y2="718.0" stroke="#666" stroke-width="1"/>
<line x1="251.5" y1="711.6" x2="251.5" y2="718.0" stroke="#222" stroke-width="1"/>
<line x1="252.5" y1="711.6" x2="252.5" y2="718.0" stroke="#444" stroke-width="1"/>
<line x1="253.5" y1="711.6" x2="253.5" y2="718.0" stroke="#222" stroke-width="1"/>
<line x1="254.5" y1="711.6" x2="254.5" y2="718.0" stroke="#777" stroke-width="1"/>
<text x="200.2" y="734.7" font-size="7.9" font-style="italic" fill="#231F20">TMPRSS13</text>
<line x1="222.0" y1="723.7" x2="235.0" y2="723.7" stroke="#888" stroke-width="0.6"/>
<line x1="222.5" y1="720.3" x2="222.5" y2="727.2" stroke="#555" stroke-width="1"/>
<line x1="223.5" y1="720.3" x2="223.5" y2="727.2" stroke="#333" stroke-width="1"/>
<line x1="224.5" y1="720.3" x2="224.5" y2="727.2" stroke="#222" stroke-width="1"/>
<line x1="225.5" y1="720.3" x2="225.5" y2="727.2" stroke="#444" stroke-width="1"/>
<line x1="226.5" y1="720.3" x2="226.5" y2="727.2" stroke="#222" stroke-width="1"/>
<line x1="227.5" y1="720.3" x2="227.5" y2="727.2" stroke="#555" stroke-width="1"/>
<line x1="231.5" y1="720.3" x2="231.5" y2="727.2" stroke="#777" stroke-width="1"/>
<line x1="234.5" y1="720.3" x2="234.5" y2="727.2" stroke="#777" stroke-width="1"/>
<text x="176.1" y="745.8" font-size="7.9" font-style="italic" fill="#FF1F1F">FXYD2</text>
<rect x="192.2" y="731.0" width="2.6" height="8.6" fill="#333"/>
<text x="305.9" y="715.3" font-size="7.9" font-style="italic" fill="#231F20">SCN2B</text>
<line x1="317.6" y1="704.7" x2="321.8" y2="704.7" stroke="#777" stroke-width="0.6"/>
<line x1="317.5" y1="702.0" x2="317.5" y2="707.4" stroke="#333" stroke-width="1.0"/>
<line x1="321.5" y1="702.0" x2="321.5" y2="707.4" stroke="#555" stroke-width="1.0"/>
<text x="295.2" y="729.7" font-size="7.9" font-style="italic" fill="#231F20">SCN4B</text>
<line x1="304.4" y1="721.4" x2="311.4" y2="721.4" stroke="#777" stroke-width="0.6"/>
<line x1="304.5" y1="718.5" x2="304.5" y2="724.2" stroke="#555" stroke-width="1.0"/>
<line x1="306.5" y1="718.5" x2="306.5" y2="724.2" stroke="#444" stroke-width="1.0"/>
<line x1="308.5" y1="718.5" x2="308.5" y2="724.2" stroke="#444" stroke-width="1.0"/>
<line x1="311.5" y1="718.5" x2="311.5" y2="724.2" stroke="#555" stroke-width="1.0"/>
<text x="272.2" y="745.8" font-size="7.9" font-style="italic" fill="#231F20">TMPRSS4</text>
<line x1="282.3" y1="736.5" x2="297.7" y2="736.5" stroke="#888" stroke-width="0.6"/>
<line x1="282.5" y1="733.4" x2="282.5" y2="739.6" stroke="#777" stroke-width="1"/>
<line x1="287.5" y1="733.4" x2="287.5" y2="739.6" stroke="#777" stroke-width="1"/>
<line x1="290.5" y1="733.4" x2="290.5" y2="739.6" stroke="#666" stroke-width="1"/>
<line x1="291.5" y1="733.4" x2="291.5" y2="739.6" stroke="#333" stroke-width="1"/>
<line x1="292.5" y1="733.4" x2="292.5" y2="739.6" stroke="#555" stroke-width="1"/>
<line x1="293.5" y1="733.4" x2="293.5" y2="739.6" stroke="#222" stroke-width="1"/>
<line x1="294.5" y1="733.4" x2="294.5" y2="739.6" stroke="#444" stroke-width="1"/>
<line x1="295.5" y1="733.4" x2="295.5" y2="739.6" stroke="#222" stroke-width="1"/>
<line x1="296.5" y1="733.4" x2="296.5" y2="739.6" stroke="#555" stroke-width="1"/>
<text x="342.9" y="479.6" font-size="15">e</text>
<line x1="367.70" y1="482.00" x2="367.70" y2="681.70" stroke="#6d6e71" stroke-width="1"/>
<text x="0" y="0" font-size="9.3" text-anchor="middle" transform="translate(358.6,586.0) rotate(-90)">RNA-seq signal</text>
<line x1="497.0" y1="502.9" x2="561.0" y2="502.9" stroke="#E4483A" stroke-width="0.7" stroke-dasharray="3.5 1.2" opacity="0.29"/>
<line x1="588.0" y1="502.9" x2="606.0" y2="502.9" stroke="#E4483A" stroke-width="0.7" stroke-dasharray="3.5 1.2" opacity="0.26"/>
<line x1="612.0" y1="502.9" x2="652.0" y2="502.9" stroke="#E4483A" stroke-width="0.7" stroke-dasharray="3.5 1.2" opacity="0.23"/>
<rect x="487" y="498.7" width="1" height="4.6" fill="#E4483A" opacity="0.7"/>
<rect x="490" y="485.8" width="1" height="17.5" fill="#E4483A" opacity="0.7"/>
<rect x="491" y="501.1" width="1" height="2.2" fill="#E4483A" opacity="0.7"/>
<rect x="492" y="502.4" width="1" height="0.9" fill="#E4483A"/>
<rect x="493" y="501.3" width="1" height="2.0" fill="#E4483A"/>
<rect x="494" y="501.0" width="1" height="2.3" fill="#E4483A" opacity="0.7"/>
<rect x="495" y="500.4" width="1" height="2.9" fill="#E4483A"/>
<rect x="564" y="501.5" width="1" height="1.8" fill="#E4483A" opacity="0.7"/>
<rect x="566" y="500.2" width="1" height="3.1" fill="#E4483A" opacity="0.7"/>
<rect x="567" y="497.1" width="1" height="6.2" fill="#E4483A"/>
<rect x="568" y="495.0" width="1" height="8.3" fill="#E4483A"/>
<rect x="569" y="492.0" width="1" height="11.3" fill="#E4483A" opacity="0.7"/>
<rect x="570" y="491.3" width="1" height="12.0" fill="#E4483A"/>
<rect x="571" y="494.5" width="1" height="8.8" fill="#E4483A"/>
<rect x="593" y="502.3" width="1" height="1.0" fill="#E4483A" opacity="0.7"/>
<rect x="594" y="502.3" width="1" height="1.0" fill="#E4483A"/>
<rect x="595" y="502.5" width="1" height="0.8" fill="#E4483A"/>
<rect x="596" y="502.5" width="1" height="0.8" fill="#E4483A" opacity="0.7"/>
<rect x="597" y="502.7" width="1" height="0.6" fill="#E4483A"/>
<rect x="597" y="502.7" width="1" height="0.6" fill="#E4483A"/>
<rect x="599" y="502.0" width="1" height="1.3" fill="#E4483A" opacity="0.7"/>
<rect x="601" y="501.1" width="1" height="2.2" fill="#E4483A"/>
<rect x="602" y="501.8" width="1" height="1.5" fill="#E4483A"/>
<rect x="606" y="502.9" width="1" height="0.4" fill="#E4483A" opacity="0.7"/>
<rect x="607" y="502.9" width="1" height="0.4" fill="#E4483A"/>
<rect x="608" y="502.9" width="1" height="0.4" fill="#E4483A"/>
<rect x="609" y="502.9" width="1" height="0.4" fill="#E4483A" opacity="0.7"/>
<rect x="610" y="502.9" width="1" height="0.4" fill="#E4483A"/>
<rect x="652" y="499.6" width="1" height="3.7" fill="#E4483A" opacity="0.7"/>
<rect x="653" y="501.1" width="1" height="2.2" fill="#E4483A"/>
<rect x="656" y="502.2" width="1" height="1.1" fill="#E4483A"/>
<path d="M484.5,484.9H486.3V503.3H484.5" fill="none" stroke="#231F20" stroke-width="0.9"/>
<text x="483.7" y="488.1" font-size="7.6" text-anchor="end">1000</text>
<text x="483.7" y="503.9" font-size="7.6" text-anchor="end">0</text>
<text x="464.8" y="497.3" font-size="9.4" text-anchor="end">Heart</text>
<text x="606.9" y="490.5" font-size="8">TPM=0</text>
<line x1="497.0" y1="525.2" x2="561.0" y2="525.2" stroke="#58BADB" stroke-width="0.7" stroke-dasharray="3.5 1.2" opacity="0.29"/>
<line x1="588.0" y1="525.2" x2="606.0" y2="525.2" stroke="#58BADB" stroke-width="0.7" stroke-dasharray="3.5 1.2" opacity="0.26"/>
<line x1="612.0" y1="525.2" x2="652.0" y2="525.2" stroke="#58BADB" stroke-width="0.7" stroke-dasharray="3.5 1.2" opacity="0.23"/>
<rect x="487" y="524.7" width="1" height="0.9" fill="#58BADB" opacity="0.7"/>
<rect x="490" y="520.1" width="1" height="5.5" fill="#58BADB" opacity="0.7"/>
<rect x="491" y="524.8" width="1" height="0.8" fill="#58BADB" opacity="0.7"/>
<rect x="492" y="524.8" width="1" height="0.8" fill="#58BADB"/>
<rect x="493" y="524.4" width="1" height="1.2" fill="#58BADB"/>
<rect x="494" y="524.7" width="1" height="0.9" fill="#58BADB" opacity="0.7"/>
<rect x="495" y="524.6" width="1" height="1.0" fill="#58BADB"/>
<rect x="564" y="523.9" width="1" height="1.7" fill="#58BADB" opacity="0.7"/>
<rect x="566" y="522.3" width="1" height="3.3" fill="#58BADB" opacity="0.7"/>
<rect x="567" y="519.2" width="1" height="6.4" fill="#58BADB"/>
<rect x="568" y="516.9" width="1" height="8.7" fill="#58BADB"/>
<rect x="569" y="516.8" width="1" height="8.8" fill="#58BADB" opacity="0.7"/>
<rect x="570" y="514.6" width="1" height="11.0" fill="#58BADB"/>
<rect x="571" y="514.6" width="1" height="11.0" fill="#58BADB"/>
<rect x="593" y="525.2" width="1" height="0.4" fill="#58BADB" opacity="0.7"/>
<rect x="594" y="525.1" width="1" height="0.5" fill="#58BADB"/>
<rect x="595" y="525.1" width="1" height="0.5" fill="#58BADB"/>
<rect x="596" y="525.1" width="1" height="0.5" fill="#58BADB" opacity="0.7"/>
<rect x="597" y="525.1" width="1" height="0.5" fill="#58BADB"/>
<rect x="597" y="525.1" width="1" height="0.5" fill="#58BADB"/>
<rect x="599" y="525.0" width="1" height="0.6" fill="#58BADB" opacity="0.7"/>
<rect x="601" y="524.7" width="1" height="0.9" fill="#58BADB"/>
<rect x="602" y="525.0" width="1" height="0.6" fill="#58BADB"/>
<rect x="606" y="525.4" width="1" height="0.2" fill="#58BADB" opacity="0.7"/>
<rect x="607" y="525.3" width="1" height="0.3" fill="#58BADB"/>
<rect x="608" y="525.4" width="1" height="0.2" fill="#58BADB"/>
<rect x="609" y="525.3" width="1" height="0.3" fill="#58BADB" opacity="0.7"/>
<rect x="610" y="525.4" width="1" height="0.2" fill="#58BADB"/>
<rect x="652" y="513.6" width="1" height="12.0" fill="#58BADB" opacity="0.7"/>
<rect x="653" y="518.4" width="1" height="7.2" fill="#58BADB"/>
<rect x="656" y="522.0" width="1" height="3.6" fill="#58BADB"/>
<rect x="577" y="507.2" width="1" height="18.4" fill="#3AA9D4"/>
<rect x="579" y="507.2" width="1" height="18.4" fill="#3AA9D4"/>
<rect x="585" y="507.2" width="1" height="18.4" fill="#3AA9D4"/>
<path d="M484.5,507.2H486.3V525.6H484.5" fill="none" stroke="#231F20" stroke-width="0.9"/>
<text x="483.7" y="510.4" font-size="7.6" text-anchor="end">1000</text>
<text x="483.7" y="526.2" font-size="7.6" text-anchor="end">0</text>
<text x="464.8" y="519.6" font-size="9.4" text-anchor="end">Kidney</text>
<text x="606.9" y="512.8" font-size="8">TPM=1092.94</text>
<line x1="497.0" y1="547.5" x2="561.0" y2="547.5" stroke="#1C9E8C" stroke-width="0.7" stroke-dasharray="3.5 1.2" opacity="0.29"/>
<line x1="588.0" y1="547.5" x2="606.0" y2="547.5" stroke="#1C9E8C" stroke-width="0.7" stroke-dasharray="3.5 1.2" opacity="0.26"/>
<line x1="612.0" y1="547.5" x2="652.0" y2="547.5" stroke="#1C9E8C" stroke-width="0.7" stroke-dasharray="3.5 1.2" opacity="0.23"/>
<rect x="487" y="539.6" width="1" height="8.3" fill="#1C9E8C" opacity="0.7"/>
<rect x="490" y="529.5" width="1" height="18.4" fill="#1C9E8C" opacity="0.7"/>
<rect x="491" y="544.7" width="1" height="3.2" fill="#1C9E8C" opacity="0.7"/>
<rect x="492" y="547.5" width="1" height="0.4" fill="#1C9E8C"/>
<rect x="493" y="546.8" width="1" height="1.1" fill="#1C9E8C"/>
<rect x="494" y="544.5" width="1" height="3.4" fill="#1C9E8C" opacity="0.7"/>
<rect x="495" y="546.0" width="1" height="1.9" fill="#1C9E8C"/>
<rect x="564" y="546.4" width="1" height="1.5" fill="#1C9E8C" opacity="0.7"/>
<rect x="566" y="544.4" width="1" height="3.5" fill="#1C9E8C" opacity="0.7"/>
<rect x="567" y="542.5" width="1" height="5.4" fill="#1C9E8C"/>
<rect x="568" y="540.9" width="1" height="7.0" fill="#1C9E8C"/>
<rect x="569" y="538.8" width="1" height="9.1" fill="#1C9E8C" opacity="0.7"/>
<rect x="570" y="537.8" width="1" height="10.1" fill="#1C9E8C"/>
<rect x="571" y="539.8" width="1" height="8.1" fill="#1C9E8C"/>
<rect x="593" y="547.1" width="1" height="0.8" fill="#1C9E8C" opacity="0.7"/>
<rect x="594" y="546.3" width="1" height="1.6" fill="#1C9E8C"/>
<rect x="595" y="544.3" width="1" height="3.6" fill="#1C9E8C"/>
<rect x="596" y="544.9" width="1" height="3.0" fill="#1C9E8C" opacity="0.7"/>
<rect x="597" y="547.0" width="1" height="0.9" fill="#1C9E8C"/>
<rect x="597" y="546.6" width="1" height="1.3" fill="#1C9E8C"/>
<rect x="599" y="542.9" width="1" height="5.0" fill="#1C9E8C" opacity="0.7"/>
<rect x="601" y="539.6" width="1" height="8.3" fill="#1C9E8C"/>
<rect x="602" y="542.1" width="1" height="5.8" fill="#1C9E8C"/>
<rect x="606" y="547.4" width="1" height="0.5" fill="#1C9E8C" opacity="0.7"/>
<rect x="607" y="547.5" width="1" height="0.4" fill="#1C9E8C"/>
<rect x="608" y="546.5" width="1" height="1.4" fill="#1C9E8C"/>
<rect x="609" y="547.3" width="1" height="0.6" fill="#1C9E8C" opacity="0.7"/>
<rect x="610" y="546.8" width="1" height="1.1" fill="#1C9E8C"/>
<rect x="652" y="544.2" width="1" height="3.7" fill="#1C9E8C" opacity="0.7"/>
<rect x="653" y="545.7" width="1" height="2.2" fill="#1C9E8C"/>
<rect x="656" y="546.8" width="1" height="1.1" fill="#1C9E8C"/>
<rect x="541" y="546.4" width="1" height="1.5" fill="#1C9E8C" opacity="0.7"/>
<path d="M484.5,529.5H486.3V547.9H484.5" fill="none" stroke="#231F20" stroke-width="0.9"/>
<text x="483.7" y="532.7" font-size="7.6" text-anchor="end">1000</text>
<text x="483.7" y="548.5" font-size="7.6" text-anchor="end">0</text>
<text x="464.8" y="541.9" font-size="9.4" text-anchor="end">Large intestine</text>
<text x="606.9" y="535.1" font-size="8">TPM=0</text>
<line x1="497.0" y1="569.8" x2="561.0" y2="569.8" stroke="#34528F" stroke-width="0.7" stroke-dasharray="3.5 1.2" opacity="0.29"/>
<line x1="588.0" y1="569.8" x2="606.0" y2="569.8" stroke="#34528F" stroke-width="0.7" stroke-dasharray="3.5 1.2" opacity="0.26"/>
<line x1="612.0" y1="569.8" x2="652.0" y2="569.8" stroke="#34528F" stroke-width="0.7" stroke-dasharray="3.5 1.2" opacity="0.23"/>
<rect x="487" y="567.4" width="1" height="2.8" fill="#34528F" opacity="0.7"/>
<rect x="490" y="557.3" width="1" height="12.9" fill="#34528F" opacity="0.7"/>
<rect x="491" y="568.8" width="1" height="1.4" fill="#34528F" opacity="0.7"/>
<rect x="492" y="569.4" width="1" height="0.8" fill="#34528F"/>
<rect x="493" y="568.1" width="1" height="2.1" fill="#34528F"/>
<rect x="494" y="569.5" width="1" height="0.7" fill="#34528F" opacity="0.7"/>
<rect x="495" y="568.3" width="1" height="1.9" fill="#34528F"/>
<rect x="564" y="567.4" width="1" height="2.8" fill="#34528F" opacity="0.7"/>
<rect x="566" y="565.4" width="1" height="4.8" fill="#34528F" opacity="0.7"/>
<rect x="567" y="560.4" width="1" height="9.8" fill="#34528F"/>
<rect x="568" y="556.9" width="1" height="13.3" fill="#34528F"/>
<rect x="569" y="555.6" width="1" height="14.6" fill="#34528F" opacity="0.7"/>
<rect x="570" y="551.8" width="1" height="18.4" fill="#34528F"/>
<rect x="571" y="552.8" width="1" height="17.4" fill="#34528F"/>
<rect x="593" y="569.4" width="1" height="0.8" fill="#34528F" opacity="0.7"/>
<rect x="594" y="569.0" width="1" height="1.2" fill="#34528F"/>
<rect x="595" y="569.5" width="1" height="0.7" fill="#34528F"/>
<rect x="596" y="569.4" width="1" height="0.8" fill="#34528F" opacity="0.7"/>
<rect x="597" y="569.1" width="1" height="1.1" fill="#34528F"/>
<rect x="597" y="569.2" width="1" height="1.0" fill="#34528F"/>
<rect x="599" y="568.5" width="1" height="1.7" fill="#34528F" opacity="0.7"/>
<rect x="601" y="567.4" width="1" height="2.8" fill="#34528F"/>
<rect x="602" y="568.3" width="1" height="1.9" fill="#34528F"/>
<rect x="606" y="569.8" width="1" height="0.4" fill="#34528F" opacity="0.7"/>
<rect x="607" y="569.6" width="1" height="0.6" fill="#34528F"/>
<rect x="608" y="569.8" width="1" height="0.4" fill="#34528F"/>
<rect x="609" y="569.8" width="1" height="0.4" fill="#34528F" opacity="0.7"/>
<rect x="610" y="569.7" width="1" height="0.5" fill="#34528F"/>
<rect x="652" y="561.0" width="1" height="9.2" fill="#34528F" opacity="0.7"/>
<rect x="653" y="564.7" width="1" height="5.5" fill="#34528F"/>
<rect x="656" y="567.4" width="1" height="2.8" fill="#34528F"/>
<path d="M484.5,551.8H486.3V570.2H484.5" fill="none" stroke="#231F20" stroke-width="0.9"/>
<text x="483.7" y="555.0" font-size="7.6" text-anchor="end">1000</text>
<text x="483.7" y="570.8" font-size="7.6" text-anchor="end">0</text>
<text x="464.8" y="564.2" font-size="9.4" text-anchor="end">Liver</text>
<text x="606.9" y="557.4" font-size="8">TPM=0.36</text>
<line x1="497.0" y1="592.1" x2="561.0" y2="592.1" stroke="#F39A80" stroke-width="0.7" stroke-dasharray="3.5 1.2" opacity="0.29"/>
<line x1="588.0" y1="592.1" x2="606.0" y2="592.1" stroke="#F39A80" stroke-width="0.7" stroke-dasharray="3.5 1.2" opacity="0.26"/>
<line x1="612.0" y1="592.1" x2="652.0" y2="592.1" stroke="#F39A80" stroke-width="0.7" stroke-dasharray="3.5 1.2" opacity="0.23"/>
<rect x="487" y="585.1" width="1" height="7.4" fill="#F39A80" opacity="0.7"/>
<rect x="490" y="575.0" width="1" height="17.5" fill="#F39A80" opacity="0.7"/>
<rect x="491" y="591.1" width="1" height="1.4" fill="#F39A80" opacity="0.7"/>
<rect x="492" y="591.2" width="1" height="1.3" fill="#F39A80"/>
<rect x="493" y="591.9" width="1" height="0.6" fill="#F39A80"/>
<rect x="494" y="591.8" width="1" height="0.7" fill="#F39A80" opacity="0.7"/>
<rect x="495" y="590.3" width="1" height="2.2" fill="#F39A80"/>
<rect x="564" y="589.7" width="1" height="2.8" fill="#F39A80" opacity="0.7"/>
<rect x="566" y="587.4" width="1" height="5.1" fill="#F39A80" opacity="0.7"/>
<rect x="567" y="582.1" width="1" height="10.4" fill="#F39A80"/>
<rect x="568" y="578.4" width="1" height="14.1" fill="#F39A80"/>
<rect x="569" y="576.9" width="1" height="15.6" fill="#F39A80" opacity="0.7"/>
<rect x="570" y="574.1" width="1" height="18.4" fill="#F39A80"/>
<rect x="571" y="576.8" width="1" height="15.7" fill="#F39A80"/>
<rect x="593" y="591.8" width="1" height="0.7" fill="#F39A80" opacity="0.7"/>
<rect x="594" y="591.7" width="1" height="0.8" fill="#F39A80"/>
<rect x="595" y="591.9" width="1" height="0.6" fill="#F39A80"/>
<rect x="596" y="591.9" width="1" height="0.6" fill="#F39A80" opacity="0.7"/>
<rect x="597" y="591.7" width="1" height="0.8" fill="#F39A80"/>
<rect x="597" y="591.7" width="1" height="0.8" fill="#F39A80"/>
<rect x="599" y="591.4" width="1" height="1.1" fill="#F39A80" opacity="0.7"/>
<rect x="601" y="590.7" width="1" height="1.8" fill="#F39A80"/>
<rect x="602" y="591.2" width="1" height="1.3" fill="#F39A80"/>
<rect x="606" y="592.1" width="1" height="0.4" fill="#F39A80" opacity="0.7"/>
<rect x="607" y="592.1" width="1" height="0.4" fill="#F39A80"/>
<rect x="608" y="592.1" width="1" height="0.4" fill="#F39A80"/>
<rect x="609" y="592.1" width="1" height="0.4" fill="#F39A80" opacity="0.7"/>
<rect x="610" y="592.1" width="1" height="0.4" fill="#F39A80"/>
<rect x="652" y="587.0" width="1" height="5.5" fill="#F39A80" opacity="0.7"/>
<rect x="653" y="589.2" width="1" height="3.3" fill="#F39A80"/>
<rect x="656" y="590.8" width="1" height="1.7" fill="#F39A80"/>
<rect x="578" y="588.5" width="1" height="4.0" fill="#F39A80" opacity="0.7"/>
<rect x="579" y="589.7" width="1" height="2.8" fill="#F39A80"/>
<path d="M484.5,574.1H486.3V592.5H484.5" fill="none" stroke="#231F20" stroke-width="0.9"/>
<text x="483.7" y="577.3" font-size="7.6" text-anchor="end">1000</text>
<text x="483.7" y="593.1" font-size="7.6" text-anchor="end">0</text>
<text x="464.8" y="586.5" font-size="9.4" text-anchor="end">Lung</text>
<text x="606.9" y="579.7" font-size="8">TPM=160.81</text>
<line x1="497.0" y1="614.4" x2="561.0" y2="614.4" stroke="#7D8CC6" stroke-width="0.7" stroke-dasharray="3.5 1.2" opacity="0.29"/>
<line x1="588.0" y1="614.4" x2="606.0" y2="614.4" stroke="#7D8CC6" stroke-width="0.7" stroke-dasharray="3.5 1.2" opacity="0.26"/>
<line x1="612.0" y1="614.4" x2="652.0" y2="614.4" stroke="#7D8CC6" stroke-width="0.7" stroke-dasharray="3.5 1.2" opacity="0.23"/>
<rect x="487" y="605.6" width="1" height="9.2" fill="#7D8CC6" opacity="0.7"/>
<rect x="490" y="597.3" width="1" height="17.5" fill="#7D8CC6" opacity="0.7"/>
<rect x="491" y="611.4" width="1" height="3.4" fill="#7D8CC6" opacity="0.7"/>
<rect x="492" y="611.7" width="1" height="3.1" fill="#7D8CC6"/>
<rect x="493" y="612.5" width="1" height="2.3" fill="#7D8CC6"/>
<rect x="494" y="613.1" width="1" height="1.7" fill="#7D8CC6" opacity="0.7"/>
<rect x="495" y="614.1" width="1" height="0.7" fill="#7D8CC6"/>
<rect x="564" y="613.6" width="1" height="1.2" fill="#7D8CC6" opacity="0.7"/>
<rect x="566" y="612.7" width="1" height="2.1" fill="#7D8CC6" opacity="0.7"/>
<rect x="567" y="609.6" width="1" height="5.2" fill="#7D8CC6"/>
<rect x="568" y="608.8" width="1" height="6.0" fill="#7D8CC6"/>
<rect x="569" y="607.2" width="1" height="7.6" fill="#7D8CC6" opacity="0.7"/>
<rect x="570" y="606.5" width="1" height="8.3" fill="#7D8CC6"/>
<rect x="571" y="606.9" width="1" height="7.9" fill="#7D8CC6"/>
<rect x="593" y="613.1" width="1" height="1.7" fill="#7D8CC6" opacity="0.7"/>
<rect x="594" y="613.7" width="1" height="1.1" fill="#7D8CC6"/>
<rect x="595" y="613.9" width="1" height="0.9" fill="#7D8CC6"/>
<rect x="596" y="612.9" width="1" height="1.9" fill="#7D8CC6" opacity="0.7"/>
<rect x="597" y="614.1" width="1" height="0.7" fill="#7D8CC6"/>
<rect x="597" y="613.8" width="1" height="1.0" fill="#7D8CC6"/>
<rect x="599" y="611.5" width="1" height="3.3" fill="#7D8CC6" opacity="0.7"/>
<rect x="601" y="609.3" width="1" height="5.5" fill="#7D8CC6"/>
<rect x="602" y="610.9" width="1" height="3.9" fill="#7D8CC6"/>
<rect x="606" y="614.0" width="1" height="0.8" fill="#7D8CC6" opacity="0.7"/>
<rect x="607" y="613.8" width="1" height="1.0" fill="#7D8CC6"/>
<rect x="608" y="614.0" width="1" height="0.8" fill="#7D8CC6"/>
<rect x="609" y="614.2" width="1" height="0.6" fill="#7D8CC6" opacity="0.7"/>
<rect x="610" y="613.8" width="1" height="1.0" fill="#7D8CC6"/>
<rect x="652" y="612.0" width="1" height="2.8" fill="#7D8CC6" opacity="0.7"/>
<rect x="653" y="613.1" width="1" height="1.7" fill="#7D8CC6"/>
<rect x="656" y="614.0" width="1" height="0.8" fill="#7D8CC6"/>
<path d="M484.5,596.4H486.3V614.8H484.5" fill="none" stroke="#231F20" stroke-width="0.9"/>
<text x="483.7" y="599.6" font-size="7.6" text-anchor="end">1000</text>
<text x="483.7" y="615.4" font-size="7.6" text-anchor="end">0</text>
<text x="464.8" y="608.8" font-size="9.4" text-anchor="end">Muscle</text>
<text x="606.9" y="602.0" font-size="8">TPM=1.53</text>
<line x1="497.0" y1="636.7" x2="561.0" y2="636.7" stroke="#68C4A9" stroke-width="0.7" stroke-dasharray="3.5 1.2" opacity="0.29"/>
<line x1="588.0" y1="636.7" x2="606.0" y2="636.7" stroke="#68C4A9" stroke-width="0.7" stroke-dasharray="3.5 1.2" opacity="0.26"/>
<line x1="612.0" y1="636.7" x2="652.0" y2="636.7" stroke="#68C4A9" stroke-width="0.7" stroke-dasharray="3.5 1.2" opacity="0.23"/>
<rect x="487" y="631.6" width="1" height="5.5" fill="#68C4A9" opacity="0.7"/>
<rect x="490" y="618.7" width="1" height="18.4" fill="#68C4A9" opacity="0.7"/>
<rect x="491" y="636.1" width="1" height="1.0" fill="#68C4A9" opacity="0.7"/>
<rect x="492" y="636.7" width="1" height="0.4" fill="#68C4A9"/>
<rect x="493" y="635.8" width="1" height="1.3" fill="#68C4A9"/>
<rect x="494" y="635.3" width="1" height="1.8" fill="#68C4A9" opacity="0.7"/>
<rect x="495" y="636.5" width="1" height="0.6" fill="#68C4A9"/>
<rect x="564" y="635.7" width="1" height="1.4" fill="#68C4A9" opacity="0.7"/>
<rect x="566" y="634.6" width="1" height="2.5" fill="#68C4A9" opacity="0.7"/>
<rect x="567" y="632.3" width="1" height="4.8" fill="#68C4A9"/>
<rect x="568" y="629.6" width="1" height="7.5" fill="#68C4A9"/>
<rect x="569" y="630.1" width="1" height="7.0" fill="#68C4A9" opacity="0.7"/>
<rect x="570" y="627.9" width="1" height="9.2" fill="#68C4A9"/>
<rect x="571" y="628.2" width="1" height="8.9" fill="#68C4A9"/>
<rect x="593" y="633.0" width="1" height="4.1" fill="#68C4A9" opacity="0.7"/>
<rect x="594" y="634.2" width="1" height="2.9" fill="#68C4A9"/>
<rect x="595" y="634.1" width="1" height="3.0" fill="#68C4A9"/>
<rect x="596" y="634.5" width="1" height="2.6" fill="#68C4A9" opacity="0.7"/>
<rect x="597" y="636.0" width="1" height="1.1" fill="#68C4A9"/>
<rect x="597" y="636.4" width="1" height="0.7" fill="#68C4A9"/>
<rect x="599" y="631.6" width="1" height="5.5" fill="#68C4A9" opacity="0.7"/>
<rect x="601" y="627.9" width="1" height="9.2" fill="#68C4A9"/>
<rect x="602" y="630.7" width="1" height="6.4" fill="#68C4A9"/>
<rect x="606" y="636.7" width="1" height="0.4" fill="#68C4A9" opacity="0.7"/>
<rect x="607" y="635.4" width="1" height="1.7" fill="#68C4A9"/>
<rect x="608" y="635.7" width="1" height="1.4" fill="#68C4A9"/>
<rect x="609" y="635.3" width="1" height="1.8" fill="#68C4A9" opacity="0.7"/>
<rect x="610" y="636.7" width="1" height="0.4" fill="#68C4A9"/>
<rect x="652" y="633.4" width="1" height="3.7" fill="#68C4A9" opacity="0.7"/>
<rect x="653" y="634.9" width="1" height="2.2" fill="#68C4A9"/>
<rect x="656" y="636.0" width="1" height="1.1" fill="#68C4A9"/>
<rect x="541" y="635.3" width="1" height="1.8" fill="#68C4A9" opacity="0.7"/>
<path d="M484.5,618.7H486.3V637.1H484.5" fill="none" stroke="#231F20" stroke-width="0.9"/>
<text x="483.7" y="621.9" font-size="7.6" text-anchor="end">1000</text>
<text x="483.7" y="637.7" font-size="7.6" text-anchor="end">0</text>
<text x="464.8" y="631.1" font-size="9.4" text-anchor="end">Small intestine</text>
<text x="606.9" y="624.3" font-size="8">TPM=0.35</text>
<line x1="497.0" y1="659.0" x2="561.0" y2="659.0" stroke="#E31B1F" stroke-width="0.7" stroke-dasharray="3.5 1.2" opacity="0.29"/>
<line x1="588.0" y1="659.0" x2="606.0" y2="659.0" stroke="#E31B1F" stroke-width="0.7" stroke-dasharray="3.5 1.2" opacity="0.26"/>
<line x1="612.0" y1="659.0" x2="652.0" y2="659.0" stroke="#E31B1F" stroke-width="0.7" stroke-dasharray="3.5 1.2" opacity="0.23"/>
<rect x="487" y="656.6" width="1" height="2.8" fill="#E31B1F" opacity="0.7"/>
<rect x="490" y="643.8" width="1" height="15.6" fill="#E31B1F" opacity="0.7"/>
<rect x="491" y="657.2" width="1" height="2.2" fill="#E31B1F" opacity="0.7"/>
<rect x="492" y="657.7" width="1" height="1.7" fill="#E31B1F"/>
<rect x="493" y="657.0" width="1" height="2.4" fill="#E31B1F"/>
<rect x="494" y="658.1" width="1" height="1.3" fill="#E31B1F" opacity="0.7"/>
<rect x="495" y="656.2" width="1" height="3.2" fill="#E31B1F"/>
<rect x="564" y="658.0" width="1" height="1.4" fill="#E31B1F" opacity="0.7"/>
<rect x="566" y="657.0" width="1" height="2.4" fill="#E31B1F" opacity="0.7"/>
<rect x="567" y="654.3" width="1" height="5.1" fill="#E31B1F"/>
<rect x="568" y="651.5" width="1" height="7.9" fill="#E31B1F"/>
<rect x="569" y="650.5" width="1" height="8.9" fill="#E31B1F" opacity="0.7"/>
<rect x="570" y="650.2" width="1" height="9.2" fill="#E31B1F"/>
<rect x="571" y="651.0" width="1" height="8.4" fill="#E31B1F"/>
<rect x="593" y="658.5" width="1" height="0.9" fill="#E31B1F" opacity="0.7"/>
<rect x="594" y="658.4" width="1" height="1.0" fill="#E31B1F"/>
<rect x="595" y="658.7" width="1" height="0.7" fill="#E31B1F"/>
<rect x="596" y="658.5" width="1" height="0.9" fill="#E31B1F" opacity="0.7"/>
<rect x="597" y="658.5" width="1" height="0.9" fill="#E31B1F"/>
<rect x="597" y="658.5" width="1" height="0.9" fill="#E31B1F"/>
<rect x="599" y="658.1" width="1" height="1.3" fill="#E31B1F" opacity="0.7"/>
<rect x="601" y="657.2" width="1" height="2.2" fill="#E31B1F"/>
<rect x="602" y="657.9" width="1" height="1.5" fill="#E31B1F"/>
<rect x="606" y="659.0" width="1" height="0.4" fill="#E31B1F" opacity="0.7"/>
<rect x="607" y="659.0" width="1" height="0.4" fill="#E31B1F"/>
<rect x="608" y="659.0" width="1" height="0.4" fill="#E31B1F"/>
<rect x="609" y="659.0" width="1" height="0.4" fill="#E31B1F" opacity="0.7"/>
<rect x="610" y="659.0" width="1" height="0.4" fill="#E31B1F"/>
<rect x="652" y="645.6" width="1" height="13.8" fill="#E31B1F" opacity="0.7"/>
<rect x="653" y="651.1" width="1" height="8.3" fill="#E31B1F"/>
<rect x="656" y="655.3" width="1" height="4.1" fill="#E31B1F"/>
<path d="M484.5,641.0H486.3V659.4H484.5" fill="none" stroke="#231F20" stroke-width="0.9"/>
<text x="483.7" y="644.2" font-size="7.6" text-anchor="end">1000</text>
<text x="483.7" y="660.0" font-size="7.6" text-anchor="end">0</text>
<text x="464.8" y="653.4" font-size="9.4" text-anchor="end">Subcutaneous adipose</text>
<text x="606.9" y="646.6" font-size="8">TPM=0.33</text>
<line x1="497.0" y1="681.3" x2="561.0" y2="681.3" stroke="#93754F" stroke-width="0.7" stroke-dasharray="3.5 1.2" opacity="0.29"/>
<line x1="588.0" y1="681.3" x2="606.0" y2="681.3" stroke="#93754F" stroke-width="0.7" stroke-dasharray="3.5 1.2" opacity="0.26"/>
<line x1="612.0" y1="681.3" x2="652.0" y2="681.3" stroke="#93754F" stroke-width="0.7" stroke-dasharray="3.5 1.2" opacity="0.23"/>
<rect x="487" y="679.9" width="1" height="1.8" fill="#93754F" opacity="0.7"/>
<rect x="490" y="664.2" width="1" height="17.5" fill="#93754F" opacity="0.7"/>
<rect x="491" y="680.1" width="1" height="1.6" fill="#93754F" opacity="0.7"/>
<rect x="492" y="679.5" width="1" height="2.2" fill="#93754F"/>
<rect x="493" y="679.4" width="1" height="2.3" fill="#93754F"/>
<rect x="494" y="681.1" width="1" height="0.6" fill="#93754F" opacity="0.7"/>
<rect x="495" y="679.3" width="1" height="2.4" fill="#93754F"/>
<rect x="564" y="679.9" width="1" height="1.8" fill="#93754F" opacity="0.7"/>
<rect x="566" y="677.5" width="1" height="4.2" fill="#93754F" opacity="0.7"/>
<rect x="567" y="674.3" width="1" height="7.4" fill="#93754F"/>
<rect x="568" y="671.4" width="1" height="10.3" fill="#93754F"/>
<rect x="569" y="671.8" width="1" height="9.9" fill="#93754F" opacity="0.7"/>
<rect x="570" y="669.7" width="1" height="12.0" fill="#93754F"/>
<rect x="571" y="671.1" width="1" height="10.6" fill="#93754F"/>
<rect x="593" y="680.7" width="1" height="1.0" fill="#93754F" opacity="0.7"/>
<rect x="594" y="680.2" width="1" height="1.5" fill="#93754F"/>
<rect x="595" y="681.1" width="1" height="0.6" fill="#93754F"/>
<rect x="596" y="680.3" width="1" height="1.4" fill="#93754F" opacity="0.7"/>
<rect x="597" y="681.1" width="1" height="0.6" fill="#93754F"/>
<rect x="597" y="680.5" width="1" height="1.2" fill="#93754F"/>
<rect x="599" y="679.5" width="1" height="2.2" fill="#93754F" opacity="0.7"/>
<rect x="601" y="678.0" width="1" height="3.7" fill="#93754F"/>
<rect x="602" y="679.1" width="1" height="2.6" fill="#93754F"/>
<rect x="606" y="681.2" width="1" height="0.5" fill="#93754F" opacity="0.7"/>
<rect x="607" y="681.2" width="1" height="0.5" fill="#93754F"/>
<rect x="608" y="681.1" width="1" height="0.6" fill="#93754F"/>
<rect x="609" y="681.1" width="1" height="0.6" fill="#93754F" opacity="0.7"/>
<rect x="610" y="681.1" width="1" height="0.6" fill="#93754F"/>
<rect x="652" y="674.3" width="1" height="7.4" fill="#93754F" opacity="0.7"/>
<rect x="653" y="677.3" width="1" height="4.4" fill="#93754F"/>
<rect x="656" y="679.5" width="1" height="2.2" fill="#93754F"/>
<path d="M484.5,663.3H486.3V681.7H484.5" fill="none" stroke="#231F20" stroke-width="0.9"/>
<text x="483.7" y="666.5" font-size="7.6" text-anchor="end">1000</text>
<text x="483.7" y="684.3" font-size="7.6" text-anchor="end">0</text>
<text x="464.8" y="675.7" font-size="9.4" text-anchor="end">Visceral adipose</text>
<text x="606.9" y="668.9" font-size="8">TPM=3.28</text>
<line x1="485.80" y1="681.70" x2="666.30" y2="681.70" stroke="#000" stroke-width="1.4"/>
<line x1="666.30" y1="680.20" x2="666.30" y2="682.30" stroke="#000" stroke-width="0.9"/>
<line x1="576.40" y1="485.20" x2="576.40" y2="503.60" stroke="#3a3a3a" stroke-width="1.0" stroke-dasharray="2.2 1.8"/>
<line x1="576.40" y1="507.50" x2="576.40" y2="525.90" stroke="#3a3a3a" stroke-width="1.0" stroke-dasharray="2.2 1.8"/>
<line x1="576.40" y1="529.80" x2="576.40" y2="548.20" stroke="#3a3a3a" stroke-width="1.0" stroke-dasharray="2.2 1.8"/>
<line x1="576.40" y1="552.10" x2="576.40" y2="570.50" stroke="#3a3a3a" stroke-width="1.0" stroke-dasharray="2.2 1.8"/>
<line x1="576.40" y1="574.40" x2="576.40" y2="592.80" stroke="#3a3a3a" stroke-width="1.0" stroke-dasharray="2.2 1.8"/>
<line x1="576.40" y1="596.70" x2="576.40" y2="615.10" stroke="#3a3a3a" stroke-width="1.0" stroke-dasharray="2.2 1.8"/>
<line x1="576.40" y1="619.00" x2="576.40" y2="637.40" stroke="#3a3a3a" stroke-width="1.0" stroke-dasharray="2.2 1.8"/>
<line x1="576.40" y1="641.30" x2="576.40" y2="659.70" stroke="#3a3a3a" stroke-width="1.0" stroke-dasharray="2.2 1.8"/>
<line x1="576.40" y1="663.60" x2="576.40" y2="682.00" stroke="#3a3a3a" stroke-width="1.0" stroke-dasharray="2.2 1.8"/>
<line x1="576.40" y1="682.70" x2="576.40" y2="740.00" stroke="#3a3a3a" stroke-width="1.0" stroke-dasharray="2.2 1.8"/>
<line x1="585.60" y1="485.20" x2="585.60" y2="503.60" stroke="#3a3a3a" stroke-width="1.0" stroke-dasharray="2.2 1.8"/>
<line x1="585.60" y1="507.50" x2="585.60" y2="525.90" stroke="#3a3a3a" stroke-width="1.0" stroke-dasharray="2.2 1.8"/>
<line x1="585.60" y1="529.80" x2="585.60" y2="548.20" stroke="#3a3a3a" stroke-width="1.0" stroke-dasharray="2.2 1.8"/>
<line x1="585.60" y1="552.10" x2="585.60" y2="570.50" stroke="#3a3a3a" stroke-width="1.0" stroke-dasharray="2.2 1.8"/>
<line x1="585.60" y1="574.40" x2="585.60" y2="592.80" stroke="#3a3a3a" stroke-width="1.0" stroke-dasharray="2.2 1.8"/>
<line x1="585.60" y1="596.70" x2="585.60" y2="615.10" stroke="#3a3a3a" stroke-width="1.0" stroke-dasharray="2.2 1.8"/>
<line x1="585.60" y1="619.00" x2="585.60" y2="637.40" stroke="#3a3a3a" stroke-width="1.0" stroke-dasharray="2.2 1.8"/>
<line x1="585.60" y1="641.30" x2="585.60" y2="659.70" stroke="#3a3a3a" stroke-width="1.0" stroke-dasharray="2.2 1.8"/>
<line x1="585.60" y1="663.60" x2="585.60" y2="682.00" stroke="#3a3a3a" stroke-width="1.0" stroke-dasharray="2.2 1.8"/>
<line x1="585.60" y1="682.70" x2="585.60" y2="740.00" stroke="#3a3a3a" stroke-width="1.0" stroke-dasharray="2.2 1.8"/>
<text x="447.9" y="691.8" font-size="7.9">Chr. 4</text>
<text x="486.3" y="691.8" font-size="7.9" text-anchor="middle">142.08</text>
<text x="650.6" y="691.9" font-size="7.9">142.68Mb</text>
<text x="551.6" y="710.6" font-size="7.9" font-style="italic" fill="#231F20">PDIA6</text>
<line x1="564.5" y1="696.4" x2="564.5" y2="703.4" stroke="#888" stroke-width="1"/>
<line x1="566.5" y1="696.4" x2="566.5" y2="703.4" stroke="#444" stroke-width="1"/>
<line x1="567.5" y1="696.4" x2="567.5" y2="703.4" stroke="#222" stroke-width="1"/>
<line x1="568.5" y1="696.4" x2="568.5" y2="703.4" stroke="#333" stroke-width="1"/>
<line x1="569.5" y1="696.4" x2="569.5" y2="703.4" stroke="#111" stroke-width="1"/>
<line x1="570.5" y1="696.4" x2="570.5" y2="703.4" stroke="#222" stroke-width="1"/>
<text x="527.0" y="722.4" font-size="7.9" font-style="italic" fill="#231F20">KCNF1</text>
<line x1="541.5" y1="708.1" x2="541.5" y2="715.4" stroke="#111" stroke-width="1.0"/>
<text x="480.4" y="729.2" font-size="7.9" font-style="italic" fill="#231F20">C2ORF50</text>
<line x1="497.5" y1="716.3" x2="497.5" y2="723.0" stroke="#777" stroke-width="1.0"/>
<line x1="498.5" y1="716.3" x2="498.5" y2="723.0" stroke="#777" stroke-width="1.0"/>
<text x="472.3" y="747.6" font-size="7.9" font-style="italic" fill="#231F20">SLC66A3</text>
<rect x="491.4" y="732.0" width="2.9" height="7.0" fill="#333"/>
<line x1="492.5" y1="732.0" x2="492.5" y2="739.0" stroke="#000" stroke-width="1.0"/>
<text x="558.2" y="747.6" font-size="7.9" font-style="italic" fill="#FF1F1F">ATP6V1C2</text>
<line x1="576.4" y1="735.6" x2="585.6" y2="735.6" stroke="#888" stroke-width="0.6"/>
<line x1="577.5" y1="733.6" x2="577.5" y2="737.6" stroke="#888" stroke-width="1.0"/>
<line x1="584.5" y1="733.6" x2="584.5" y2="737.6" stroke="#888" stroke-width="1.0"/>
<text x="591.8" y="734.5" font-size="7.9" font-style="italic" fill="#231F20">NOL10</text>
<line x1="593.0" y1="723.6" x2="618.7" y2="723.6" stroke="#999" stroke-width="0.6"/>
<line x1="593.5" y1="720.3" x2="593.5" y2="727.0" stroke="#444" stroke-width="1"/>
<line x1="594.5" y1="720.3" x2="594.5" y2="727.0" stroke="#333" stroke-width="1"/>
<line x1="595.5" y1="720.3" x2="595.5" y2="727.0" stroke="#222" stroke-width="1"/>
<line x1="596.5" y1="720.3" x2="596.5" y2="727.0" stroke="#555" stroke-width="1"/>
<line x1="597.5" y1="720.3" x2="597.5" y2="727.0" stroke="#333" stroke-width="1"/>
<line x1="599.5" y1="720.3" x2="599.5" y2="727.0" stroke="#666" stroke-width="1"/>
<line x1="610.5" y1="720.3" x2="610.5" y2="727.0" stroke="#444" stroke-width="1"/>
<line x1="611.5" y1="720.3" x2="611.5" y2="727.0" stroke="#222" stroke-width="1"/>
<line x1="614.5" y1="720.3" x2="614.5" y2="727.0" stroke="#444" stroke-width="1"/>
<line x1="618.5" y1="720.3" x2="618.5" y2="727.0" stroke="#555" stroke-width="1"/>
<text x="639.2" y="722.3" font-size="7.9" font-style="italic" fill="#231F20">ODC1</text>
<line x1="651.5" y1="708.2" x2="651.5" y2="714.9" stroke="#111" stroke-width="1.4"/>
<text x="-0.2" y="766.6" font-size="15">f</text>
<line x1="25.40" y1="766.00" x2="25.40" y2="965.70" stroke="#6d6e71" stroke-width="1"/>
<text x="0" y="0" font-size="9.3" text-anchor="middle" transform="translate(16.9,869.9) rotate(-90)">RNA-seq signal</text>
<line x1="152.0" y1="786.9" x2="248.0" y2="786.9" stroke="#E4483A" stroke-width="0.7" stroke-dasharray="3.5 1.2" opacity="0.26"/>
<line x1="306.0" y1="786.9" x2="322.0" y2="786.9" stroke="#E4483A" stroke-width="0.7" stroke-dasharray="3.5 1.2" opacity="0.26"/>
<rect x="146" y="786.2" width="1" height="1.1" fill="#E4483A" opacity="0.7"/>
<rect x="147" y="786.0" width="1" height="1.3" fill="#E4483A"/>
<rect x="148" y="785.5" width="1" height="1.8" fill="#E4483A"/>
<rect x="149" y="785.8" width="1" height="1.5" fill="#E4483A" opacity="0.7"/>
<rect x="150" y="785.1" width="1" height="2.2" fill="#E4483A"/>
<rect x="151" y="785.3" width="1" height="2.0" fill="#E4483A"/>
<rect x="152" y="786.4" width="1" height="0.9" fill="#E4483A" opacity="0.7"/>
<rect x="320" y="786.2" width="1" height="1.1" fill="#E4483A" opacity="0.7"/>
<rect x="322" y="785.1" width="1" height="2.2" fill="#E4483A"/>
<path d="M142.8,768.9H144.6V787.3H142.8" fill="none" stroke="#231F20" stroke-width="0.9"/>
<text x="142.0" y="772.1" font-size="7.6" text-anchor="end">1000</text>
<text x="142.0" y="787.9" font-size="7.6" text-anchor="end">0</text>
<text x="123.0" y="781.3" font-size="9.4" text-anchor="end">Heart</text>
<text x="275.3" y="774.5" font-size="8">TPM=0</text>
<line x1="152.0" y1="809.2" x2="248.0" y2="809.2" stroke="#58BADB" stroke-width="0.7" stroke-dasharray="3.5 1.2" opacity="0.26"/>
<line x1="306.0" y1="809.2" x2="322.0" y2="809.2" stroke="#58BADB" stroke-width="0.7" stroke-dasharray="3.5 1.2" opacity="0.26"/>
<rect x="146" y="807.8" width="1" height="1.8" fill="#58BADB" opacity="0.7"/>
<rect x="147" y="807.4" width="1" height="2.2" fill="#58BADB"/>
<rect x="148" y="806.7" width="1" height="2.9" fill="#58BADB"/>
<rect x="149" y="807.0" width="1" height="2.6" fill="#58BADB" opacity="0.7"/>
<rect x="150" y="805.9" width="1" height="3.7" fill="#58BADB"/>
<rect x="151" y="806.3" width="1" height="3.3" fill="#58BADB"/>
<rect x="152" y="808.1" width="1" height="1.5" fill="#58BADB" opacity="0.7"/>
<rect x="320" y="807.9" width="1" height="1.7" fill="#58BADB" opacity="0.7"/>
<rect x="322" y="806.3" width="1" height="3.3" fill="#58BADB"/>
<rect x="157" y="808.1" width="1" height="1.5" fill="#58BADB" opacity="0.7"/>
<rect x="173" y="808.1" width="1" height="1.5" fill="#58BADB"/>
<rect x="178" y="808.5" width="1" height="1.1" fill="#58BADB"/>
<rect x="178" y="808.7" width="1" height="0.9" fill="#58BADB" opacity="0.7"/>
<rect x="186" y="808.7" width="1" height="0.9" fill="#58BADB"/>
<rect x="188" y="807.8" width="1" height="1.8" fill="#58BADB"/>
<rect x="190" y="807.4" width="1" height="2.2" fill="#58BADB" opacity="0.7"/>
<rect x="191" y="808.1" width="1" height="1.5" fill="#58BADB"/>
<rect x="193" y="807.4" width="1" height="2.2" fill="#58BADB"/>
<rect x="199" y="801.3" width="1" height="8.3" fill="#58BADB" opacity="0.7"/>
<rect x="200" y="798.6" width="1" height="11.0" fill="#58BADB"/>
<rect x="201" y="803.2" width="1" height="6.4" fill="#58BADB"/>
<rect x="202" y="799.5" width="1" height="10.1" fill="#58BADB" opacity="0.7"/>
<rect x="203" y="804.1" width="1" height="5.5" fill="#58BADB"/>
<rect x="206" y="804.1" width="1" height="5.5" fill="#58BADB" opacity="0.7"/>
<rect x="207" y="801.3" width="1" height="8.3" fill="#58BADB"/>
<rect x="208" y="797.6" width="1" height="12.0" fill="#58BADB"/>
<rect x="209" y="802.2" width="1" height="7.4" fill="#58BADB" opacity="0.7"/>
<rect x="210" y="795.8" width="1" height="13.8" fill="#58BADB"/>
<rect x="211" y="799.5" width="1" height="10.1" fill="#58BADB"/>
<rect x="212" y="803.2" width="1" height="6.4" fill="#58BADB" opacity="0.7"/>
<rect x="213" y="798.6" width="1" height="11.0" fill="#58BADB"/>
<rect x="214" y="801.3" width="1" height="8.3" fill="#58BADB"/>
<rect x="215" y="796.7" width="1" height="12.9" fill="#58BADB" opacity="0.7"/>
<rect x="216" y="800.4" width="1" height="9.2" fill="#58BADB"/>
<rect x="217" y="799.5" width="1" height="10.1" fill="#58BADB"/>
<rect x="218" y="792.1" width="1" height="17.5" fill="#58BADB" opacity="0.7"/>
<rect x="219" y="800.4" width="1" height="9.2" fill="#58BADB"/>
<rect x="220" y="802.2" width="1" height="7.4" fill="#58BADB"/>
<rect x="221" y="804.1" width="1" height="5.5" fill="#58BADB" opacity="0.7"/>
<rect x="234" y="792.1" width="1" height="17.5" fill="#3AA9D4"/>
<rect x="236" y="793.0" width="1" height="16.6" fill="#3AA9D4"/>
<rect x="246" y="807.4" width="1" height="2.2" fill="#58BADB" opacity="0.7"/>
<path d="M142.8,791.2H144.6V809.6H142.8" fill="none" stroke="#231F20" stroke-width="0.9"/>
<text x="142.0" y="794.4" font-size="7.6" text-anchor="end">1000</text>
<text x="142.0" y="810.2" font-size="7.6" text-anchor="end">0</text>
<text x="123.0" y="803.6" font-size="9.4" text-anchor="end">Kidney</text>
<text x="275.3" y="796.8" font-size="8">TPM=959.24</text>
<line x1="152.0" y1="831.5" x2="248.0" y2="831.5" stroke="#1C9E8C" stroke-width="0.7" stroke-dasharray="3.5 1.2" opacity="0.26"/>
<line x1="306.0" y1="831.5" x2="322.0" y2="831.5" stroke="#1C9E8C" stroke-width="0.7" stroke-dasharray="3.5 1.2" opacity="0.26"/>
<rect x="146" y="829.1" width="1" height="2.8" fill="#1C9E8C" opacity="0.7"/>
<rect x="147" y="828.6" width="1" height="3.3" fill="#1C9E8C"/>
<rect x="148" y="827.5" width="1" height="4.4" fill="#1C9E8C"/>
<rect x="149" y="828.0" width="1" height="3.9" fill="#1C9E8C" opacity="0.7"/>
<rect x="150" y="826.4" width="1" height="5.5" fill="#1C9E8C"/>
<rect x="151" y="826.9" width="1" height="5.0" fill="#1C9E8C"/>
<rect x="152" y="829.7" width="1" height="2.2" fill="#1C9E8C" opacity="0.7"/>
<rect x="320" y="829.1" width="1" height="2.8" fill="#1C9E8C" opacity="0.7"/>
<rect x="322" y="826.4" width="1" height="5.5" fill="#1C9E8C"/>
<path d="M142.8,813.5H144.6V831.9H142.8" fill="none" stroke="#231F20" stroke-width="0.9"/>
<text x="142.0" y="816.7" font-size="7.6" text-anchor="end">1000</text>
<text x="142.0" y="832.5" font-size="7.6" text-anchor="end">0</text>
<text x="123.0" y="825.9" font-size="9.4" text-anchor="end">Large intestine</text>
<text x="275.3" y="819.1" font-size="8">TPM=0</text>
<line x1="152.0" y1="853.8" x2="248.0" y2="853.8" stroke="#34528F" stroke-width="0.7" stroke-dasharray="3.5 1.2" opacity="0.26"/>
<line x1="306.0" y1="853.8" x2="322.0" y2="853.8" stroke="#34528F" stroke-width="0.7" stroke-dasharray="3.5 1.2" opacity="0.26"/>
<rect x="146" y="853.1" width="1" height="1.1" fill="#34528F" opacity="0.7"/>
<rect x="147" y="852.9" width="1" height="1.3" fill="#34528F"/>
<rect x="148" y="852.4" width="1" height="1.8" fill="#34528F"/>
<rect x="149" y="852.7" width="1" height="1.5" fill="#34528F" opacity="0.7"/>
<rect x="150" y="852.0" width="1" height="2.2" fill="#34528F"/>
<rect x="151" y="852.2" width="1" height="2.0" fill="#34528F"/>
<rect x="152" y="853.3" width="1" height="0.9" fill="#34528F" opacity="0.7"/>
<rect x="320" y="851.9" width="1" height="2.3" fill="#34528F" opacity="0.7"/>
<rect x="322" y="849.6" width="1" height="4.6" fill="#34528F"/>
<path d="M142.8,835.8H144.6V854.2H142.8" fill="none" stroke="#231F20" stroke-width="0.9"/>
<text x="142.0" y="839.0" font-size="7.6" text-anchor="end">1000</text>
<text x="142.0" y="854.8" font-size="7.6" text-anchor="end">0</text>
<text x="123.0" y="848.2" font-size="9.4" text-anchor="end">Liver</text>
<text x="275.3" y="841.4" font-size="8">TPM=9.81</text>
<line x1="152.0" y1="876.1" x2="248.0" y2="876.1" stroke="#F39A80" stroke-width="0.7" stroke-dasharray="3.5 1.2" opacity="0.26"/>
<line x1="306.0" y1="876.1" x2="322.0" y2="876.1" stroke="#F39A80" stroke-width="0.7" stroke-dasharray="3.5 1.2" opacity="0.26"/>
<rect x="146" y="875.9" width="1" height="0.6" fill="#F39A80" opacity="0.7"/>
<rect x="147" y="875.8" width="1" height="0.7" fill="#F39A80"/>
<rect x="148" y="875.6" width="1" height="0.9" fill="#F39A80"/>
<rect x="149" y="875.7" width="1" height="0.8" fill="#F39A80" opacity="0.7"/>
<rect x="150" y="875.4" width="1" height="1.1" fill="#F39A80"/>
<rect x="151" y="875.5" width="1" height="1.0" fill="#F39A80"/>
<rect x="152" y="876.1" width="1" height="0.4" fill="#F39A80" opacity="0.7"/>
<rect x="320" y="871.4" width="1" height="5.1" fill="#F39A80" opacity="0.7"/>
<rect x="322" y="866.4" width="1" height="10.1" fill="#F39A80"/>
<rect x="237" y="872.8" width="1" height="3.7" fill="#F39A80" opacity="0.7"/>
<path d="M142.8,858.1H144.6V876.5H142.8" fill="none" stroke="#231F20" stroke-width="0.9"/>
<text x="142.0" y="861.3" font-size="7.6" text-anchor="end">1000</text>
<text x="142.0" y="877.1" font-size="7.6" text-anchor="end">0</text>
<text x="123.0" y="870.5" font-size="9.4" text-anchor="end">Lung</text>
<text x="275.3" y="863.7" font-size="8">TPM=71.88</text>
<line x1="152.0" y1="898.4" x2="248.0" y2="898.4" stroke="#7D8CC6" stroke-width="0.7" stroke-dasharray="3.5 1.2" opacity="0.26"/>
<line x1="306.0" y1="898.4" x2="322.0" y2="898.4" stroke="#7D8CC6" stroke-width="0.7" stroke-dasharray="3.5 1.2" opacity="0.26"/>
<rect x="146" y="898.1" width="1" height="0.7" fill="#7D8CC6" opacity="0.7"/>
<rect x="147" y="897.9" width="1" height="0.9" fill="#7D8CC6"/>
<rect x="148" y="897.6" width="1" height="1.2" fill="#7D8CC6"/>
<rect x="149" y="897.8" width="1" height="1.0" fill="#7D8CC6" opacity="0.7"/>
<rect x="150" y="897.3" width="1" height="1.5" fill="#7D8CC6"/>
<rect x="151" y="897.5" width="1" height="1.3" fill="#7D8CC6"/>
<rect x="152" y="898.2" width="1" height="0.6" fill="#7D8CC6" opacity="0.7"/>
<rect x="320" y="898.2" width="1" height="0.6" fill="#7D8CC6" opacity="0.7"/>
<rect x="322" y="897.7" width="1" height="1.1" fill="#7D8CC6"/>
<path d="M142.8,880.4H144.6V898.8H142.8" fill="none" stroke="#231F20" stroke-width="0.9"/>
<text x="142.0" y="883.6" font-size="7.6" text-anchor="end">1000</text>
<text x="142.0" y="899.4" font-size="7.6" text-anchor="end">0</text>
<text x="123.0" y="892.8" font-size="9.4" text-anchor="end">Muscle</text>
<text x="275.3" y="886.0" font-size="8">TPM=0</text>
<line x1="152.0" y1="920.7" x2="248.0" y2="920.7" stroke="#68C4A9" stroke-width="0.7" stroke-dasharray="3.5 1.2" opacity="0.26"/>
<line x1="306.0" y1="920.7" x2="322.0" y2="920.7" stroke="#68C4A9" stroke-width="0.7" stroke-dasharray="3.5 1.2" opacity="0.26"/>
<rect x="146" y="920.2" width="1" height="0.9" fill="#68C4A9" opacity="0.7"/>
<rect x="147" y="920.0" width="1" height="1.1" fill="#68C4A9"/>
<rect x="148" y="919.6" width="1" height="1.5" fill="#68C4A9"/>
<rect x="149" y="919.8" width="1" height="1.3" fill="#68C4A9" opacity="0.7"/>
<rect x="150" y="919.3" width="1" height="1.8" fill="#68C4A9"/>
<rect x="151" y="919.4" width="1" height="1.7" fill="#68C4A9"/>
<rect x="152" y="920.4" width="1" height="0.7" fill="#68C4A9" opacity="0.7"/>
<rect x="320" y="920.2" width="1" height="0.9" fill="#68C4A9" opacity="0.7"/>
<rect x="322" y="919.3" width="1" height="1.8" fill="#68C4A9"/>
<path d="M142.8,902.7H144.6V921.1H142.8" fill="none" stroke="#231F20" stroke-width="0.9"/>
<text x="142.0" y="905.9" font-size="7.6" text-anchor="end">1000</text>
<text x="142.0" y="921.7" font-size="7.6" text-anchor="end">0</text>
<text x="123.0" y="915.1" font-size="9.4" text-anchor="end">Small intestine</text>
<text x="275.3" y="908.3" font-size="8">TPM=0</text>
<line x1="152.0" y1="943.0" x2="248.0" y2="943.0" stroke="#E31B1F" stroke-width="0.7" stroke-dasharray="3.5 1.2" opacity="0.26"/>
<line x1="306.0" y1="943.0" x2="322.0" y2="943.0" stroke="#E31B1F" stroke-width="0.7" stroke-dasharray="3.5 1.2" opacity="0.26"/>
<rect x="146" y="940.8" width="1" height="2.6" fill="#E31B1F" opacity="0.7"/>
<rect x="147" y="940.3" width="1" height="3.1" fill="#E31B1F"/>
<rect x="148" y="939.3" width="1" height="4.1" fill="#E31B1F"/>
<rect x="149" y="939.8" width="1" height="3.6" fill="#E31B1F" opacity="0.7"/>
<rect x="150" y="938.2" width="1" height="5.2" fill="#E31B1F"/>
<rect x="151" y="938.8" width="1" height="4.6" fill="#E31B1F"/>
<rect x="152" y="941.3" width="1" height="2.1" fill="#E31B1F" opacity="0.7"/>
<rect x="320" y="942.5" width="1" height="0.9" fill="#E31B1F" opacity="0.7"/>
<rect x="322" y="941.6" width="1" height="1.8" fill="#E31B1F"/>
<path d="M142.8,925.0H144.6V943.4H142.8" fill="none" stroke="#231F20" stroke-width="0.9"/>
<text x="142.0" y="928.2" font-size="7.6" text-anchor="end">1000</text>
<text x="142.0" y="944.0" font-size="7.6" text-anchor="end">0</text>
<text x="123.0" y="937.4" font-size="9.4" text-anchor="end">Subcutaneous adipose</text>
<text x="275.3" y="930.6" font-size="8">TPM=0</text>
<line x1="152.0" y1="965.3" x2="248.0" y2="965.3" stroke="#93754F" stroke-width="0.7" stroke-dasharray="3.5 1.2" opacity="0.26"/>
<line x1="306.0" y1="965.3" x2="322.0" y2="965.3" stroke="#93754F" stroke-width="0.7" stroke-dasharray="3.5 1.2" opacity="0.26"/>
<rect x="146" y="965.2" width="1" height="0.5" fill="#93754F" opacity="0.7"/>
<rect x="147" y="965.1" width="1" height="0.6" fill="#93754F"/>
<rect x="148" y="965.0" width="1" height="0.7" fill="#93754F"/>
<rect x="149" y="965.1" width="1" height="0.6" fill="#93754F" opacity="0.7"/>
<rect x="150" y="964.8" width="1" height="0.9" fill="#93754F"/>
<rect x="151" y="964.9" width="1" height="0.8" fill="#93754F"/>
<rect x="152" y="965.3" width="1" height="0.4" fill="#93754F" opacity="0.7"/>
<rect x="320" y="965.3" width="1" height="0.4" fill="#93754F" opacity="0.7"/>
<rect x="322" y="965.0" width="1" height="0.7" fill="#93754F"/>
<path d="M142.8,947.3H144.6V965.7H142.8" fill="none" stroke="#231F20" stroke-width="0.9"/>
<text x="142.0" y="950.5" font-size="7.6" text-anchor="end">1000</text>
<text x="142.0" y="968.3" font-size="7.6" text-anchor="end">0</text>
<text x="123.0" y="959.7" font-size="9.4" text-anchor="end">Visceral adipose</text>
<text x="275.3" y="952.9" font-size="8">TPM=0</text>
<line x1="144.10" y1="965.70" x2="324.00" y2="965.70" stroke="#000" stroke-width="1.4"/>
<line x1="324.00" y1="964.20" x2="324.00" y2="966.30" stroke="#000" stroke-width="0.9"/>
<line x1="234.20" y1="769.20" x2="234.20" y2="787.60" stroke="#3a3a3a" stroke-width="1.0" stroke-dasharray="2.2 1.8"/>
<line x1="234.20" y1="791.50" x2="234.20" y2="809.90" stroke="#3a3a3a" stroke-width="1.0" stroke-dasharray="2.2 1.8"/>
<line x1="234.20" y1="813.80" x2="234.20" y2="832.20" stroke="#3a3a3a" stroke-width="1.0" stroke-dasharray="2.2 1.8"/>
<line x1="234.20" y1="836.10" x2="234.20" y2="854.50" stroke="#3a3a3a" stroke-width="1.0" stroke-dasharray="2.2 1.8"/>
<line x1="234.20" y1="858.40" x2="234.20" y2="876.80" stroke="#3a3a3a" stroke-width="1.0" stroke-dasharray="2.2 1.8"/>
<line x1="234.20" y1="880.70" x2="234.20" y2="899.10" stroke="#3a3a3a" stroke-width="1.0" stroke-dasharray="2.2 1.8"/>
<line x1="234.20" y1="903.00" x2="234.20" y2="921.40" stroke="#3a3a3a" stroke-width="1.0" stroke-dasharray="2.2 1.8"/>
<line x1="234.20" y1="925.30" x2="234.20" y2="943.70" stroke="#3a3a3a" stroke-width="1.0" stroke-dasharray="2.2 1.8"/>
<line x1="234.20" y1="947.60" x2="234.20" y2="966.00" stroke="#3a3a3a" stroke-width="1.0" stroke-dasharray="2.2 1.8"/>
<line x1="234.20" y1="966.70" x2="234.20" y2="1032.00" stroke="#3a3a3a" stroke-width="1.0" stroke-dasharray="2.2 1.8"/>
<line x1="237.10" y1="769.20" x2="237.10" y2="787.60" stroke="#3a3a3a" stroke-width="1.0" stroke-dasharray="2.2 1.8"/>
<line x1="237.10" y1="791.50" x2="237.10" y2="809.90" stroke="#3a3a3a" stroke-width="1.0" stroke-dasharray="2.2 1.8"/>
<line x1="237.10" y1="813.80" x2="237.10" y2="832.20" stroke="#3a3a3a" stroke-width="1.0" stroke-dasharray="2.2 1.8"/>
<line x1="237.10" y1="836.10" x2="237.10" y2="854.50" stroke="#3a3a3a" stroke-width="1.0" stroke-dasharray="2.2 1.8"/>
<line x1="237.10" y1="858.40" x2="237.10" y2="876.80" stroke="#3a3a3a" stroke-width="1.0" stroke-dasharray="2.2 1.8"/>
<line x1="237.10" y1="880.70" x2="237.10" y2="899.10" stroke="#3a3a3a" stroke-width="1.0" stroke-dasharray="2.2 1.8"/>
<line x1="237.10" y1="903.00" x2="237.10" y2="921.40" stroke="#3a3a3a" stroke-width="1.0" stroke-dasharray="2.2 1.8"/>
<line x1="237.10" y1="925.30" x2="237.10" y2="943.70" stroke="#3a3a3a" stroke-width="1.0" stroke-dasharray="2.2 1.8"/>
<line x1="237.10" y1="947.60" x2="237.10" y2="966.00" stroke="#3a3a3a" stroke-width="1.0" stroke-dasharray="2.2 1.8"/>
<line x1="237.10" y1="966.70" x2="237.10" y2="1032.00" stroke="#3a3a3a" stroke-width="1.0" stroke-dasharray="2.2 1.8"/>
<text x="104.0" y="975.8" font-size="7.9">Chr. 1</text>
<text x="144.6" y="975.8" font-size="7.9" text-anchor="middle">187.38</text>
<text x="305.8" y="975.9" font-size="7.9">187.78Mb</text>
<text x="291.2" y="999.2" font-size="7.9" font-style="italic" fill="#231F20">ZC3HAV1L</text>
<line x1="310.8" y1="988.1" x2="318.1" y2="988.1" stroke="#777" stroke-width="0.6"/>
<line x1="311.5" y1="984.9" x2="311.5" y2="991.3" stroke="#444" stroke-width="1.0"/>
<line x1="313.5" y1="984.9" x2="313.5" y2="991.3" stroke="#444" stroke-width="1.0"/>
<line x1="314.5" y1="984.9" x2="314.5" y2="991.3" stroke="#444" stroke-width="1.0"/>
<line x1="316.5" y1="984.9" x2="316.5" y2="991.3" stroke="#444" stroke-width="1.0"/>
<line x1="317.5" y1="984.9" x2="317.5" y2="991.3" stroke="#444" stroke-width="1.0"/>
<text x="218.8" y="1005.9" font-size="7.9" font-style="italic" fill="#FF1F1F">TMEM213</text>
<line x1="234.5" y1="991.3" x2="234.5" y2="999.5" stroke="#333" stroke-width="1.0"/>
<line x1="236.5" y1="991.3" x2="236.5" y2="999.5" stroke="#333" stroke-width="1.0"/>
<text x="189.6" y="1021.1" font-size="7.9" font-style="italic" fill="#231F20">ATP6V0A4</text>
<line x1="199.9" y1="1011.0" x2="221.2" y2="1011.0" stroke="#777" stroke-width="0.6"/>
<line x1="200.5" y1="1007.3" x2="200.5" y2="1014.6" stroke="#222" stroke-width="1.0"/>
<line x1="201.5" y1="1007.3" x2="201.5" y2="1014.6" stroke="#222" stroke-width="1.0"/>
<line x1="204.5" y1="1007.3" x2="204.5" y2="1014.6" stroke="#222" stroke-width="1.0"/>
<line x1="206.5" y1="1007.3" x2="206.5" y2="1014.6" stroke="#222" stroke-width="1.0"/>
<line x1="208.5" y1="1007.3" x2="208.5" y2="1014.6" stroke="#222" stroke-width="1.0"/>
<line x1="209.5" y1="1007.3" x2="209.5" y2="1014.6" stroke="#222" stroke-width="1.0"/>
<line x1="211.5" y1="1007.3" x2="211.5" y2="1014.6" stroke="#222" stroke-width="1.0"/>
<line x1="212.5" y1="1007.3" x2="212.5" y2="1014.6" stroke="#222" stroke-width="1.0"/>
<line x1="214.5" y1="1007.3" x2="214.5" y2="1014.6" stroke="#222" stroke-width="1.0"/>
<line x1="215.5" y1="1007.3" x2="215.5" y2="1014.6" stroke="#222" stroke-width="1.0"/>
<line x1="217.5" y1="1007.3" x2="217.5" y2="1014.6" stroke="#222" stroke-width="1.0"/>
<line x1="218.5" y1="1007.3" x2="218.5" y2="1014.6" stroke="#222" stroke-width="1.0"/>
<line x1="220.5" y1="1007.3" x2="220.5" y2="1014.6" stroke="#222" stroke-width="1.0"/>
<text x="161.0" y="1037.4" font-size="7.9" font-style="italic" fill="#231F20">SVOPL</text>
<line x1="157.5" y1="1025.2" x2="194.0" y2="1025.2" stroke="#777" stroke-width="0.6"/>
<line x1="157.5" y1="1021.9" x2="157.5" y2="1028.6" stroke="#444" stroke-width="1.0"/>
<line x1="168.5" y1="1021.9" x2="168.5" y2="1028.6" stroke="#444" stroke-width="1.0"/>
<line x1="171.5" y1="1021.9" x2="171.5" y2="1028.6" stroke="#444" stroke-width="1.0"/>
<line x1="172.5" y1="1021.9" x2="172.5" y2="1028.6" stroke="#444" stroke-width="1.0"/>
<line x1="185.5" y1="1021.9" x2="185.5" y2="1028.6" stroke="#333" stroke-width="1.0"/>
<line x1="186.5" y1="1021.9" x2="186.5" y2="1028.6" stroke="#333" stroke-width="1.0"/>
<line x1="188.5" y1="1021.9" x2="188.5" y2="1028.6" stroke="#333" stroke-width="1.0"/>
<line x1="189.5" y1="1021.9" x2="189.5" y2="1028.6" stroke="#333" stroke-width="1.0"/>
<line x1="191.5" y1="1021.9" x2="191.5" y2="1028.6" stroke="#333" stroke-width="1.0"/>
<line x1="192.5" y1="1021.9" x2="192.5" y2="1028.6" stroke="#333" stroke-width="1.0"/>
<line x1="193.5" y1="1021.9" x2="193.5" y2="1028.6" stroke="#333" stroke-width="1.0"/>
<text x="342.6" y="766.6" font-size="15">g</text>
<line x1="366.00" y1="766.00" x2="366.00" y2="965.70" stroke="#6d6e71" stroke-width="1"/>
<text x="0" y="0" font-size="9.3" text-anchor="middle" transform="translate(357.3,869.8) rotate(-90)">RNA-seq signal</text>
<line x1="490.0" y1="786.9" x2="545.0" y2="786.9" stroke="#E4483A" stroke-width="0.7" stroke-dasharray="3.5 1.2" opacity="0.26"/>
<line x1="575.0" y1="786.9" x2="583.0" y2="786.9" stroke="#E4483A" stroke-width="0.7" stroke-dasharray="3.5 1.2" opacity="0.23"/>
<line x1="607.0" y1="786.9" x2="653.0" y2="786.9" stroke="#E4483A" stroke-width="0.7" stroke-dasharray="3.5 1.2" opacity="0.2"/>
<rect x="540" y="784.9" width="1" height="2.4" fill="#E4483A" opacity="0.7"/>
<rect x="541" y="786.4" width="1" height="0.9" fill="#E4483A"/>
<rect x="542" y="786.9" width="1" height="0.4" fill="#E4483A"/>
<rect x="543" y="786.3" width="1" height="1.0" fill="#E4483A" opacity="0.7"/>
<rect x="544" y="785.4" width="1" height="1.9" fill="#E4483A"/>
<rect x="544" y="786.5" width="1" height="0.8" fill="#E4483A"/>
<rect x="545" y="786.6" width="1" height="0.7" fill="#E4483A" opacity="0.7"/>
<rect x="545" y="783.6" width="1" height="3.7" fill="#E4483A" opacity="0.7"/>
<rect x="558" y="784.7" width="1" height="2.6" fill="#E4483A" opacity="0.7"/>
<rect x="559" y="785.1" width="1" height="2.2" fill="#E4483A"/>
<rect x="560" y="785.5" width="1" height="1.8" fill="#E4483A"/>
<rect x="560" y="784.7" width="1" height="2.6" fill="#E4483A" opacity="0.7"/>
<rect x="561" y="785.7" width="1" height="1.6" fill="#E4483A"/>
<rect x="562" y="785.1" width="1" height="2.2" fill="#E4483A"/>
<rect x="563" y="785.9" width="1" height="1.4" fill="#E4483A" opacity="0.7"/>
<rect x="583" y="782.7" width="1" height="4.6" fill="#E4483A" opacity="0.7"/>
<rect x="607" y="786.2" width="1" height="1.1" fill="#E4483A" opacity="0.7"/>
<rect x="608" y="785.7" width="1" height="1.6" fill="#E4483A"/>
<rect x="609" y="785.6" width="1" height="1.7" fill="#E4483A"/>
<rect x="610" y="785.6" width="1" height="1.7" fill="#E4483A" opacity="0.7"/>
<rect x="611" y="786.3" width="1" height="1.0" fill="#E4483A"/>
<rect x="611" y="786.0" width="1" height="1.3" fill="#E4483A"/>
<rect x="612" y="786.3" width="1" height="1.0" fill="#E4483A" opacity="0.7"/>
<rect x="613" y="786.6" width="1" height="0.7" fill="#E4483A"/>
<rect x="614" y="786.1" width="1" height="1.2" fill="#E4483A"/>
<rect x="615" y="785.7" width="1" height="1.6" fill="#E4483A" opacity="0.7"/>
<rect x="616" y="785.7" width="1" height="1.6" fill="#E4483A"/>
<rect x="617" y="785.8" width="1" height="1.5" fill="#E4483A"/>
<rect x="618" y="785.5" width="1" height="1.8" fill="#E4483A" opacity="0.7"/>
<rect x="619" y="786.4" width="1" height="0.9" fill="#E4483A"/>
<rect x="620" y="786.5" width="1" height="0.8" fill="#E4483A"/>
<rect x="623" y="782.4" width="1" height="4.9" fill="#E4483A" opacity="0.7"/>
<rect x="624" y="783.1" width="1" height="4.2" fill="#E4483A"/>
<rect x="625" y="783.4" width="1" height="3.9" fill="#E4483A"/>
<rect x="626" y="782.5" width="1" height="4.8" fill="#E4483A" opacity="0.7"/>
<rect x="627" y="781.6" width="1" height="5.7" fill="#E4483A"/>
<rect x="627" y="782.2" width="1" height="5.1" fill="#E4483A"/>
<rect x="628" y="783.0" width="1" height="4.3" fill="#E4483A" opacity="0.7"/>
<rect x="629" y="780.7" width="1" height="6.6" fill="#E4483A"/>
<rect x="630" y="780.0" width="1" height="7.3" fill="#E4483A"/>
<rect x="631" y="782.4" width="1" height="4.9" fill="#E4483A" opacity="0.7"/>
<rect x="632" y="784.0" width="1" height="3.3" fill="#E4483A"/>
<rect x="645" y="779.9" width="1" height="7.4" fill="#E4483A" opacity="0.7"/>
<rect x="651" y="778.1" width="1" height="9.2" fill="#E4483A"/>
<path d="M484.3,768.9H486.1V787.3H484.3" fill="none" stroke="#231F20" stroke-width="0.9"/>
<text x="483.5" y="772.1" font-size="7.6" text-anchor="end">1000</text>
<text x="483.5" y="787.9" font-size="7.6" text-anchor="end">0</text>
<text x="464.1" y="781.3" font-size="9.4" text-anchor="end">Heart</text>
<text x="613.5" y="774.5" font-size="8">TPM=0.21</text>
<line x1="525.0" y1="809.2" x2="545.0" y2="809.2" stroke="#58BADB" stroke-width="0.7" stroke-dasharray="3.5 1.2" opacity="0.26"/>
<line x1="575.0" y1="809.2" x2="583.0" y2="809.2" stroke="#58BADB" stroke-width="0.7" stroke-dasharray="3.5 1.2" opacity="0.23"/>
<line x1="607.0" y1="809.2" x2="653.0" y2="809.2" stroke="#58BADB" stroke-width="0.7" stroke-dasharray="3.5 1.2" opacity="0.2"/>
<rect x="540" y="809.2" width="1" height="0.4" fill="#58BADB" opacity="0.7"/>
<rect x="541" y="808.2" width="1" height="1.4" fill="#58BADB"/>
<rect x="542" y="809.2" width="1" height="0.4" fill="#58BADB"/>
<rect x="543" y="808.4" width="1" height="1.2" fill="#58BADB" opacity="0.7"/>
<rect x="544" y="808.6" width="1" height="1.0" fill="#58BADB"/>
<rect x="544" y="808.9" width="1" height="0.7" fill="#58BADB"/>
<rect x="545" y="808.3" width="1" height="1.3" fill="#58BADB" opacity="0.7"/>
<rect x="545" y="807.4" width="1" height="2.2" fill="#58BADB" opacity="0.7"/>
<rect x="558" y="807.5" width="1" height="2.1" fill="#58BADB" opacity="0.7"/>
<rect x="559" y="807.1" width="1" height="2.5" fill="#58BADB"/>
<rect x="560" y="806.1" width="1" height="3.5" fill="#58BADB"/>
<rect x="560" y="807.5" width="1" height="2.1" fill="#58BADB" opacity="0.7"/>
<rect x="561" y="805.0" width="1" height="4.6" fill="#58BADB"/>
<rect x="562" y="806.8" width="1" height="2.8" fill="#58BADB"/>
<rect x="563" y="807.1" width="1" height="2.5" fill="#58BADB" opacity="0.7"/>
<rect x="583" y="804.1" width="1" height="5.5" fill="#58BADB" opacity="0.7"/>
<rect x="607" y="807.8" width="1" height="1.8" fill="#58BADB" opacity="0.7"/>
<rect x="608" y="805.5" width="1" height="4.1" fill="#58BADB"/>
<rect x="609" y="806.2" width="1" height="3.4" fill="#58BADB"/>
<rect x="610" y="805.5" width="1" height="4.1" fill="#58BADB" opacity="0.7"/>
<rect x="611" y="805.4" width="1" height="4.2" fill="#58BADB"/>
<rect x="611" y="804.8" width="1" height="4.8" fill="#58BADB"/>
<rect x="612" y="804.2" width="1" height="5.4" fill="#58BADB" opacity="0.7"/>
<rect x="613" y="805.3" width="1" height="4.3" fill="#58BADB"/>
<rect x="614" y="807.2" width="1" height="2.4" fill="#58BADB"/>
<rect x="615" y="806.1" width="1" height="3.5" fill="#58BADB" opacity="0.7"/>
<rect x="616" y="807.3" width="1" height="2.3" fill="#58BADB"/>
<rect x="617" y="807.9" width="1" height="1.7" fill="#58BADB"/>
<rect x="618" y="806.1" width="1" height="3.5" fill="#58BADB" opacity="0.7"/>
<rect x="619" y="805.2" width="1" height="4.4" fill="#58BADB"/>
<rect x="620" y="807.3" width="1" height="2.3" fill="#58BADB"/>
<rect x="623" y="804.4" width="1" height="5.2" fill="#58BADB" opacity="0.7"/>
<rect x="624" y="804.0" width="1" height="5.6" fill="#58BADB"/>
<rect x="625" y="802.1" width="1" height="7.5" fill="#58BADB"/>
<rect x="626" y="803.0" width="1" height="6.6" fill="#58BADB" opacity="0.7"/>
<rect x="627" y="802.5" width="1" height="7.1" fill="#58BADB"/>
<rect x="627" y="801.7" width="1" height="7.9" fill="#58BADB"/>
<rect x="628" y="803.7" width="1" height="5.9" fill="#58BADB" opacity="0.7"/>
<rect x="629" y="801.5" width="1" height="8.1" fill="#58BADB"/>
<rect x="630" y="800.9" width="1" height="8.7" fill="#58BADB"/>
<rect x="631" y="805.4" width="1" height="4.2" fill="#58BADB" opacity="0.7"/>
<rect x="632" y="800.8" width="1" height="8.8" fill="#58BADB"/>
<rect x="645" y="798.6" width="1" height="11.0" fill="#58BADB" opacity="0.7"/>
<rect x="651" y="794.9" width="1" height="14.7" fill="#58BADB"/>
<rect x="571" y="791.2" width="3" height="18.4" fill="#4DB5DA"/>
<rect x="578" y="804.1" width="1" height="5.5" fill="#58BADB" opacity="0.7"/>
<path d="M484.3,791.2H486.1V809.6H484.3" fill="none" stroke="#231F20" stroke-width="0.9"/>
<text x="483.5" y="794.4" font-size="7.6" text-anchor="end">1000</text>
<text x="483.5" y="810.2" font-size="7.6" text-anchor="end">0</text>
<text x="464.1" y="803.6" font-size="9.4" text-anchor="end">Kidney</text>
<text x="613.5" y="796.8" font-size="8">TPM=833.64</text>
<line x1="490.0" y1="831.5" x2="545.0" y2="831.5" stroke="#1C9E8C" stroke-width="0.7" stroke-dasharray="3.5 1.2" opacity="0.26"/>
<line x1="575.0" y1="831.5" x2="583.0" y2="831.5" stroke="#1C9E8C" stroke-width="0.7" stroke-dasharray="3.5 1.2" opacity="0.23"/>
<line x1="607.0" y1="831.5" x2="653.0" y2="831.5" stroke="#1C9E8C" stroke-width="0.7" stroke-dasharray="3.5 1.2" opacity="0.2"/>
<rect x="540" y="830.4" width="1" height="1.5" fill="#1C9E8C" opacity="0.7"/>
<rect x="541" y="831.3" width="1" height="0.6" fill="#1C9E8C"/>
<rect x="542" y="830.8" width="1" height="1.1" fill="#1C9E8C"/>
<rect x="543" y="830.6" width="1" height="1.3" fill="#1C9E8C" opacity="0.7"/>
<rect x="544" y="830.1" width="1" height="1.8" fill="#1C9E8C"/>
<rect x="544" y="830.9" width="1" height="1.0" fill="#1C9E8C"/>
<rect x="545" y="830.6" width="1" height="1.3" fill="#1C9E8C" opacity="0.7"/>
<rect x="545" y="829.1" width="1" height="2.8" fill="#1C9E8C" opacity="0.7"/>
<rect x="558" y="829.9" width="1" height="2.0" fill="#1C9E8C" opacity="0.7"/>
<rect x="559" y="830.0" width="1" height="1.9" fill="#1C9E8C"/>
<rect x="560" y="829.8" width="1" height="2.1" fill="#1C9E8C"/>
<rect x="560" y="830.4" width="1" height="1.5" fill="#1C9E8C" opacity="0.7"/>
<rect x="561" y="830.2" width="1" height="1.7" fill="#1C9E8C"/>
<rect x="562" y="830.7" width="1" height="1.2" fill="#1C9E8C"/>
<rect x="563" y="830.1" width="1" height="1.8" fill="#1C9E8C" opacity="0.7"/>
<rect x="583" y="828.2" width="1" height="3.7" fill="#1C9E8C" opacity="0.7"/>
<rect x="607" y="829.5" width="1" height="2.4" fill="#1C9E8C" opacity="0.7"/>
<rect x="608" y="829.8" width="1" height="2.1" fill="#1C9E8C"/>
<rect x="609" y="829.7" width="1" height="2.2" fill="#1C9E8C"/>
<rect x="610" y="830.7" width="1" height="1.2" fill="#1C9E8C" opacity="0.7"/>
<rect x="611" y="829.3" width="1" height="2.6" fill="#1C9E8C"/>
<rect x="611" y="829.2" width="1" height="2.7" fill="#1C9E8C"/>
<rect x="612" y="829.2" width="1" height="2.7" fill="#1C9E8C" opacity="0.7"/>
<rect x="613" y="830.0" width="1" height="1.9" fill="#1C9E8C"/>
<rect x="614" y="829.5" width="1" height="2.4" fill="#1C9E8C"/>
<rect x="615" y="830.5" width="1" height="1.4" fill="#1C9E8C" opacity="0.7"/>
<rect x="616" y="829.3" width="1" height="2.6" fill="#1C9E8C"/>
<rect x="617" y="829.4" width="1" height="2.5" fill="#1C9E8C"/>
<rect x="618" y="830.4" width="1" height="1.5" fill="#1C9E8C" opacity="0.7"/>
<rect x="619" y="830.9" width="1" height="1.0" fill="#1C9E8C"/>
<rect x="620" y="830.2" width="1" height="1.7" fill="#1C9E8C"/>
<rect x="623" y="827.2" width="1" height="4.7" fill="#1C9E8C" opacity="0.7"/>
<rect x="624" y="826.4" width="1" height="5.5" fill="#1C9E8C"/>
<rect x="625" y="827.4" width="1" height="4.5" fill="#1C9E8C"/>
<rect x="626" y="829.2" width="1" height="2.7" fill="#1C9E8C" opacity="0.7"/>
<rect x="627" y="826.2" width="1" height="5.7" fill="#1C9E8C"/>
<rect x="627" y="829.1" width="1" height="2.8" fill="#1C9E8C"/>
<rect x="628" y="826.2" width="1" height="5.7" fill="#1C9E8C" opacity="0.7"/>
<rect x="629" y="828.7" width="1" height="3.2" fill="#1C9E8C"/>
<rect x="630" y="828.0" width="1" height="3.9" fill="#1C9E8C"/>
<rect x="631" y="826.3" width="1" height="5.6" fill="#1C9E8C" opacity="0.7"/>
<rect x="632" y="828.8" width="1" height="3.1" fill="#1C9E8C"/>
<rect x="645" y="823.6" width="1" height="8.3" fill="#1C9E8C" opacity="0.7"/>
<rect x="651" y="822.7" width="1" height="9.2" fill="#1C9E8C"/>
<path d="M484.3,813.5H486.1V831.9H484.3" fill="none" stroke="#231F20" stroke-width="0.9"/>
<text x="483.5" y="816.7" font-size="7.6" text-anchor="end">1000</text>
<text x="483.5" y="832.5" font-size="7.6" text-anchor="end">0</text>
<text x="464.1" y="825.9" font-size="9.4" text-anchor="end">Large intestine</text>
<text x="613.5" y="819.1" font-size="8">TPM=0.6</text>
<line x1="490.0" y1="853.8" x2="545.0" y2="853.8" stroke="#34528F" stroke-width="0.7" stroke-dasharray="3.5 1.2" opacity="0.26"/>
<line x1="575.0" y1="853.8" x2="583.0" y2="853.8" stroke="#34528F" stroke-width="0.7" stroke-dasharray="3.5 1.2" opacity="0.23"/>
<line x1="607.0" y1="853.8" x2="653.0" y2="853.8" stroke="#34528F" stroke-width="0.7" stroke-dasharray="3.5 1.2" opacity="0.2"/>
<rect x="540" y="853.8" width="1" height="0.4" fill="#34528F" opacity="0.7"/>
<rect x="541" y="853.6" width="1" height="0.6" fill="#34528F"/>
<rect x="542" y="853.5" width="1" height="0.7" fill="#34528F"/>
<rect x="543" y="853.5" width="1" height="0.7" fill="#34528F" opacity="0.7"/>
<rect x="544" y="853.6" width="1" height="0.6" fill="#34528F"/>
<rect x="544" y="853.4" width="1" height="0.8" fill="#34528F"/>
<rect x="545" y="853.6" width="1" height="0.6" fill="#34528F" opacity="0.7"/>
<rect x="545" y="853.1" width="1" height="1.1" fill="#34528F" opacity="0.7"/>
<rect x="558" y="848.8" width="1" height="5.4" fill="#34528F" opacity="0.7"/>
<rect x="559" y="851.7" width="1" height="2.5" fill="#34528F"/>
<rect x="560" y="851.3" width="1" height="2.9" fill="#34528F"/>
<rect x="560" y="850.2" width="1" height="4.0" fill="#34528F" opacity="0.7"/>
<rect x="561" y="851.0" width="1" height="3.2" fill="#34528F"/>
<rect x="562" y="849.6" width="1" height="4.6" fill="#34528F"/>
<rect x="563" y="849.9" width="1" height="4.3" fill="#34528F" opacity="0.7"/>
<rect x="583" y="853.3" width="1" height="0.9" fill="#34528F" opacity="0.7"/>
<rect x="607" y="852.7" width="1" height="1.5" fill="#34528F" opacity="0.7"/>
<rect x="608" y="852.2" width="1" height="2.0" fill="#34528F"/>
<rect x="609" y="852.7" width="1" height="1.5" fill="#34528F"/>
<rect x="610" y="853.1" width="1" height="1.1" fill="#34528F" opacity="0.7"/>
<rect x="611" y="852.9" width="1" height="1.3" fill="#34528F"/>
<rect x="611" y="852.2" width="1" height="2.0" fill="#34528F"/>
<rect x="612" y="852.1" width="1" height="2.1" fill="#34528F" opacity="0.7"/>
<rect x="613" y="853.2" width="1" height="1.0" fill="#34528F"/>
<rect x="614" y="852.2" width="1" height="2.0" fill="#34528F"/>
<rect x="615" y="852.0" width="1" height="2.2" fill="#34528F" opacity="0.7"/>
<rect x="616" y="852.7" width="1" height="1.5" fill="#34528F"/>
<rect x="617" y="852.7" width="1" height="1.5" fill="#34528F"/>
<rect x="618" y="853.2" width="1" height="1.0" fill="#34528F" opacity="0.7"/>
<rect x="619" y="852.7" width="1" height="1.5" fill="#34528F"/>
<rect x="620" y="852.8" width="1" height="1.4" fill="#34528F"/>
<rect x="623" y="850.0" width="1" height="4.2" fill="#34528F" opacity="0.7"/>
<rect x="624" y="851.9" width="1" height="2.3" fill="#34528F"/>
<rect x="625" y="848.8" width="1" height="5.4" fill="#34528F"/>
<rect x="626" y="850.3" width="1" height="3.9" fill="#34528F" opacity="0.7"/>
<rect x="627" y="850.7" width="1" height="3.5" fill="#34528F"/>
<rect x="627" y="849.3" width="1" height="4.9" fill="#34528F"/>
<rect x="628" y="850.1" width="1" height="4.1" fill="#34528F" opacity="0.7"/>
<rect x="629" y="850.4" width="1" height="3.8" fill="#34528F"/>
<rect x="630" y="849.7" width="1" height="4.5" fill="#34528F"/>
<rect x="631" y="851.8" width="1" height="2.4" fill="#34528F" opacity="0.7"/>
<rect x="632" y="850.2" width="1" height="4.0" fill="#34528F"/>
<rect x="645" y="848.7" width="1" height="5.5" fill="#34528F" opacity="0.7"/>
<rect x="651" y="848.7" width="1" height="5.5" fill="#34528F"/>
<path d="M484.3,835.8H486.1V854.2H484.3" fill="none" stroke="#231F20" stroke-width="0.9"/>
<text x="483.5" y="839.0" font-size="7.6" text-anchor="end">1000</text>
<text x="483.5" y="854.8" font-size="7.6" text-anchor="end">0</text>
<text x="464.1" y="848.2" font-size="9.4" text-anchor="end">Liver</text>
<text x="613.5" y="841.4" font-size="8">TPM=0.72</text>
<line x1="490.0" y1="876.1" x2="545.0" y2="876.1" stroke="#F39A80" stroke-width="0.7" stroke-dasharray="3.5 1.2" opacity="0.26"/>
<line x1="575.0" y1="876.1" x2="583.0" y2="876.1" stroke="#F39A80" stroke-width="0.7" stroke-dasharray="3.5 1.2" opacity="0.23"/>
<line x1="607.0" y1="876.1" x2="653.0" y2="876.1" stroke="#F39A80" stroke-width="0.7" stroke-dasharray="3.5 1.2" opacity="0.2"/>
<rect x="540" y="876.0" width="1" height="0.5" fill="#F39A80" opacity="0.7"/>
<rect x="541" y="875.9" width="1" height="0.6" fill="#F39A80"/>
<rect x="542" y="875.9" width="1" height="0.6" fill="#F39A80"/>
<rect x="543" y="876.1" width="1" height="0.4" fill="#F39A80" opacity="0.7"/>
<rect x="544" y="876.0" width="1" height="0.5" fill="#F39A80"/>
<rect x="544" y="876.1" width="1" height="0.4" fill="#F39A80"/>
<rect x="545" y="876.0" width="1" height="0.5" fill="#F39A80" opacity="0.7"/>
<rect x="545" y="875.6" width="1" height="0.9" fill="#F39A80" opacity="0.7"/>
<rect x="558" y="874.9" width="1" height="1.6" fill="#F39A80" opacity="0.7"/>
<rect x="559" y="874.8" width="1" height="1.7" fill="#F39A80"/>
<rect x="560" y="875.2" width="1" height="1.3" fill="#F39A80"/>
<rect x="560" y="875.4" width="1" height="1.1" fill="#F39A80" opacity="0.7"/>
<rect x="561" y="875.6" width="1" height="0.9" fill="#F39A80"/>
<rect x="562" y="875.1" width="1" height="1.4" fill="#F39A80"/>
<rect x="563" y="874.7" width="1" height="1.8" fill="#F39A80" opacity="0.7"/>
<rect x="583" y="874.7" width="1" height="1.8" fill="#F39A80" opacity="0.7"/>
<rect x="607" y="875.8" width="1" height="0.7" fill="#F39A80" opacity="0.7"/>
<rect x="608" y="874.9" width="1" height="1.6" fill="#F39A80"/>
<rect x="609" y="875.9" width="1" height="0.6" fill="#F39A80"/>
<rect x="610" y="875.7" width="1" height="0.8" fill="#F39A80" opacity="0.7"/>
<rect x="611" y="875.7" width="1" height="0.8" fill="#F39A80"/>
<rect x="611" y="875.1" width="1" height="1.4" fill="#F39A80"/>
<rect x="612" y="875.5" width="1" height="1.0" fill="#F39A80" opacity="0.7"/>
<rect x="613" y="875.5" width="1" height="1.0" fill="#F39A80"/>
<rect x="614" y="875.1" width="1" height="1.4" fill="#F39A80"/>
<rect x="615" y="875.8" width="1" height="0.7" fill="#F39A80" opacity="0.7"/>
<rect x="616" y="875.0" width="1" height="1.5" fill="#F39A80"/>
<rect x="617" y="875.8" width="1" height="0.7" fill="#F39A80"/>
<rect x="618" y="875.3" width="1" height="1.2" fill="#F39A80" opacity="0.7"/>
<rect x="619" y="875.6" width="1" height="0.9" fill="#F39A80"/>
<rect x="620" y="875.7" width="1" height="0.8" fill="#F39A80"/>
<rect x="623" y="873.9" width="1" height="2.6" fill="#F39A80" opacity="0.7"/>
<rect x="624" y="874.1" width="1" height="2.4" fill="#F39A80"/>
<rect x="625" y="874.2" width="1" height="2.3" fill="#F39A80"/>
<rect x="626" y="874.1" width="1" height="2.4" fill="#F39A80" opacity="0.7"/>
<rect x="627" y="873.9" width="1" height="2.6" fill="#F39A80"/>
<rect x="627" y="874.7" width="1" height="1.8" fill="#F39A80"/>
<rect x="628" y="874.6" width="1" height="1.9" fill="#F39A80" opacity="0.7"/>
<rect x="629" y="873.6" width="1" height="2.9" fill="#F39A80"/>
<rect x="630" y="873.6" width="1" height="2.9" fill="#F39A80"/>
<rect x="631" y="873.9" width="1" height="2.6" fill="#F39A80" opacity="0.7"/>
<rect x="632" y="873.1" width="1" height="3.4" fill="#F39A80"/>
<rect x="645" y="872.8" width="1" height="3.7" fill="#F39A80" opacity="0.7"/>
<rect x="651" y="871.9" width="1" height="4.6" fill="#F39A80"/>
<path d="M484.3,858.1H486.1V876.5H484.3" fill="none" stroke="#231F20" stroke-width="0.9"/>
<text x="483.5" y="861.3" font-size="7.6" text-anchor="end">1000</text>
<text x="483.5" y="877.1" font-size="7.6" text-anchor="end">0</text>
<text x="464.1" y="870.5" font-size="9.4" text-anchor="end">Lung</text>
<text x="613.5" y="863.7" font-size="8">TPM=1.46</text>
<line x1="490.0" y1="898.4" x2="545.0" y2="898.4" stroke="#7D8CC6" stroke-width="0.7" stroke-dasharray="3.5 1.2" opacity="0.26"/>
<line x1="575.0" y1="898.4" x2="583.0" y2="898.4" stroke="#7D8CC6" stroke-width="0.7" stroke-dasharray="3.5 1.2" opacity="0.23"/>
<line x1="607.0" y1="898.4" x2="653.0" y2="898.4" stroke="#7D8CC6" stroke-width="0.7" stroke-dasharray="3.5 1.2" opacity="0.2"/>
<rect x="540" y="898.4" width="1" height="0.4" fill="#7D8CC6" opacity="0.7"/>
<rect x="541" y="898.4" width="1" height="0.4" fill="#7D8CC6"/>
<rect x="542" y="898.4" width="1" height="0.4" fill="#7D8CC6"/>
<rect x="543" y="898.4" width="1" height="0.4" fill="#7D8CC6" opacity="0.7"/>
<rect x="544" y="898.4" width="1" height="0.4" fill="#7D8CC6"/>
<rect x="544" y="898.4" width="1" height="0.4" fill="#7D8CC6"/>
<rect x="545" y="898.4" width="1" height="0.4" fill="#7D8CC6" opacity="0.7"/>
<rect x="545" y="898.2" width="1" height="0.6" fill="#7D8CC6" opacity="0.7"/>
<rect x="558" y="898.3" width="1" height="0.5" fill="#7D8CC6" opacity="0.7"/>
<rect x="559" y="897.9" width="1" height="0.9" fill="#7D8CC6"/>
<rect x="560" y="898.3" width="1" height="0.5" fill="#7D8CC6"/>
<rect x="560" y="897.9" width="1" height="0.9" fill="#7D8CC6" opacity="0.7"/>
<rect x="561" y="897.9" width="1" height="0.9" fill="#7D8CC6"/>
<rect x="562" y="898.4" width="1" height="0.4" fill="#7D8CC6"/>
<rect x="563" y="898.3" width="1" height="0.5" fill="#7D8CC6" opacity="0.7"/>
<rect x="583" y="898.4" width="1" height="0.4" fill="#7D8CC6" opacity="0.7"/>
<rect x="607" y="898.1" width="1" height="0.7" fill="#7D8CC6" opacity="0.7"/>
<rect x="608" y="898.4" width="1" height="0.4" fill="#7D8CC6"/>
<rect x="609" y="898.5" width="1" height="0.3" fill="#7D8CC6"/>
<rect x="610" y="898.0" width="1" height="0.8" fill="#7D8CC6" opacity="0.7"/>
<rect x="611" y="898.3" width="1" height="0.5" fill="#7D8CC6"/>
<rect x="611" y="898.0" width="1" height="0.8" fill="#7D8CC6"/>
<rect x="612" y="898.4" width="1" height="0.4" fill="#7D8CC6" opacity="0.7"/>
<rect x="613" y="898.3" width="1" height="0.5" fill="#7D8CC6"/>
<rect x="614" y="898.1" width="1" height="0.7" fill="#7D8CC6"/>
<rect x="615" y="898.5" width="1" height="0.3" fill="#7D8CC6" opacity="0.7"/>
<rect x="616" y="898.4" width="1" height="0.4" fill="#7D8CC6"/>
<rect x="617" y="898.1" width="1" height="0.7" fill="#7D8CC6"/>
<rect x="618" y="897.9" width="1" height="0.9" fill="#7D8CC6" opacity="0.7"/>
<rect x="619" y="897.9" width="1" height="0.9" fill="#7D8CC6"/>
<rect x="620" y="898.4" width="1" height="0.4" fill="#7D8CC6"/>
<rect x="623" y="897.8" width="1" height="1.0" fill="#7D8CC6" opacity="0.7"/>
<rect x="624" y="897.5" width="1" height="1.3" fill="#7D8CC6"/>
<rect x="625" y="897.8" width="1" height="1.0" fill="#7D8CC6"/>
<rect x="626" y="897.6" width="1" height="1.2" fill="#7D8CC6" opacity="0.7"/>
<rect x="627" y="898.0" width="1" height="0.8" fill="#7D8CC6"/>
<rect x="627" y="898.1" width="1" height="0.7" fill="#7D8CC6"/>
<rect x="628" y="898.1" width="1" height="0.7" fill="#7D8CC6" opacity="0.7"/>
<rect x="629" y="898.2" width="1" height="0.6" fill="#7D8CC6"/>
<rect x="630" y="897.7" width="1" height="1.1" fill="#7D8CC6"/>
<rect x="631" y="897.8" width="1" height="1.0" fill="#7D8CC6" opacity="0.7"/>
<rect x="632" y="897.7" width="1" height="1.1" fill="#7D8CC6"/>
<rect x="645" y="897.0" width="1" height="1.8" fill="#7D8CC6" opacity="0.7"/>
<rect x="651" y="897.0" width="1" height="1.8" fill="#7D8CC6"/>
<path d="M484.3,880.4H486.1V898.8H484.3" fill="none" stroke="#231F20" stroke-width="0.9"/>
<text x="483.5" y="883.6" font-size="7.6" text-anchor="end">1000</text>
<text x="483.5" y="899.4" font-size="7.6" text-anchor="end">0</text>
<text x="464.1" y="892.8" font-size="9.4" text-anchor="end">Muscle</text>
<text x="613.5" y="886.0" font-size="8">TPM=0.06</text>
<line x1="490.0" y1="920.7" x2="545.0" y2="920.7" stroke="#68C4A9" stroke-width="0.7" stroke-dasharray="3.5 1.2" opacity="0.26"/>
<line x1="575.0" y1="920.7" x2="583.0" y2="920.7" stroke="#68C4A9" stroke-width="0.7" stroke-dasharray="3.5 1.2" opacity="0.23"/>
<line x1="607.0" y1="920.7" x2="653.0" y2="920.7" stroke="#68C4A9" stroke-width="0.7" stroke-dasharray="3.5 1.2" opacity="0.2"/>
<rect x="540" y="920.7" width="1" height="0.4" fill="#68C4A9" opacity="0.7"/>
<rect x="541" y="920.7" width="1" height="0.4" fill="#68C4A9"/>
<rect x="542" y="920.7" width="1" height="0.4" fill="#68C4A9"/>
<rect x="543" y="920.5" width="1" height="0.6" fill="#68C4A9" opacity="0.7"/>
<rect x="544" y="920.5" width="1" height="0.6" fill="#68C4A9"/>
<rect x="544" y="920.5" width="1" height="0.6" fill="#68C4A9"/>
<rect x="545" y="920.7" width="1" height="0.4" fill="#68C4A9" opacity="0.7"/>
<rect x="545" y="920.2" width="1" height="0.9" fill="#68C4A9" opacity="0.7"/>
<rect x="558" y="920.3" width="1" height="0.8" fill="#68C4A9" opacity="0.7"/>
<rect x="559" y="919.3" width="1" height="1.8" fill="#68C4A9"/>
<rect x="560" y="919.9" width="1" height="1.2" fill="#68C4A9"/>
<rect x="560" y="919.5" width="1" height="1.6" fill="#68C4A9" opacity="0.7"/>
<rect x="561" y="920.0" width="1" height="1.1" fill="#68C4A9"/>
<rect x="562" y="919.8" width="1" height="1.3" fill="#68C4A9"/>
<rect x="563" y="919.8" width="1" height="1.3" fill="#68C4A9" opacity="0.7"/>
<rect x="583" y="920.2" width="1" height="0.9" fill="#68C4A9" opacity="0.7"/>
<rect x="607" y="920.5" width="1" height="0.6" fill="#68C4A9" opacity="0.7"/>
<rect x="608" y="920.4" width="1" height="0.7" fill="#68C4A9"/>
<rect x="609" y="920.8" width="1" height="0.3" fill="#68C4A9"/>
<rect x="610" y="920.4" width="1" height="0.7" fill="#68C4A9" opacity="0.7"/>
<rect x="611" y="920.3" width="1" height="0.8" fill="#68C4A9"/>
<rect x="611" y="920.7" width="1" height="0.4" fill="#68C4A9"/>
<rect x="612" y="920.5" width="1" height="0.6" fill="#68C4A9" opacity="0.7"/>
<rect x="613" y="920.3" width="1" height="0.8" fill="#68C4A9"/>
<rect x="614" y="920.6" width="1" height="0.5" fill="#68C4A9"/>
<rect x="615" y="920.7" width="1" height="0.4" fill="#68C4A9" opacity="0.7"/>
<rect x="616" y="920.7" width="1" height="0.4" fill="#68C4A9"/>
<rect x="617" y="920.5" width="1" height="0.6" fill="#68C4A9"/>
<rect x="618" y="920.8" width="1" height="0.3" fill="#68C4A9" opacity="0.7"/>
<rect x="619" y="920.2" width="1" height="0.9" fill="#68C4A9"/>
<rect x="620" y="920.3" width="1" height="0.8" fill="#68C4A9"/>
<rect x="623" y="919.6" width="1" height="1.5" fill="#68C4A9" opacity="0.7"/>
<rect x="624" y="919.4" width="1" height="1.7" fill="#68C4A9"/>
<rect x="625" y="919.7" width="1" height="1.4" fill="#68C4A9"/>
<rect x="626" y="919.9" width="1" height="1.2" fill="#68C4A9" opacity="0.7"/>
<rect x="627" y="919.7" width="1" height="1.4" fill="#68C4A9"/>
<rect x="627" y="919.8" width="1" height="1.3" fill="#68C4A9"/>
<rect x="628" y="919.3" width="1" height="1.8" fill="#68C4A9" opacity="0.7"/>
<rect x="629" y="919.5" width="1" height="1.6" fill="#68C4A9"/>
<rect x="630" y="920.1" width="1" height="1.0" fill="#68C4A9"/>
<rect x="631" y="919.4" width="1" height="1.7" fill="#68C4A9" opacity="0.7"/>
<rect x="632" y="919.5" width="1" height="1.6" fill="#68C4A9"/>
<rect x="645" y="919.3" width="1" height="1.8" fill="#68C4A9" opacity="0.7"/>
<rect x="651" y="919.3" width="1" height="1.8" fill="#68C4A9"/>
<path d="M484.3,902.7H486.1V921.1H484.3" fill="none" stroke="#231F20" stroke-width="0.9"/>
<text x="483.5" y="905.9" font-size="7.6" text-anchor="end">1000</text>
<text x="483.5" y="921.7" font-size="7.6" text-anchor="end">0</text>
<text x="464.1" y="915.1" font-size="9.4" text-anchor="end">Small intestine</text>
<text x="613.5" y="908.3" font-size="8">TPM=0.98</text>
<line x1="490.0" y1="943.0" x2="545.0" y2="943.0" stroke="#E31B1F" stroke-width="0.7" stroke-dasharray="3.5 1.2" opacity="0.26"/>
<line x1="575.0" y1="943.0" x2="583.0" y2="943.0" stroke="#E31B1F" stroke-width="0.7" stroke-dasharray="3.5 1.2" opacity="0.23"/>
<line x1="607.0" y1="943.0" x2="653.0" y2="943.0" stroke="#E31B1F" stroke-width="0.7" stroke-dasharray="3.5 1.2" opacity="0.2"/>
<rect x="540" y="942.5" width="1" height="0.9" fill="#E31B1F" opacity="0.7"/>
<rect x="541" y="942.5" width="1" height="0.9" fill="#E31B1F"/>
<rect x="542" y="942.8" width="1" height="0.6" fill="#E31B1F"/>
<rect x="543" y="942.4" width="1" height="1.0" fill="#E31B1F" opacity="0.7"/>
<rect x="544" y="942.4" width="1" height="1.0" fill="#E31B1F"/>
<rect x="544" y="942.6" width="1" height="0.8" fill="#E31B1F"/>
<rect x="545" y="942.5" width="1" height="0.9" fill="#E31B1F" opacity="0.7"/>
<rect x="545" y="941.9" width="1" height="1.5" fill="#E31B1F" opacity="0.7"/>
<rect x="558" y="940.2" width="1" height="3.2" fill="#E31B1F" opacity="0.7"/>
<rect x="559" y="941.0" width="1" height="2.4" fill="#E31B1F"/>
<rect x="560" y="940.3" width="1" height="3.1" fill="#E31B1F"/>
<rect x="560" y="941.8" width="1" height="1.6" fill="#E31B1F" opacity="0.7"/>
<rect x="561" y="941.2" width="1" height="2.2" fill="#E31B1F"/>
<rect x="562" y="940.9" width="1" height="2.5" fill="#E31B1F"/>
<rect x="563" y="941.9" width="1" height="1.5" fill="#E31B1F" opacity="0.7"/>
<rect x="583" y="942.5" width="1" height="0.9" fill="#E31B1F" opacity="0.7"/>
<rect x="607" y="941.9" width="1" height="1.5" fill="#E31B1F" opacity="0.7"/>
<rect x="608" y="941.3" width="1" height="2.1" fill="#E31B1F"/>
<rect x="609" y="941.4" width="1" height="2.0" fill="#E31B1F"/>
<rect x="610" y="942.1" width="1" height="1.3" fill="#E31B1F" opacity="0.7"/>
<rect x="611" y="940.7" width="1" height="2.7" fill="#E31B1F"/>
<rect x="611" y="941.3" width="1" height="2.1" fill="#E31B1F"/>
<rect x="612" y="941.9" width="1" height="1.5" fill="#E31B1F" opacity="0.7"/>
<rect x="613" y="941.3" width="1" height="2.1" fill="#E31B1F"/>
<rect x="614" y="941.5" width="1" height="1.9" fill="#E31B1F"/>
<rect x="615" y="941.5" width="1" height="1.9" fill="#E31B1F" opacity="0.7"/>
<rect x="616" y="941.8" width="1" height="1.6" fill="#E31B1F"/>
<rect x="617" y="940.6" width="1" height="2.8" fill="#E31B1F"/>
<rect x="618" y="941.3" width="1" height="2.1" fill="#E31B1F" opacity="0.7"/>
<rect x="619" y="941.2" width="1" height="2.2" fill="#E31B1F"/>
<rect x="620" y="941.1" width="1" height="2.3" fill="#E31B1F"/>
<rect x="623" y="937.9" width="1" height="5.5" fill="#E31B1F" opacity="0.7"/>
<rect x="624" y="941.1" width="1" height="2.3" fill="#E31B1F"/>
<rect x="625" y="939.2" width="1" height="4.2" fill="#E31B1F"/>
<rect x="626" y="938.7" width="1" height="4.7" fill="#E31B1F" opacity="0.7"/>
<rect x="627" y="940.3" width="1" height="3.1" fill="#E31B1F"/>
<rect x="627" y="939.9" width="1" height="3.5" fill="#E31B1F"/>
<rect x="628" y="941.0" width="1" height="2.4" fill="#E31B1F" opacity="0.7"/>
<rect x="629" y="940.5" width="1" height="2.9" fill="#E31B1F"/>
<rect x="630" y="939.9" width="1" height="3.5" fill="#E31B1F"/>
<rect x="631" y="940.9" width="1" height="2.5" fill="#E31B1F" opacity="0.7"/>
<rect x="632" y="940.4" width="1" height="3.0" fill="#E31B1F"/>
<rect x="645" y="939.7" width="1" height="3.7" fill="#E31B1F" opacity="0.7"/>
<rect x="651" y="937.9" width="1" height="5.5" fill="#E31B1F"/>
<path d="M484.3,925.0H486.1V943.4H484.3" fill="none" stroke="#231F20" stroke-width="0.9"/>
<text x="483.5" y="928.2" font-size="7.6" text-anchor="end">1000</text>
<text x="483.5" y="944.0" font-size="7.6" text-anchor="end">0</text>
<text x="464.1" y="937.4" font-size="9.4" text-anchor="end">Subcutaneous adipose</text>
<text x="613.5" y="930.6" font-size="8">TPM=0.16</text>
<line x1="490.0" y1="965.3" x2="545.0" y2="965.3" stroke="#93754F" stroke-width="0.7" stroke-dasharray="3.5 1.2" opacity="0.26"/>
<line x1="575.0" y1="965.3" x2="583.0" y2="965.3" stroke="#93754F" stroke-width="0.7" stroke-dasharray="3.5 1.2" opacity="0.23"/>
<line x1="607.0" y1="965.3" x2="653.0" y2="965.3" stroke="#93754F" stroke-width="0.7" stroke-dasharray="3.5 1.2" opacity="0.2"/>
<rect x="540" y="965.3" width="1" height="0.4" fill="#93754F" opacity="0.7"/>
<rect x="541" y="965.3" width="1" height="0.4" fill="#93754F"/>
<rect x="542" y="965.3" width="1" height="0.4" fill="#93754F"/>
<rect x="543" y="965.3" width="1" height="0.4" fill="#93754F" opacity="0.7"/>
<rect x="544" y="965.3" width="1" height="0.4" fill="#93754F"/>
<rect x="544" y="965.3" width="1" height="0.4" fill="#93754F"/>
<rect x="545" y="965.3" width="1" height="0.4" fill="#93754F" opacity="0.7"/>
<rect x="545" y="965.1" width="1" height="0.6" fill="#93754F" opacity="0.7"/>
<rect x="558" y="963.3" width="1" height="2.4" fill="#93754F" opacity="0.7"/>
<rect x="559" y="964.5" width="1" height="1.2" fill="#93754F"/>
<rect x="560" y="963.6" width="1" height="2.1" fill="#93754F"/>
<rect x="560" y="963.3" width="1" height="2.4" fill="#93754F" opacity="0.7"/>
<rect x="561" y="964.5" width="1" height="1.2" fill="#93754F"/>
<rect x="562" y="963.1" width="1" height="2.6" fill="#93754F"/>
<rect x="563" y="964.3" width="1" height="1.4" fill="#93754F" opacity="0.7"/>
<rect x="583" y="965.3" width="1" height="0.4" fill="#93754F" opacity="0.7"/>
<rect x="607" y="964.5" width="1" height="1.2" fill="#93754F" opacity="0.7"/>
<rect x="608" y="964.9" width="1" height="0.8" fill="#93754F"/>
<rect x="609" y="964.5" width="1" height="1.2" fill="#93754F"/>
<rect x="610" y="964.4" width="1" height="1.3" fill="#93754F" opacity="0.7"/>
<rect x="611" y="965.1" width="1" height="0.6" fill="#93754F"/>
<rect x="611" y="963.9" width="1" height="1.8" fill="#93754F"/>
<rect x="612" y="964.6" width="1" height="1.1" fill="#93754F" opacity="0.7"/>
<rect x="613" y="964.5" width="1" height="1.2" fill="#93754F"/>
<rect x="614" y="964.4" width="1" height="1.3" fill="#93754F"/>
<rect x="615" y="964.7" width="1" height="1.0" fill="#93754F" opacity="0.7"/>
<rect x="616" y="964.8" width="1" height="0.9" fill="#93754F"/>
<rect x="617" y="964.3" width="1" height="1.4" fill="#93754F"/>
<rect x="618" y="964.4" width="1" height="1.3" fill="#93754F" opacity="0.7"/>
<rect x="619" y="964.8" width="1" height="0.9" fill="#93754F"/>
<rect x="620" y="964.2" width="1" height="1.5" fill="#93754F"/>
<rect x="623" y="964.1" width="1" height="1.6" fill="#93754F" opacity="0.7"/>
<rect x="624" y="964.6" width="1" height="1.1" fill="#93754F"/>
<rect x="625" y="964.2" width="1" height="1.5" fill="#93754F"/>
<rect x="626" y="964.5" width="1" height="1.2" fill="#93754F" opacity="0.7"/>
<rect x="627" y="964.3" width="1" height="1.4" fill="#93754F"/>
<rect x="627" y="963.3" width="1" height="2.4" fill="#93754F"/>
<rect x="628" y="964.0" width="1" height="1.7" fill="#93754F" opacity="0.7"/>
<rect x="629" y="963.1" width="1" height="2.6" fill="#93754F"/>
<rect x="630" y="963.4" width="1" height="2.3" fill="#93754F"/>
<rect x="631" y="964.5" width="1" height="1.2" fill="#93754F" opacity="0.7"/>
<rect x="632" y="963.0" width="1" height="2.7" fill="#93754F"/>
<rect x="645" y="963.9" width="1" height="1.8" fill="#93754F" opacity="0.7"/>
<rect x="651" y="962.9" width="1" height="2.8" fill="#93754F"/>
<path d="M484.3,947.3H486.1V965.7H484.3" fill="none" stroke="#231F20" stroke-width="0.9"/>
<text x="483.5" y="950.5" font-size="7.6" text-anchor="end">1000</text>
<text x="483.5" y="968.3" font-size="7.6" text-anchor="end">0</text>
<text x="464.1" y="959.7" font-size="9.4" text-anchor="end">Visceral adipose</text>
<text x="613.5" y="952.9" font-size="8">TPM=0.16</text>
<line x1="485.60" y1="965.70" x2="666.30" y2="965.70" stroke="#000" stroke-width="1.4"/>
<line x1="666.30" y1="964.20" x2="666.30" y2="966.30" stroke="#000" stroke-width="0.9"/>
<line x1="571.40" y1="769.20" x2="571.40" y2="787.60" stroke="#3a3a3a" stroke-width="1.0" stroke-dasharray="2.2 1.8"/>
<line x1="571.40" y1="791.50" x2="571.40" y2="809.90" stroke="#3a3a3a" stroke-width="1.0" stroke-dasharray="2.2 1.8"/>
<line x1="571.40" y1="813.80" x2="571.40" y2="832.20" stroke="#3a3a3a" stroke-width="1.0" stroke-dasharray="2.2 1.8"/>
<line x1="571.40" y1="836.10" x2="571.40" y2="854.50" stroke="#3a3a3a" stroke-width="1.0" stroke-dasharray="2.2 1.8"/>
<line x1="571.40" y1="858.40" x2="571.40" y2="876.80" stroke="#3a3a3a" stroke-width="1.0" stroke-dasharray="2.2 1.8"/>
<line x1="571.40" y1="880.70" x2="571.40" y2="899.10" stroke="#3a3a3a" stroke-width="1.0" stroke-dasharray="2.2 1.8"/>
<line x1="571.40" y1="903.00" x2="571.40" y2="921.40" stroke="#3a3a3a" stroke-width="1.0" stroke-dasharray="2.2 1.8"/>
<line x1="571.40" y1="925.30" x2="571.40" y2="943.70" stroke="#3a3a3a" stroke-width="1.0" stroke-dasharray="2.2 1.8"/>
<line x1="571.40" y1="947.60" x2="571.40" y2="966.00" stroke="#3a3a3a" stroke-width="1.0" stroke-dasharray="2.2 1.8"/>
<line x1="571.40" y1="966.70" x2="571.40" y2="1031.00" stroke="#3a3a3a" stroke-width="1.0" stroke-dasharray="2.2 1.8"/>
<line x1="573.60" y1="769.20" x2="573.60" y2="787.60" stroke="#3a3a3a" stroke-width="1.0" stroke-dasharray="2.2 1.8"/>
<line x1="573.60" y1="791.50" x2="573.60" y2="809.90" stroke="#3a3a3a" stroke-width="1.0" stroke-dasharray="2.2 1.8"/>
<line x1="573.60" y1="813.80" x2="573.60" y2="832.20" stroke="#3a3a3a" stroke-width="1.0" stroke-dasharray="2.2 1.8"/>
<line x1="573.60" y1="836.10" x2="573.60" y2="854.50" stroke="#3a3a3a" stroke-width="1.0" stroke-dasharray="2.2 1.8"/>
<line x1="573.60" y1="858.40" x2="573.60" y2="876.80" stroke="#3a3a3a" stroke-width="1.0" stroke-dasharray="2.2 1.8"/>
<line x1="573.60" y1="880.70" x2="573.60" y2="899.10" stroke="#3a3a3a" stroke-width="1.0" stroke-dasharray="2.2 1.8"/>
<line x1="573.60" y1="903.00" x2="573.60" y2="921.40" stroke="#3a3a3a" stroke-width="1.0" stroke-dasharray="2.2 1.8"/>
<line x1="573.60" y1="925.30" x2="573.60" y2="943.70" stroke="#3a3a3a" stroke-width="1.0" stroke-dasharray="2.2 1.8"/>
<line x1="573.60" y1="947.60" x2="573.60" y2="966.00" stroke="#3a3a3a" stroke-width="1.0" stroke-dasharray="2.2 1.8"/>
<line x1="573.60" y1="966.70" x2="573.60" y2="1031.00" stroke="#3a3a3a" stroke-width="1.0" stroke-dasharray="2.2 1.8"/>
<text x="425.6" y="975.8" font-size="7.9">Chr. 15</text>
<text x="486.1" y="975.8" font-size="7.9" text-anchor="middle">36.34</text>
<text x="649.9" y="975.9" font-size="7.9">36.53Mb</text>
<text x="549.5" y="989.8" font-size="7.9" font-style="italic" fill="#231F20">LMF2</text>
<rect x="558.2" y="976.1" width="4.4" height="7.9" fill="#111"/>
<text x="533.1" y="1005.0" font-size="7.9" font-style="italic" fill="#231F20">SCO2</text>
<line x1="545.5" y1="992.2" x2="545.5" y2="998.6" stroke="#222" stroke-width="1.0"/>
<text x="523.8" y="1022.2" font-size="7.9" font-style="italic" fill="#231F20">ODF3B</text>
<line x1="540.5" y1="1009.4" x2="540.5" y2="1016.1" stroke="#222" stroke-width="1.0"/>
<text x="498.1" y="1038.9" font-size="7.9" font-style="italic" fill="#231F20">KLHDC7B</text>
<rect x="519.4" y="1024.3" width="3.8" height="7.9" fill="#111"/>
<text x="575.8" y="1018.1" font-size="7.9" font-style="italic" fill="#231F20">ADM2</text>
<line x1="577.5" y1="1004.4" x2="577.5" y2="1011.1" stroke="#333" stroke-width="1.0"/>
<text x="561.8" y="1029.8" font-size="7.9" font-style="italic" fill="#FF1F1F">MIOX</text>
<rect x="571.2" y="1016.1" width="2.0" height="6.7" fill="#111"/>
<text x="614.9" y="1007.3" font-size="7.9" font-style="italic" fill="#231F20">PPP6R2</text>
<line x1="608.5" y1="995.8" x2="652.3" y2="995.8" stroke="#999" stroke-width="0.6"/>
<line x1="608.5" y1="992.2" x2="608.5" y2="999.5" stroke="#777" stroke-width="1"/>
<line x1="610.5" y1="992.2" x2="610.5" y2="999.5" stroke="#444" stroke-width="1"/>
<line x1="611.5" y1="992.2" x2="611.5" y2="999.5" stroke="#222" stroke-width="1"/>
<line x1="612.5" y1="992.2" x2="612.5" y2="999.5" stroke="#333" stroke-width="1"/>
<line x1="613.5" y1="992.2" x2="613.5" y2="999.5" stroke="#555" stroke-width="1"/>
<line x1="616.5" y1="992.2" x2="616.5" y2="999.5" stroke="#444" stroke-width="1"/>
<line x1="618.5" y1="992.2" x2="618.5" y2="999.5" stroke="#666" stroke-width="1"/>
<line x1="620.5" y1="992.2" x2="620.5" y2="999.5" stroke="#555" stroke-width="1"/>
<line x1="622.5" y1="992.2" x2="622.5" y2="999.5" stroke="#444" stroke-width="1"/>
<line x1="624.5" y1="992.2" x2="624.5" y2="999.5" stroke="#666" stroke-width="1"/>
<line x1="626.5" y1="992.2" x2="626.5" y2="999.5" stroke="#555" stroke-width="1"/>
<line x1="637.5" y1="992.2" x2="637.5" y2="999.5" stroke="#777" stroke-width="1"/>
<line x1="644.5" y1="992.2" x2="644.5" y2="999.5" stroke="#666" stroke-width="1"/>
<line x1="651.5" y1="992.2" x2="651.5" y2="999.5" stroke="#777" stroke-width="1"/>
</svg>
</body></html>
